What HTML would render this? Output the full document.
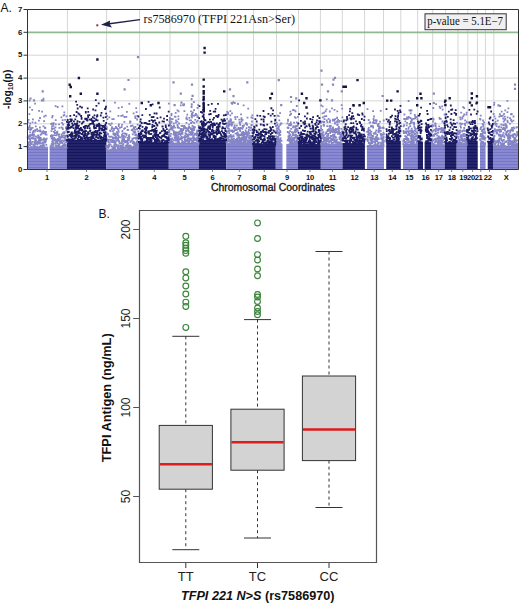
<!DOCTYPE html>
<html><head><meta charset="utf-8"><style>
html,body{margin:0;padding:0;background:#fff;width:520px;height:606px;overflow:hidden}
svg{display:block}
text{font-family:"Liberation Sans",sans-serif;fill:#111}
.yt{font-size:7.8px;font-weight:bold}
.xt{font-size:7.6px;font-weight:bold;letter-spacing:-0.3px}
.xl{font-size:10px;stroke:#111;stroke-width:0.3px}
.yl{font-size:10.2px;font-weight:bold}
.lab{font-size:12px}
.ann{font-family:"Liberation Serif",serif;font-size:12px}
.pv{font-family:"Liberation Serif",serif;font-size:11.8px}
.bt{font-size:12px;fill:#222}
.byl{font-size:12.6px;font-weight:bold}
.bx{font-size:13px;fill:#222}
.bxl{font-size:13px;font-weight:bold}
</style></head><body>
<svg width="520" height="606" viewBox="0 0 520 606" shape-rendering="auto">
<defs><pattern id="pd" patternUnits="userSpaceOnUse" x="0" y="0.5" width="4" height="3"><rect width="4" height="3" fill="#16165c"/><rect y="0" width="4" height="1" fill="#33337c"/></pattern><pattern id="pl" patternUnits="userSpaceOnUse" x="0" y="0.5" width="4" height="3"><rect width="4" height="3" fill="#7676c8"/><rect y="0" width="4" height="1" fill="#9c9cda"/></pattern></defs>
<line x1="27.5" y1="146.6" x2="518.5" y2="146.6" stroke="#d6d6d6" stroke-width="1"/>
<line x1="27.5" y1="123.8" x2="518.5" y2="123.8" stroke="#d6d6d6" stroke-width="1"/>
<line x1="27.5" y1="100.9" x2="518.5" y2="100.9" stroke="#d6d6d6" stroke-width="1"/>
<line x1="27.5" y1="78.1" x2="518.5" y2="78.1" stroke="#d6d6d6" stroke-width="1"/>
<line x1="27.5" y1="55.2" x2="518.5" y2="55.2" stroke="#d6d6d6" stroke-width="1"/>
<line x1="27.5" y1="9.5" x2="518.5" y2="9.5" stroke="#d6d6d6" stroke-width="1"/>
<line x1="67.4" y1="9.5" x2="67.4" y2="169.5" stroke="#d6d6d6" stroke-width="1"/>
<line x1="106.6" y1="9.5" x2="106.6" y2="169.5" stroke="#d6d6d6" stroke-width="1"/>
<line x1="139.6" y1="9.5" x2="139.6" y2="169.5" stroke="#d6d6d6" stroke-width="1"/>
<line x1="170.0" y1="9.5" x2="170.0" y2="169.5" stroke="#d6d6d6" stroke-width="1"/>
<line x1="198.8" y1="9.5" x2="198.8" y2="169.5" stroke="#d6d6d6" stroke-width="1"/>
<line x1="227.2" y1="9.5" x2="227.2" y2="169.5" stroke="#d6d6d6" stroke-width="1"/>
<line x1="253.5" y1="9.5" x2="253.5" y2="169.5" stroke="#d6d6d6" stroke-width="1"/>
<line x1="276.5" y1="9.5" x2="276.5" y2="169.5" stroke="#d6d6d6" stroke-width="1"/>
<line x1="298.5" y1="9.5" x2="298.5" y2="169.5" stroke="#d6d6d6" stroke-width="1"/>
<line x1="320.4" y1="9.5" x2="320.4" y2="169.5" stroke="#d6d6d6" stroke-width="1"/>
<line x1="342.3" y1="9.5" x2="342.3" y2="169.5" stroke="#d6d6d6" stroke-width="1"/>
<line x1="364.6" y1="9.5" x2="364.6" y2="169.5" stroke="#d6d6d6" stroke-width="1"/>
<line x1="383.5" y1="9.5" x2="383.5" y2="169.5" stroke="#d6d6d6" stroke-width="1"/>
<line x1="400.8" y1="9.5" x2="400.8" y2="169.5" stroke="#d6d6d6" stroke-width="1"/>
<line x1="417.7" y1="9.5" x2="417.7" y2="169.5" stroke="#d6d6d6" stroke-width="1"/>
<line x1="432.7" y1="9.5" x2="432.7" y2="169.5" stroke="#d6d6d6" stroke-width="1"/>
<line x1="445.4" y1="9.5" x2="445.4" y2="169.5" stroke="#d6d6d6" stroke-width="1"/>
<line x1="458.0" y1="9.5" x2="458.0" y2="169.5" stroke="#d6d6d6" stroke-width="1"/>
<line x1="467.8" y1="9.5" x2="467.8" y2="169.5" stroke="#d6d6d6" stroke-width="1"/>
<line x1="477.4" y1="9.5" x2="477.4" y2="169.5" stroke="#d6d6d6" stroke-width="1"/>
<line x1="485.4" y1="9.5" x2="485.4" y2="169.5" stroke="#d6d6d6" stroke-width="1"/>
<line x1="493.8" y1="9.5" x2="493.8" y2="169.5" stroke="#d6d6d6" stroke-width="1"/>
<line x1="27.5" y1="32.3" x2="518.5" y2="32.3" stroke="#8dbb8d" stroke-width="1.7"/>
<rect x="27.5" y="147.1" width="39.3" height="22.4" fill="url(#pl)"/>
<rect x="48.0" y="146.1" width="1.6" height="23.4" fill="#fff"/>
<rect x="66.8" y="139.8" width="39.5" height="29.7" fill="url(#pd)"/>
<rect x="106.3" y="149.4" width="32.0" height="20.1" fill="url(#pl)"/>
<rect x="138.3" y="142.1" width="30.5" height="27.4" fill="url(#pd)"/>
<rect x="168.8" y="142.8" width="30.0" height="26.7" fill="url(#pl)"/>
<rect x="198.8" y="139.8" width="27.5" height="29.7" fill="url(#pd)"/>
<rect x="226.3" y="143.4" width="26.2" height="26.1" fill="url(#pl)"/>
<rect x="252.5" y="143.9" width="23.3" height="25.6" fill="url(#pd)"/>
<rect x="275.8" y="143.9" width="22.2" height="25.6" fill="url(#pl)"/>
<rect x="282.5" y="142.9" width="3.8" height="26.6" fill="#fff"/>
<rect x="298.0" y="143.9" width="22.8" height="25.6" fill="url(#pd)"/>
<rect x="320.8" y="143.9" width="21.7" height="25.6" fill="url(#pl)"/>
<rect x="342.5" y="143.2" width="22.4" height="26.3" fill="url(#pd)"/>
<rect x="366.9" y="145.0" width="17.1" height="24.5" fill="url(#pl)"/>
<rect x="386.2" y="140.9" width="14.6" height="28.6" fill="url(#pd)"/>
<rect x="403.0" y="144.4" width="14.7" height="25.1" fill="url(#pl)"/>
<rect x="417.7" y="141.6" width="13.8" height="27.9" fill="url(#pd)"/>
<rect x="423.0" y="140.6" width="1.6" height="28.9" fill="#fff"/>
<rect x="431.5" y="144.4" width="13.2" height="25.1" fill="url(#pl)"/>
<rect x="444.7" y="142.1" width="12.0" height="27.4" fill="url(#pd)"/>
<rect x="456.7" y="144.4" width="10.2" height="25.1" fill="url(#pl)"/>
<rect x="466.9" y="140.9" width="10.8" height="28.6" fill="url(#pd)"/>
<rect x="480.0" y="144.4" width="5.4" height="25.1" fill="url(#pl)"/>
<rect x="487.7" y="140.9" width="5.3" height="28.6" fill="url(#pd)"/>
<rect x="493.0" y="145.7" width="25.0" height="23.8" fill="url(#pl)"/>
<path fill="#8585c6" d="M38.4 146.9h1.8v1.8h-1.8zM26.8 147.0h1.8v1.8h-1.8zM57.9 147.1h1.8v1.8h-1.8zM38.5 147.2h1.8v1.8h-1.8zM36.6 147.1h1.8v1.8h-1.8zM65.7 147.0h1.8v1.8h-1.8zM51.1 146.9h1.8v1.8h-1.8zM35.1 147.3h1.8v1.8h-1.8zM50.7 147.3h1.8v1.8h-1.8zM28.0 147.1h1.8v1.8h-1.8zM44.9 146.9h1.8v1.8h-1.8zM51.3 147.1h1.8v1.8h-1.8zM36.3 147.3h1.8v1.8h-1.8zM34.5 146.7h1.8v1.8h-1.8zM26.7 146.5h1.8v1.8h-1.8zM32.7 146.8h1.8v1.8h-1.8zM61.2 146.6h1.8v1.8h-1.8zM59.9 146.6h1.8v1.8h-1.8zM55.8 146.8h1.8v1.8h-1.8zM60.8 146.7h1.8v1.8h-1.8zM41.8 146.3h1.8v1.8h-1.8zM32.5 146.1h1.8v1.8h-1.8zM41.5 146.0h1.8v1.8h-1.8zM49.8 146.1h1.8v1.8h-1.8zM51.7 146.1h1.8v1.8h-1.8zM32.5 146.2h1.8v1.8h-1.8zM36.0 146.2h1.8v1.8h-1.8zM30.4 146.0h1.8v1.8h-1.8zM35.0 146.1h1.8v1.8h-1.8zM38.4 146.0h1.8v1.8h-1.8zM52.6 146.4h1.8v1.8h-1.8zM59.8 146.0h1.8v1.8h-1.8zM62.1 146.2h1.8v1.8h-1.8zM63.1 145.7h1.8v1.8h-1.8zM33.7 145.6h1.8v1.8h-1.8zM51.8 145.7h1.8v1.8h-1.8zM41.4 145.8h1.8v1.8h-1.8zM36.0 146.0h1.8v1.8h-1.8zM61.0 145.8h1.8v1.8h-1.8zM39.3 145.6h1.8v1.8h-1.8zM60.9 145.4h1.8v1.8h-1.8zM49.8 145.2h1.8v1.8h-1.8zM40.6 145.3h1.8v1.8h-1.8zM56.7 145.1h1.8v1.8h-1.8zM32.5 145.1h1.8v1.8h-1.8zM26.8 145.2h1.8v1.8h-1.8zM58.5 145.4h1.8v1.8h-1.8zM43.1 145.1h1.8v1.8h-1.8zM27.2 145.2h1.8v1.8h-1.8zM57.8 145.3h1.8v1.8h-1.8zM55.1 145.4h1.8v1.8h-1.8zM33.7 144.9h1.8v1.8h-1.8zM63.9 144.8h1.8v1.8h-1.8zM40.0 144.9h1.8v1.8h-1.8zM64.0 144.9h1.8v1.8h-1.8zM65.1 144.8h1.8v1.8h-1.8zM61.8 144.7h1.8v1.8h-1.8zM42.8 144.2h1.8v1.8h-1.8zM29.3 144.4h1.8v1.8h-1.8zM64.0 144.5h1.8v1.8h-1.8zM58.3 144.3h1.8v1.8h-1.8zM54.8 144.3h1.8v1.8h-1.8zM64.8 144.4h1.8v1.8h-1.8zM42.3 144.5h1.8v1.8h-1.8zM28.6 144.5h1.8v1.8h-1.8zM62.6 144.2h1.8v1.8h-1.8zM45.4 143.9h1.8v1.8h-1.8zM52.5 144.0h1.8v1.8h-1.8zM64.4 143.9h1.8v1.8h-1.8zM51.3 143.8h1.8v1.8h-1.8zM33.8 144.1h1.8v1.8h-1.8zM42.8 143.8h1.8v1.8h-1.8zM31.0 143.3h1.8v1.8h-1.8zM58.1 143.3h1.8v1.8h-1.8zM62.6 143.7h1.8v1.8h-1.8zM27.8 143.7h1.8v1.8h-1.8zM36.5 143.6h1.8v1.8h-1.8zM34.0 143.4h1.8v1.8h-1.8zM28.1 143.4h1.8v1.8h-1.8zM33.1 143.4h1.8v1.8h-1.8zM27.4 143.5h1.8v1.8h-1.8zM63.5 143.4h1.8v1.8h-1.8zM58.5 143.4h1.8v1.8h-1.8zM50.6 143.6h1.8v1.8h-1.8zM51.2 142.9h1.8v1.8h-1.8zM38.9 142.8h1.8v1.8h-1.8zM57.9 143.2h1.8v1.8h-1.8zM56.7 142.8h1.8v1.8h-1.8zM34.4 143.0h1.8v1.8h-1.8zM51.7 142.9h1.8v1.8h-1.8zM30.4 142.9h1.8v1.8h-1.8zM51.4 142.8h1.8v1.8h-1.8zM58.2 143.1h1.8v1.8h-1.8zM27.6 142.5h1.8v1.8h-1.8zM35.0 142.5h1.8v1.8h-1.8zM63.7 142.6h1.8v1.8h-1.8zM36.5 142.6h1.8v1.8h-1.8zM52.4 142.7h1.8v1.8h-1.8zM41.6 142.7h1.8v1.8h-1.8zM52.6 142.4h1.8v1.8h-1.8zM41.4 142.6h1.8v1.8h-1.8zM35.1 142.7h1.8v1.8h-1.8zM39.6 142.6h1.8v1.8h-1.8zM29.8 142.4h1.8v1.8h-1.8zM38.4 142.7h1.8v1.8h-1.8zM56.6 142.7h1.8v1.8h-1.8zM29.8 141.9h1.8v1.8h-1.8zM37.2 142.2h1.8v1.8h-1.8zM59.3 142.0h1.8v1.8h-1.8zM34.0 142.1h1.8v1.8h-1.8zM61.3 142.1h1.8v1.8h-1.8zM54.5 142.3h1.8v1.8h-1.8zM33.8 141.5h1.8v1.8h-1.8zM51.9 141.5h1.8v1.8h-1.8zM65.8 141.4h1.8v1.8h-1.8zM59.7 141.5h1.8v1.8h-1.8zM42.1 141.6h1.8v1.8h-1.8zM33.8 141.5h1.8v1.8h-1.8zM56.4 141.5h1.8v1.8h-1.8zM44.1 141.7h1.8v1.8h-1.8zM43.1 141.8h1.8v1.8h-1.8zM59.8 141.6h1.8v1.8h-1.8zM41.8 141.6h1.8v1.8h-1.8zM55.0 141.7h1.8v1.8h-1.8zM59.2 141.4h1.8v1.8h-1.8zM65.4 141.3h1.8v1.8h-1.8zM33.5 141.1h1.8v1.8h-1.8zM44.1 141.1h1.8v1.8h-1.8zM34.1 141.0h1.8v1.8h-1.8zM35.1 141.0h1.8v1.8h-1.8zM29.3 141.2h1.8v1.8h-1.8zM27.9 141.3h1.8v1.8h-1.8zM38.9 141.1h1.8v1.8h-1.8zM44.5 141.4h1.8v1.8h-1.8zM31.4 140.9h1.8v1.8h-1.8zM60.4 140.7h1.8v1.8h-1.8zM33.8 140.6h1.8v1.8h-1.8zM37.0 140.7h1.8v1.8h-1.8zM37.7 140.7h1.8v1.8h-1.8zM51.3 140.7h1.8v1.8h-1.8zM62.6 140.5h1.8v1.8h-1.8zM39.0 140.2h1.8v1.8h-1.8zM29.2 140.4h1.8v1.8h-1.8zM44.9 140.1h1.8v1.8h-1.8zM56.5 140.1h1.8v1.8h-1.8zM56.5 140.2h1.8v1.8h-1.8zM60.0 140.2h1.8v1.8h-1.8zM55.5 140.3h1.8v1.8h-1.8zM64.5 139.8h1.8v1.8h-1.8zM58.2 139.9h1.8v1.8h-1.8zM58.1 139.7h1.8v1.8h-1.8zM51.9 139.6h1.8v1.8h-1.8zM43.6 139.8h1.8v1.8h-1.8zM53.8 139.6h1.8v1.8h-1.8zM39.8 139.7h1.8v1.8h-1.8zM34.8 139.8h1.8v1.8h-1.8zM56.8 140.0h1.8v1.8h-1.8zM63.2 139.5h1.8v1.8h-1.8zM44.4 139.3h1.8v1.8h-1.8zM29.5 139.3h1.8v1.8h-1.8zM35.3 139.5h1.8v1.8h-1.8zM61.1 139.5h1.8v1.8h-1.8zM56.3 138.9h1.8v1.8h-1.8zM39.9 138.7h1.8v1.8h-1.8zM41.6 138.7h1.8v1.8h-1.8zM57.5 138.9h1.8v1.8h-1.8zM54.6 139.1h1.8v1.8h-1.8zM41.9 138.7h1.8v1.8h-1.8zM52.7 138.8h1.8v1.8h-1.8zM43.1 139.0h1.8v1.8h-1.8zM38.1 139.0h1.8v1.8h-1.8zM43.5 138.7h1.8v1.8h-1.8zM40.5 138.9h1.8v1.8h-1.8zM41.2 138.8h1.8v1.8h-1.8zM34.4 138.5h1.8v1.8h-1.8zM59.1 138.3h1.8v1.8h-1.8zM45.2 138.3h1.8v1.8h-1.8zM44.6 138.5h1.8v1.8h-1.8zM34.5 138.5h1.8v1.8h-1.8zM54.4 138.3h1.8v1.8h-1.8zM28.8 138.3h1.8v1.8h-1.8zM58.7 138.4h1.8v1.8h-1.8zM29.1 138.3h1.8v1.8h-1.8zM64.4 138.1h1.8v1.8h-1.8zM38.6 138.1h1.8v1.8h-1.8zM29.3 138.0h1.8v1.8h-1.8zM56.9 137.9h1.8v1.8h-1.8zM34.3 138.1h1.8v1.8h-1.8zM39.2 137.8h1.8v1.8h-1.8zM45.8 137.8h1.8v1.8h-1.8zM52.4 137.9h1.8v1.8h-1.8zM32.0 137.7h1.8v1.8h-1.8zM37.7 137.3h1.8v1.8h-1.8zM27.6 137.7h1.8v1.8h-1.8zM33.1 137.5h1.8v1.8h-1.8zM27.2 137.5h1.8v1.8h-1.8zM33.0 137.6h1.8v1.8h-1.8zM57.7 137.7h1.8v1.8h-1.8zM50.9 137.6h1.8v1.8h-1.8zM43.0 137.4h1.8v1.8h-1.8zM64.1 136.9h1.8v1.8h-1.8zM31.1 137.1h1.8v1.8h-1.8zM27.9 136.9h1.8v1.8h-1.8zM62.6 136.8h1.8v1.8h-1.8zM50.6 137.0h1.8v1.8h-1.8zM53.3 137.0h1.8v1.8h-1.8zM64.0 137.0h1.8v1.8h-1.8zM39.8 137.0h1.8v1.8h-1.8zM31.8 136.7h1.8v1.8h-1.8zM38.5 136.6h1.8v1.8h-1.8zM63.1 136.7h1.8v1.8h-1.8zM61.9 136.5h1.8v1.8h-1.8zM60.1 136.6h1.8v1.8h-1.8zM26.7 136.5h1.8v1.8h-1.8zM36.2 136.8h1.8v1.8h-1.8zM58.6 136.3h1.8v1.8h-1.8zM28.0 136.1h1.8v1.8h-1.8zM59.9 136.3h1.8v1.8h-1.8zM37.4 136.0h1.8v1.8h-1.8zM50.5 136.2h1.8v1.8h-1.8zM51.3 136.2h1.8v1.8h-1.8zM64.4 135.6h1.8v1.8h-1.8zM34.6 135.6h1.8v1.8h-1.8zM37.6 135.7h1.8v1.8h-1.8zM60.4 135.7h1.8v1.8h-1.8zM37.9 135.8h1.8v1.8h-1.8zM29.6 135.8h1.8v1.8h-1.8zM37.3 135.8h1.8v1.8h-1.8zM29.1 135.7h1.8v1.8h-1.8zM35.0 135.6h1.8v1.8h-1.8zM61.4 135.2h1.8v1.8h-1.8zM58.2 135.4h1.8v1.8h-1.8zM50.0 135.1h1.8v1.8h-1.8zM60.7 135.5h1.8v1.8h-1.8zM64.7 134.8h1.8v1.8h-1.8zM28.2 134.8h1.8v1.8h-1.8zM32.6 135.0h1.8v1.8h-1.8zM64.1 134.7h1.8v1.8h-1.8zM52.0 134.8h1.8v1.8h-1.8zM50.9 134.2h1.8v1.8h-1.8zM31.9 134.3h1.8v1.8h-1.8zM55.4 134.4h1.8v1.8h-1.8zM37.2 134.4h1.8v1.8h-1.8zM53.6 134.3h1.8v1.8h-1.8zM30.8 134.2h1.8v1.8h-1.8zM62.9 134.5h1.8v1.8h-1.8zM39.7 134.0h1.8v1.8h-1.8zM45.1 133.7h1.8v1.8h-1.8zM29.4 134.0h1.8v1.8h-1.8zM45.7 133.8h1.8v1.8h-1.8zM58.4 133.5h1.8v1.8h-1.8zM57.3 133.6h1.8v1.8h-1.8zM60.8 133.5h1.8v1.8h-1.8zM44.5 133.3h1.8v1.8h-1.8zM33.1 133.6h1.8v1.8h-1.8zM31.7 133.0h1.8v1.8h-1.8zM40.6 132.9h1.8v1.8h-1.8zM56.3 132.6h1.8v1.8h-1.8zM42.5 132.4h1.8v1.8h-1.8zM43.8 132.0h1.8v1.8h-1.8zM63.4 132.2h1.8v1.8h-1.8zM54.6 132.0h1.8v1.8h-1.8zM31.8 131.8h1.8v1.8h-1.8zM53.9 132.2h1.8v1.8h-1.8zM62.2 132.2h1.8v1.8h-1.8zM62.7 131.5h1.8v1.8h-1.8zM29.2 131.5h1.8v1.8h-1.8zM44.6 131.5h1.8v1.8h-1.8zM44.4 130.9h1.8v1.8h-1.8zM63.8 131.2h1.8v1.8h-1.8zM63.6 131.2h1.8v1.8h-1.8zM41.3 131.0h1.8v1.8h-1.8zM45.1 131.1h1.8v1.8h-1.8zM41.8 131.1h1.8v1.8h-1.8zM32.1 131.3h1.8v1.8h-1.8zM56.2 131.1h1.8v1.8h-1.8zM53.0 131.0h1.8v1.8h-1.8zM56.5 130.7h1.8v1.8h-1.8zM39.3 130.6h1.8v1.8h-1.8zM33.9 130.8h1.8v1.8h-1.8zM42.5 130.2h1.8v1.8h-1.8zM36.6 130.3h1.8v1.8h-1.8zM50.6 130.2h1.8v1.8h-1.8zM32.7 130.1h1.8v1.8h-1.8zM34.5 129.5h1.8v1.8h-1.8zM37.9 129.7h1.8v1.8h-1.8zM65.5 129.5h1.8v1.8h-1.8zM54.2 129.4h1.8v1.8h-1.8zM39.5 129.5h1.8v1.8h-1.8zM34.6 128.9h1.8v1.8h-1.8zM29.4 129.0h1.8v1.8h-1.8zM36.2 128.2h1.8v1.8h-1.8zM61.9 128.3h1.8v1.8h-1.8zM30.3 128.4h1.8v1.8h-1.8zM27.7 128.5h1.8v1.8h-1.8zM51.5 128.1h1.8v1.8h-1.8zM30.0 127.3h1.8v1.8h-1.8zM53.2 127.4h1.8v1.8h-1.8zM50.9 127.6h1.8v1.8h-1.8zM61.6 127.2h1.8v1.8h-1.8zM31.7 126.9h1.8v1.8h-1.8zM58.5 126.9h1.8v1.8h-1.8zM44.4 127.1h1.8v1.8h-1.8zM28.0 126.8h1.8v1.8h-1.8zM65.0 127.1h1.8v1.8h-1.8zM44.0 126.7h1.8v1.8h-1.8zM54.6 126.5h1.8v1.8h-1.8zM60.7 126.4h1.8v1.8h-1.8zM39.0 126.6h1.8v1.8h-1.8zM65.5 126.0h1.8v1.8h-1.8zM28.7 126.1h1.8v1.8h-1.8zM42.6 125.5h1.8v1.8h-1.8zM51.1 125.5h1.8v1.8h-1.8zM34.9 125.5h1.8v1.8h-1.8zM28.8 124.7h1.8v1.8h-1.8zM52.5 124.9h1.8v1.8h-1.8zM52.4 123.9h1.8v1.8h-1.8zM62.2 123.6h1.8v1.8h-1.8zM58.2 123.4h1.8v1.8h-1.8zM54.9 123.4h1.8v1.8h-1.8zM50.3 123.1h1.8v1.8h-1.8zM29.3 122.5h1.8v1.8h-1.8zM51.1 122.6h1.8v1.8h-1.8zM52.9 122.2h1.8v1.8h-1.8zM34.6 121.8h1.8v1.8h-1.8zM61.1 121.9h1.8v1.8h-1.8zM34.5 122.0h1.8v1.8h-1.8zM31.6 121.4h1.8v1.8h-1.8zM27.1 121.2h1.8v1.8h-1.8zM43.2 120.2h1.8v1.8h-1.8zM38.0 119.7h1.8v1.8h-1.8zM54.8 119.3h1.8v1.8h-1.8zM61.8 119.3h1.8v1.8h-1.8zM32.0 118.5h1.8v1.8h-1.8zM27.7 118.9h1.8v1.8h-1.8zM64.3 119.0h1.8v1.8h-1.8zM39.1 117.1h1.8v1.8h-1.8zM51.3 116.5h1.8v1.8h-1.8zM60.5 116.5h1.8v1.8h-1.8zM65.6 115.5h1.8v1.8h-1.8zM43.3 115.6h1.8v1.8h-1.8zM51.7 115.0h1.8v1.8h-1.8zM44.9 114.7h1.8v1.8h-1.8zM62.7 114.7h1.8v1.8h-1.8zM63.4 114.0h1.8v1.8h-1.8zM28.5 113.3h1.8v1.8h-1.8zM63.4 111.5h1.8v1.8h-1.8zM41.2 110.8h1.8v1.8h-1.8zM38.2 110.0h1.8v1.8h-1.8zM31.3 109.0h1.8v1.8h-1.8zM28.9 106.4h1.8v1.8h-1.8zM56.8 106.1h1.8v1.8h-1.8zM61.5 105.4h1.8v1.8h-1.8zM54.7 105.2h1.8v1.8h-1.8zM34.2 102.8h1.8v1.8h-1.8zM28.7 99.6h1.8v1.8h-1.8zM42.6 97.7h1.8v1.8h-1.8zM129.1 149.5h1.8v1.8h-1.8zM121.3 149.5h1.8v1.8h-1.8zM113.0 149.2h1.8v1.8h-1.8zM121.6 149.3h1.8v1.8h-1.8zM127.9 149.3h1.8v1.8h-1.8zM113.8 149.6h1.8v1.8h-1.8zM120.4 149.5h1.8v1.8h-1.8zM109.8 148.8h1.8v1.8h-1.8zM122.5 149.1h1.8v1.8h-1.8zM136.8 148.7h1.8v1.8h-1.8zM135.1 148.8h1.8v1.8h-1.8zM122.4 149.0h1.8v1.8h-1.8zM126.3 149.1h1.8v1.8h-1.8zM125.1 149.1h1.8v1.8h-1.8zM105.8 148.8h1.8v1.8h-1.8zM116.4 148.9h1.8v1.8h-1.8zM130.4 148.8h1.8v1.8h-1.8zM125.1 148.8h1.8v1.8h-1.8zM111.2 148.4h1.8v1.8h-1.8zM112.5 148.6h1.8v1.8h-1.8zM136.4 148.4h1.8v1.8h-1.8zM119.8 148.6h1.8v1.8h-1.8zM114.0 148.3h1.8v1.8h-1.8zM130.7 148.7h1.8v1.8h-1.8zM128.0 148.5h1.8v1.8h-1.8zM128.4 148.6h1.8v1.8h-1.8zM109.6 148.7h1.8v1.8h-1.8zM114.3 148.2h1.8v1.8h-1.8zM129.9 147.9h1.8v1.8h-1.8zM132.3 148.2h1.8v1.8h-1.8zM113.0 148.0h1.8v1.8h-1.8zM135.4 148.0h1.8v1.8h-1.8zM111.8 148.0h1.8v1.8h-1.8zM136.0 147.9h1.8v1.8h-1.8zM134.2 148.1h1.8v1.8h-1.8zM113.8 147.9h1.8v1.8h-1.8zM130.6 147.9h1.8v1.8h-1.8zM117.9 148.1h1.8v1.8h-1.8zM113.1 147.9h1.8v1.8h-1.8zM134.8 148.1h1.8v1.8h-1.8zM133.4 148.1h1.8v1.8h-1.8zM119.7 148.0h1.8v1.8h-1.8zM112.5 148.1h1.8v1.8h-1.8zM113.9 148.1h1.8v1.8h-1.8zM123.0 147.4h1.8v1.8h-1.8zM130.5 147.7h1.8v1.8h-1.8zM132.1 147.5h1.8v1.8h-1.8zM127.1 147.7h1.8v1.8h-1.8zM120.5 147.5h1.8v1.8h-1.8zM130.9 147.4h1.8v1.8h-1.8zM112.3 147.4h1.8v1.8h-1.8zM123.6 147.5h1.8v1.8h-1.8zM134.7 147.1h1.8v1.8h-1.8zM114.0 147.3h1.8v1.8h-1.8zM130.4 147.2h1.8v1.8h-1.8zM121.8 147.3h1.8v1.8h-1.8zM124.8 147.2h1.8v1.8h-1.8zM131.2 147.0h1.8v1.8h-1.8zM128.5 147.2h1.8v1.8h-1.8zM107.4 146.9h1.8v1.8h-1.8zM135.3 147.0h1.8v1.8h-1.8zM134.9 147.0h1.8v1.8h-1.8zM124.8 147.1h1.8v1.8h-1.8zM116.8 147.1h1.8v1.8h-1.8zM112.5 147.1h1.8v1.8h-1.8zM117.4 146.5h1.8v1.8h-1.8zM135.7 146.8h1.8v1.8h-1.8zM105.7 146.4h1.8v1.8h-1.8zM132.9 146.6h1.8v1.8h-1.8zM131.5 146.6h1.8v1.8h-1.8zM134.4 146.8h1.8v1.8h-1.8zM119.6 146.6h1.8v1.8h-1.8zM112.3 146.6h1.8v1.8h-1.8zM113.8 146.6h1.8v1.8h-1.8zM133.9 146.0h1.8v1.8h-1.8zM125.5 146.2h1.8v1.8h-1.8zM128.0 146.3h1.8v1.8h-1.8zM126.8 146.1h1.8v1.8h-1.8zM122.7 146.3h1.8v1.8h-1.8zM105.5 146.3h1.8v1.8h-1.8zM132.1 146.3h1.8v1.8h-1.8zM107.8 146.3h1.8v1.8h-1.8zM122.0 146.2h1.8v1.8h-1.8zM133.5 146.0h1.8v1.8h-1.8zM136.4 146.0h1.8v1.8h-1.8zM132.9 145.7h1.8v1.8h-1.8zM125.6 145.8h1.8v1.8h-1.8zM111.0 145.6h1.8v1.8h-1.8zM129.9 145.6h1.8v1.8h-1.8zM137.3 145.7h1.8v1.8h-1.8zM111.1 145.7h1.8v1.8h-1.8zM114.6 145.7h1.8v1.8h-1.8zM120.1 145.7h1.8v1.8h-1.8zM134.9 145.6h1.8v1.8h-1.8zM118.3 145.4h1.8v1.8h-1.8zM108.4 145.5h1.8v1.8h-1.8zM126.9 145.4h1.8v1.8h-1.8zM120.0 145.1h1.8v1.8h-1.8zM125.5 145.1h1.8v1.8h-1.8zM129.8 145.1h1.8v1.8h-1.8zM107.5 145.3h1.8v1.8h-1.8zM135.8 145.3h1.8v1.8h-1.8zM135.7 145.4h1.8v1.8h-1.8zM107.3 145.1h1.8v1.8h-1.8zM118.6 145.3h1.8v1.8h-1.8zM106.8 145.0h1.8v1.8h-1.8zM124.8 144.7h1.8v1.8h-1.8zM120.8 144.8h1.8v1.8h-1.8zM126.0 145.0h1.8v1.8h-1.8zM113.3 144.6h1.8v1.8h-1.8zM116.0 144.6h1.8v1.8h-1.8zM121.2 145.0h1.8v1.8h-1.8zM105.5 145.0h1.8v1.8h-1.8zM115.7 144.9h1.8v1.8h-1.8zM128.9 144.4h1.8v1.8h-1.8zM128.0 144.4h1.8v1.8h-1.8zM117.2 144.4h1.8v1.8h-1.8zM134.5 144.4h1.8v1.8h-1.8zM108.1 144.6h1.8v1.8h-1.8zM133.6 144.5h1.8v1.8h-1.8zM136.3 143.9h1.8v1.8h-1.8zM109.7 143.7h1.8v1.8h-1.8zM136.9 143.8h1.8v1.8h-1.8zM113.5 144.1h1.8v1.8h-1.8zM122.2 143.9h1.8v1.8h-1.8zM133.5 143.7h1.8v1.8h-1.8zM134.5 144.0h1.8v1.8h-1.8zM109.3 143.5h1.8v1.8h-1.8zM115.3 143.4h1.8v1.8h-1.8zM107.8 143.6h1.8v1.8h-1.8zM126.4 143.4h1.8v1.8h-1.8zM122.4 143.1h1.8v1.8h-1.8zM119.2 142.8h1.8v1.8h-1.8zM126.5 143.0h1.8v1.8h-1.8zM114.2 142.9h1.8v1.8h-1.8zM126.4 143.0h1.8v1.8h-1.8zM133.2 142.9h1.8v1.8h-1.8zM136.8 142.9h1.8v1.8h-1.8zM134.2 143.0h1.8v1.8h-1.8zM135.4 142.6h1.8v1.8h-1.8zM120.4 142.4h1.8v1.8h-1.8zM118.6 142.4h1.8v1.8h-1.8zM118.9 142.6h1.8v1.8h-1.8zM114.3 142.7h1.8v1.8h-1.8zM119.2 142.7h1.8v1.8h-1.8zM131.9 142.3h1.8v1.8h-1.8zM135.2 142.3h1.8v1.8h-1.8zM127.2 142.2h1.8v1.8h-1.8zM133.1 141.6h1.8v1.8h-1.8zM112.9 141.8h1.8v1.8h-1.8zM126.4 141.6h1.8v1.8h-1.8zM111.2 141.2h1.8v1.8h-1.8zM133.3 141.2h1.8v1.8h-1.8zM132.4 141.0h1.8v1.8h-1.8zM123.9 141.4h1.8v1.8h-1.8zM129.6 141.1h1.8v1.8h-1.8zM114.7 141.0h1.8v1.8h-1.8zM120.8 141.4h1.8v1.8h-1.8zM107.6 141.3h1.8v1.8h-1.8zM124.9 141.0h1.8v1.8h-1.8zM108.6 141.4h1.8v1.8h-1.8zM125.3 141.2h1.8v1.8h-1.8zM110.2 140.7h1.8v1.8h-1.8zM136.0 140.9h1.8v1.8h-1.8zM121.9 140.8h1.8v1.8h-1.8zM118.4 140.8h1.8v1.8h-1.8zM114.1 140.8h1.8v1.8h-1.8zM126.5 140.1h1.8v1.8h-1.8zM118.1 140.3h1.8v1.8h-1.8zM125.6 140.4h1.8v1.8h-1.8zM122.4 140.4h1.8v1.8h-1.8zM112.6 140.2h1.8v1.8h-1.8zM136.5 140.0h1.8v1.8h-1.8zM113.7 140.4h1.8v1.8h-1.8zM122.0 140.3h1.8v1.8h-1.8zM130.4 139.9h1.8v1.8h-1.8zM124.8 140.0h1.8v1.8h-1.8zM111.9 139.8h1.8v1.8h-1.8zM107.6 139.8h1.8v1.8h-1.8zM112.8 139.6h1.8v1.8h-1.8zM115.6 139.9h1.8v1.8h-1.8zM131.1 139.8h1.8v1.8h-1.8zM107.0 139.9h1.8v1.8h-1.8zM124.9 139.9h1.8v1.8h-1.8zM113.3 139.7h1.8v1.8h-1.8zM121.2 139.9h1.8v1.8h-1.8zM123.3 139.7h1.8v1.8h-1.8zM116.5 139.5h1.8v1.8h-1.8zM127.6 139.2h1.8v1.8h-1.8zM107.2 139.2h1.8v1.8h-1.8zM127.7 139.5h1.8v1.8h-1.8zM107.0 138.9h1.8v1.8h-1.8zM117.4 138.7h1.8v1.8h-1.8zM127.2 138.9h1.8v1.8h-1.8zM117.1 138.8h1.8v1.8h-1.8zM108.5 138.7h1.8v1.8h-1.8zM126.9 138.9h1.8v1.8h-1.8zM128.1 138.9h1.8v1.8h-1.8zM110.0 138.9h1.8v1.8h-1.8zM131.8 138.6h1.8v1.8h-1.8zM121.4 138.2h1.8v1.8h-1.8zM117.2 137.8h1.8v1.8h-1.8zM123.1 138.1h1.8v1.8h-1.8zM131.5 138.2h1.8v1.8h-1.8zM135.2 137.9h1.8v1.8h-1.8zM123.2 138.0h1.8v1.8h-1.8zM131.8 138.2h1.8v1.8h-1.8zM105.9 138.0h1.8v1.8h-1.8zM114.9 138.0h1.8v1.8h-1.8zM122.6 138.2h1.8v1.8h-1.8zM137.3 137.5h1.8v1.8h-1.8zM111.8 137.6h1.8v1.8h-1.8zM117.1 137.3h1.8v1.8h-1.8zM122.2 137.7h1.8v1.8h-1.8zM128.3 137.5h1.8v1.8h-1.8zM131.5 137.7h1.8v1.8h-1.8zM133.1 137.3h1.8v1.8h-1.8zM105.7 137.5h1.8v1.8h-1.8zM126.8 137.0h1.8v1.8h-1.8zM115.7 137.2h1.8v1.8h-1.8zM134.7 137.3h1.8v1.8h-1.8zM113.5 137.1h1.8v1.8h-1.8zM115.2 136.8h1.8v1.8h-1.8zM122.4 136.5h1.8v1.8h-1.8zM119.5 136.4h1.8v1.8h-1.8zM111.9 136.5h1.8v1.8h-1.8zM128.4 136.4h1.8v1.8h-1.8zM135.0 136.7h1.8v1.8h-1.8zM124.5 136.3h1.8v1.8h-1.8zM117.8 136.2h1.8v1.8h-1.8zM136.5 136.1h1.8v1.8h-1.8zM128.6 136.3h1.8v1.8h-1.8zM115.1 136.0h1.8v1.8h-1.8zM109.2 135.9h1.8v1.8h-1.8zM127.9 135.8h1.8v1.8h-1.8zM110.7 135.7h1.8v1.8h-1.8zM108.2 135.7h1.8v1.8h-1.8zM121.2 135.6h1.8v1.8h-1.8zM108.9 135.7h1.8v1.8h-1.8zM117.7 135.1h1.8v1.8h-1.8zM122.2 135.1h1.8v1.8h-1.8zM137.1 135.1h1.8v1.8h-1.8zM122.9 135.1h1.8v1.8h-1.8zM114.1 134.7h1.8v1.8h-1.8zM116.4 134.5h1.8v1.8h-1.8zM128.2 134.2h1.8v1.8h-1.8zM136.5 134.5h1.8v1.8h-1.8zM134.5 134.2h1.8v1.8h-1.8zM113.5 134.3h1.8v1.8h-1.8zM125.6 134.4h1.8v1.8h-1.8zM121.1 133.9h1.8v1.8h-1.8zM134.3 133.8h1.8v1.8h-1.8zM131.9 133.4h1.8v1.8h-1.8zM112.5 133.3h1.8v1.8h-1.8zM134.5 133.5h1.8v1.8h-1.8zM106.0 133.5h1.8v1.8h-1.8zM135.3 133.6h1.8v1.8h-1.8zM107.1 133.6h1.8v1.8h-1.8zM115.2 133.2h1.8v1.8h-1.8zM124.4 133.0h1.8v1.8h-1.8zM114.2 132.8h1.8v1.8h-1.8zM117.0 133.1h1.8v1.8h-1.8zM125.6 132.9h1.8v1.8h-1.8zM107.2 133.0h1.8v1.8h-1.8zM125.0 133.0h1.8v1.8h-1.8zM112.6 132.3h1.8v1.8h-1.8zM121.7 132.6h1.8v1.8h-1.8zM123.6 132.4h1.8v1.8h-1.8zM124.7 132.7h1.8v1.8h-1.8zM105.9 132.2h1.8v1.8h-1.8zM133.4 131.6h1.8v1.8h-1.8zM133.7 131.5h1.8v1.8h-1.8zM133.4 131.2h1.8v1.8h-1.8zM117.8 131.0h1.8v1.8h-1.8zM116.0 131.2h1.8v1.8h-1.8zM134.5 131.2h1.8v1.8h-1.8zM133.6 130.7h1.8v1.8h-1.8zM137.3 130.5h1.8v1.8h-1.8zM132.5 130.8h1.8v1.8h-1.8zM112.0 130.3h1.8v1.8h-1.8zM109.8 130.2h1.8v1.8h-1.8zM121.5 130.1h1.8v1.8h-1.8zM109.1 129.8h1.8v1.8h-1.8zM126.7 129.1h1.8v1.8h-1.8zM130.8 129.2h1.8v1.8h-1.8zM117.5 129.3h1.8v1.8h-1.8zM127.3 128.9h1.8v1.8h-1.8zM113.1 128.9h1.8v1.8h-1.8zM134.6 128.7h1.8v1.8h-1.8zM134.2 128.7h1.8v1.8h-1.8zM131.2 128.9h1.8v1.8h-1.8zM136.3 128.2h1.8v1.8h-1.8zM110.7 128.2h1.8v1.8h-1.8zM131.8 128.6h1.8v1.8h-1.8zM123.2 127.9h1.8v1.8h-1.8zM105.8 128.1h1.8v1.8h-1.8zM116.9 128.1h1.8v1.8h-1.8zM113.0 127.8h1.8v1.8h-1.8zM136.2 127.9h1.8v1.8h-1.8zM133.2 127.6h1.8v1.8h-1.8zM111.2 127.4h1.8v1.8h-1.8zM124.2 127.3h1.8v1.8h-1.8zM114.8 127.2h1.8v1.8h-1.8zM105.8 126.9h1.8v1.8h-1.8zM119.0 127.0h1.8v1.8h-1.8zM115.8 127.1h1.8v1.8h-1.8zM111.1 126.3h1.8v1.8h-1.8zM132.9 126.6h1.8v1.8h-1.8zM134.4 126.3h1.8v1.8h-1.8zM105.6 126.1h1.8v1.8h-1.8zM115.0 126.1h1.8v1.8h-1.8zM120.7 126.1h1.8v1.8h-1.8zM134.5 125.9h1.8v1.8h-1.8zM126.3 125.8h1.8v1.8h-1.8zM130.1 125.1h1.8v1.8h-1.8zM117.8 125.3h1.8v1.8h-1.8zM131.7 124.7h1.8v1.8h-1.8zM109.6 124.3h1.8v1.8h-1.8zM121.1 124.0h1.8v1.8h-1.8zM136.7 123.8h1.8v1.8h-1.8zM118.0 123.5h1.8v1.8h-1.8zM108.3 122.9h1.8v1.8h-1.8zM108.5 122.9h1.8v1.8h-1.8zM110.8 122.5h1.8v1.8h-1.8zM129.1 121.6h1.8v1.8h-1.8zM129.6 120.8h1.8v1.8h-1.8zM123.5 121.0h1.8v1.8h-1.8zM129.2 120.4h1.8v1.8h-1.8zM136.2 118.6h1.8v1.8h-1.8zM106.5 118.3h1.8v1.8h-1.8zM111.4 118.2h1.8v1.8h-1.8zM112.8 118.2h1.8v1.8h-1.8zM134.5 117.2h1.8v1.8h-1.8zM108.5 116.4h1.8v1.8h-1.8zM125.5 115.9h1.8v1.8h-1.8zM123.6 116.1h1.8v1.8h-1.8zM134.3 115.4h1.8v1.8h-1.8zM117.5 115.0h1.8v1.8h-1.8zM136.4 115.0h1.8v1.8h-1.8zM106.2 115.3h1.8v1.8h-1.8zM120.3 115.0h1.8v1.8h-1.8zM121.9 114.6h1.8v1.8h-1.8zM132.7 112.5h1.8v1.8h-1.8zM135.7 111.2h1.8v1.8h-1.8zM126.0 110.9h1.8v1.8h-1.8zM109.4 110.4h1.8v1.8h-1.8zM135.3 107.2h1.8v1.8h-1.8zM117.7 107.0h1.8v1.8h-1.8zM121.0 106.3h1.8v1.8h-1.8zM128.4 102.9h1.8v1.8h-1.8zM114.1 101.8h1.8v1.8h-1.8zM171.3 142.9h1.8v1.8h-1.8zM171.6 142.7h1.8v1.8h-1.8zM182.0 142.7h1.8v1.8h-1.8zM175.1 142.7h1.8v1.8h-1.8zM197.7 143.0h1.8v1.8h-1.8zM177.5 142.6h1.8v1.8h-1.8zM193.4 142.6h1.8v1.8h-1.8zM174.7 142.7h1.8v1.8h-1.8zM170.5 142.8h1.8v1.8h-1.8zM185.2 142.9h1.8v1.8h-1.8zM180.6 142.8h1.8v1.8h-1.8zM197.5 142.1h1.8v1.8h-1.8zM197.5 142.2h1.8v1.8h-1.8zM168.0 142.5h1.8v1.8h-1.8zM172.0 141.9h1.8v1.8h-1.8zM192.9 142.0h1.8v1.8h-1.8zM180.8 141.9h1.8v1.8h-1.8zM194.7 142.0h1.8v1.8h-1.8zM187.6 141.9h1.8v1.8h-1.8zM187.3 141.7h1.8v1.8h-1.8zM192.6 141.7h1.8v1.8h-1.8zM176.7 142.0h1.8v1.8h-1.8zM171.6 142.0h1.8v1.8h-1.8zM171.5 141.7h1.8v1.8h-1.8zM192.1 141.5h1.8v1.8h-1.8zM191.1 141.6h1.8v1.8h-1.8zM168.9 141.4h1.8v1.8h-1.8zM188.4 141.4h1.8v1.8h-1.8zM183.9 141.4h1.8v1.8h-1.8zM171.8 141.6h1.8v1.8h-1.8zM182.3 141.1h1.8v1.8h-1.8zM178.0 141.2h1.8v1.8h-1.8zM170.3 141.2h1.8v1.8h-1.8zM171.7 140.9h1.8v1.8h-1.8zM170.3 140.8h1.8v1.8h-1.8zM192.0 141.0h1.8v1.8h-1.8zM188.6 140.7h1.8v1.8h-1.8zM171.4 140.9h1.8v1.8h-1.8zM181.9 141.0h1.8v1.8h-1.8zM195.9 140.4h1.8v1.8h-1.8zM185.0 140.6h1.8v1.8h-1.8zM187.1 140.5h1.8v1.8h-1.8zM184.2 140.5h1.8v1.8h-1.8zM170.3 140.3h1.8v1.8h-1.8zM188.7 140.3h1.8v1.8h-1.8zM177.1 140.6h1.8v1.8h-1.8zM181.3 139.9h1.8v1.8h-1.8zM169.4 140.2h1.8v1.8h-1.8zM196.5 140.2h1.8v1.8h-1.8zM170.0 140.0h1.8v1.8h-1.8zM176.6 140.2h1.8v1.8h-1.8zM186.2 140.0h1.8v1.8h-1.8zM193.3 139.4h1.8v1.8h-1.8zM177.7 139.4h1.8v1.8h-1.8zM175.4 139.4h1.8v1.8h-1.8zM174.3 139.8h1.8v1.8h-1.8zM169.9 139.6h1.8v1.8h-1.8zM169.1 139.3h1.8v1.8h-1.8zM186.8 139.5h1.8v1.8h-1.8zM195.6 139.2h1.8v1.8h-1.8zM184.1 139.3h1.8v1.8h-1.8zM184.5 139.0h1.8v1.8h-1.8zM170.3 138.9h1.8v1.8h-1.8zM172.8 139.2h1.8v1.8h-1.8zM190.0 139.2h1.8v1.8h-1.8zM194.2 139.2h1.8v1.8h-1.8zM177.3 139.0h1.8v1.8h-1.8zM193.7 138.9h1.8v1.8h-1.8zM195.8 138.7h1.8v1.8h-1.8zM186.4 138.5h1.8v1.8h-1.8zM179.8 138.4h1.8v1.8h-1.8zM176.7 138.9h1.8v1.8h-1.8zM171.0 138.6h1.8v1.8h-1.8zM179.3 138.5h1.8v1.8h-1.8zM183.9 138.6h1.8v1.8h-1.8zM178.5 138.6h1.8v1.8h-1.8zM188.8 138.7h1.8v1.8h-1.8zM194.4 138.2h1.8v1.8h-1.8zM196.3 138.2h1.8v1.8h-1.8zM179.3 138.1h1.8v1.8h-1.8zM180.0 138.1h1.8v1.8h-1.8zM183.8 138.1h1.8v1.8h-1.8zM192.7 138.2h1.8v1.8h-1.8zM195.3 138.1h1.8v1.8h-1.8zM193.6 138.4h1.8v1.8h-1.8zM168.4 138.1h1.8v1.8h-1.8zM177.9 138.0h1.8v1.8h-1.8zM179.7 138.1h1.8v1.8h-1.8zM175.3 138.1h1.8v1.8h-1.8zM195.6 137.5h1.8v1.8h-1.8zM175.1 137.7h1.8v1.8h-1.8zM170.6 137.7h1.8v1.8h-1.8zM189.2 137.6h1.8v1.8h-1.8zM193.6 137.8h1.8v1.8h-1.8zM171.4 137.6h1.8v1.8h-1.8zM168.7 137.9h1.8v1.8h-1.8zM175.0 137.6h1.8v1.8h-1.8zM181.2 137.6h1.8v1.8h-1.8zM187.9 137.6h1.8v1.8h-1.8zM191.5 137.6h1.8v1.8h-1.8zM176.2 137.8h1.8v1.8h-1.8zM186.8 137.7h1.8v1.8h-1.8zM191.2 137.6h1.8v1.8h-1.8zM177.0 137.9h1.8v1.8h-1.8zM190.1 137.7h1.8v1.8h-1.8zM175.3 137.4h1.8v1.8h-1.8zM174.1 137.5h1.8v1.8h-1.8zM193.3 136.7h1.8v1.8h-1.8zM180.1 137.0h1.8v1.8h-1.8zM176.0 136.7h1.8v1.8h-1.8zM180.1 136.8h1.8v1.8h-1.8zM183.5 136.3h1.8v1.8h-1.8zM175.5 136.6h1.8v1.8h-1.8zM181.8 136.5h1.8v1.8h-1.8zM173.7 136.4h1.8v1.8h-1.8zM196.3 136.4h1.8v1.8h-1.8zM197.5 135.7h1.8v1.8h-1.8zM175.8 135.9h1.8v1.8h-1.8zM184.9 136.1h1.8v1.8h-1.8zM180.7 136.0h1.8v1.8h-1.8zM192.2 136.1h1.8v1.8h-1.8zM197.6 136.0h1.8v1.8h-1.8zM177.8 136.1h1.8v1.8h-1.8zM192.5 135.6h1.8v1.8h-1.8zM187.4 135.5h1.8v1.8h-1.8zM183.7 135.4h1.8v1.8h-1.8zM186.7 135.7h1.8v1.8h-1.8zM169.7 135.2h1.8v1.8h-1.8zM175.5 135.5h1.8v1.8h-1.8zM175.1 135.4h1.8v1.8h-1.8zM197.4 135.5h1.8v1.8h-1.8zM169.3 135.1h1.8v1.8h-1.8zM197.4 135.2h1.8v1.8h-1.8zM184.4 135.1h1.8v1.8h-1.8zM192.4 134.7h1.8v1.8h-1.8zM173.9 134.3h1.8v1.8h-1.8zM173.7 134.4h1.8v1.8h-1.8zM176.9 134.3h1.8v1.8h-1.8zM187.3 134.0h1.8v1.8h-1.8zM190.3 134.0h1.8v1.8h-1.8zM179.7 134.2h1.8v1.8h-1.8zM168.0 134.1h1.8v1.8h-1.8zM195.9 134.1h1.8v1.8h-1.8zM186.4 133.9h1.8v1.8h-1.8zM193.8 134.0h1.8v1.8h-1.8zM191.6 133.4h1.8v1.8h-1.8zM172.5 133.5h1.8v1.8h-1.8zM187.2 133.6h1.8v1.8h-1.8zM175.5 133.7h1.8v1.8h-1.8zM175.0 133.7h1.8v1.8h-1.8zM187.3 133.5h1.8v1.8h-1.8zM189.1 133.7h1.8v1.8h-1.8zM194.7 133.0h1.8v1.8h-1.8zM177.9 133.1h1.8v1.8h-1.8zM179.0 133.1h1.8v1.8h-1.8zM180.7 133.0h1.8v1.8h-1.8zM181.6 133.0h1.8v1.8h-1.8zM185.2 133.2h1.8v1.8h-1.8zM196.9 133.3h1.8v1.8h-1.8zM170.1 132.9h1.8v1.8h-1.8zM190.0 132.8h1.8v1.8h-1.8zM195.2 132.9h1.8v1.8h-1.8zM173.1 132.6h1.8v1.8h-1.8zM180.5 132.8h1.8v1.8h-1.8zM191.3 132.8h1.8v1.8h-1.8zM197.1 132.8h1.8v1.8h-1.8zM193.7 132.7h1.8v1.8h-1.8zM196.0 132.8h1.8v1.8h-1.8zM195.7 132.8h1.8v1.8h-1.8zM181.3 132.6h1.8v1.8h-1.8zM184.5 132.6h1.8v1.8h-1.8zM189.6 132.2h1.8v1.8h-1.8zM184.8 132.3h1.8v1.8h-1.8zM176.1 132.0h1.8v1.8h-1.8zM180.8 131.7h1.8v1.8h-1.8zM176.4 131.6h1.8v1.8h-1.8zM168.0 131.9h1.8v1.8h-1.8zM178.1 131.9h1.8v1.8h-1.8zM176.9 132.0h1.8v1.8h-1.8zM174.2 131.9h1.8v1.8h-1.8zM174.8 131.2h1.8v1.8h-1.8zM181.6 131.4h1.8v1.8h-1.8zM174.5 131.2h1.8v1.8h-1.8zM189.0 131.2h1.8v1.8h-1.8zM192.0 131.5h1.8v1.8h-1.8zM178.5 130.8h1.8v1.8h-1.8zM196.1 131.0h1.8v1.8h-1.8zM173.0 131.1h1.8v1.8h-1.8zM188.0 130.7h1.8v1.8h-1.8zM168.4 131.0h1.8v1.8h-1.8zM190.9 130.2h1.8v1.8h-1.8zM191.1 130.6h1.8v1.8h-1.8zM180.1 130.4h1.8v1.8h-1.8zM187.9 129.8h1.8v1.8h-1.8zM197.3 129.8h1.8v1.8h-1.8zM185.1 130.1h1.8v1.8h-1.8zM172.7 130.1h1.8v1.8h-1.8zM187.1 129.8h1.8v1.8h-1.8zM196.3 129.4h1.8v1.8h-1.8zM181.0 129.7h1.8v1.8h-1.8zM193.2 129.3h1.8v1.8h-1.8zM190.9 129.6h1.8v1.8h-1.8zM179.6 129.5h1.8v1.8h-1.8zM168.0 129.2h1.8v1.8h-1.8zM192.2 129.0h1.8v1.8h-1.8zM182.2 129.1h1.8v1.8h-1.8zM186.7 128.4h1.8v1.8h-1.8zM170.1 128.4h1.8v1.8h-1.8zM170.9 128.7h1.8v1.8h-1.8zM182.6 128.0h1.8v1.8h-1.8zM186.5 128.1h1.8v1.8h-1.8zM190.0 128.3h1.8v1.8h-1.8zM169.2 128.4h1.8v1.8h-1.8zM186.5 128.2h1.8v1.8h-1.8zM193.0 127.9h1.8v1.8h-1.8zM171.3 128.2h1.8v1.8h-1.8zM180.5 128.1h1.8v1.8h-1.8zM184.8 127.7h1.8v1.8h-1.8zM187.3 127.7h1.8v1.8h-1.8zM185.1 127.6h1.8v1.8h-1.8zM171.9 127.6h1.8v1.8h-1.8zM186.6 127.6h1.8v1.8h-1.8zM179.9 127.9h1.8v1.8h-1.8zM171.9 127.3h1.8v1.8h-1.8zM183.9 127.2h1.8v1.8h-1.8zM184.8 127.1h1.8v1.8h-1.8zM191.9 127.4h1.8v1.8h-1.8zM178.1 127.0h1.8v1.8h-1.8zM190.6 127.4h1.8v1.8h-1.8zM186.7 127.4h1.8v1.8h-1.8zM183.0 127.0h1.8v1.8h-1.8zM170.2 127.1h1.8v1.8h-1.8zM193.7 126.9h1.8v1.8h-1.8zM189.0 126.9h1.8v1.8h-1.8zM174.1 126.8h1.8v1.8h-1.8zM176.7 126.6h1.8v1.8h-1.8zM193.7 126.5h1.8v1.8h-1.8zM187.7 126.5h1.8v1.8h-1.8zM194.0 126.3h1.8v1.8h-1.8zM172.0 126.1h1.8v1.8h-1.8zM183.6 126.3h1.8v1.8h-1.8zM188.3 125.9h1.8v1.8h-1.8zM184.0 125.8h1.8v1.8h-1.8zM192.7 125.7h1.8v1.8h-1.8zM172.9 125.7h1.8v1.8h-1.8zM176.9 125.5h1.8v1.8h-1.8zM197.8 125.1h1.8v1.8h-1.8zM169.3 124.8h1.8v1.8h-1.8zM173.1 125.0h1.8v1.8h-1.8zM183.3 125.1h1.8v1.8h-1.8zM180.6 125.0h1.8v1.8h-1.8zM170.5 124.9h1.8v1.8h-1.8zM181.4 125.1h1.8v1.8h-1.8zM191.5 125.0h1.8v1.8h-1.8zM176.6 124.1h1.8v1.8h-1.8zM169.2 124.1h1.8v1.8h-1.8zM188.1 123.7h1.8v1.8h-1.8zM172.9 122.6h1.8v1.8h-1.8zM190.3 122.2h1.8v1.8h-1.8zM190.1 122.1h1.8v1.8h-1.8zM169.9 122.0h1.8v1.8h-1.8zM169.0 122.2h1.8v1.8h-1.8zM185.6 122.0h1.8v1.8h-1.8zM169.6 122.1h1.8v1.8h-1.8zM178.2 122.4h1.8v1.8h-1.8zM193.3 121.9h1.8v1.8h-1.8zM175.1 121.8h1.8v1.8h-1.8zM176.6 120.7h1.8v1.8h-1.8zM170.5 121.0h1.8v1.8h-1.8zM195.8 120.9h1.8v1.8h-1.8zM191.7 120.9h1.8v1.8h-1.8zM170.7 120.8h1.8v1.8h-1.8zM168.5 120.4h1.8v1.8h-1.8zM196.8 119.8h1.8v1.8h-1.8zM188.8 119.4h1.8v1.8h-1.8zM175.1 119.6h1.8v1.8h-1.8zM194.4 119.0h1.8v1.8h-1.8zM177.5 118.3h1.8v1.8h-1.8zM169.3 118.7h1.8v1.8h-1.8zM186.4 118.4h1.8v1.8h-1.8zM169.7 118.0h1.8v1.8h-1.8zM170.1 117.9h1.8v1.8h-1.8zM171.8 118.3h1.8v1.8h-1.8zM185.4 117.8h1.8v1.8h-1.8zM188.5 117.0h1.8v1.8h-1.8zM169.0 116.9h1.8v1.8h-1.8zM185.7 116.4h1.8v1.8h-1.8zM174.6 116.0h1.8v1.8h-1.8zM196.5 116.3h1.8v1.8h-1.8zM173.9 115.7h1.8v1.8h-1.8zM196.8 115.6h1.8v1.8h-1.8zM177.5 115.5h1.8v1.8h-1.8zM193.3 115.0h1.8v1.8h-1.8zM190.9 114.6h1.8v1.8h-1.8zM170.5 114.5h1.8v1.8h-1.8zM194.2 114.2h1.8v1.8h-1.8zM195.7 113.9h1.8v1.8h-1.8zM186.4 113.8h1.8v1.8h-1.8zM170.7 112.9h1.8v1.8h-1.8zM195.0 113.0h1.8v1.8h-1.8zM174.8 112.0h1.8v1.8h-1.8zM192.0 111.6h1.8v1.8h-1.8zM183.5 110.2h1.8v1.8h-1.8zM177.7 110.5h1.8v1.8h-1.8zM193.2 109.3h1.8v1.8h-1.8zM176.6 109.5h1.8v1.8h-1.8zM196.8 107.0h1.8v1.8h-1.8zM196.5 107.0h1.8v1.8h-1.8zM190.6 106.0h1.8v1.8h-1.8zM179.9 104.5h1.8v1.8h-1.8zM197.2 104.3h1.8v1.8h-1.8zM183.3 103.8h1.8v1.8h-1.8zM183.1 103.2h1.8v1.8h-1.8zM183.1 103.3h1.8v1.8h-1.8zM167.9 102.7h1.8v1.8h-1.8zM192.9 101.2h1.8v1.8h-1.8zM193.1 101.2h1.8v1.8h-1.8zM232.6 143.3h1.8v1.8h-1.8zM227.5 143.6h1.8v1.8h-1.8zM232.4 143.3h1.8v1.8h-1.8zM228.4 143.3h1.8v1.8h-1.8zM228.5 143.4h1.8v1.8h-1.8zM245.7 143.4h1.8v1.8h-1.8zM242.2 142.9h1.8v1.8h-1.8zM245.9 142.8h1.8v1.8h-1.8zM243.8 143.2h1.8v1.8h-1.8zM247.3 143.2h1.8v1.8h-1.8zM247.9 143.2h1.8v1.8h-1.8zM245.7 142.9h1.8v1.8h-1.8zM226.1 142.9h1.8v1.8h-1.8zM240.6 143.2h1.8v1.8h-1.8zM248.4 143.0h1.8v1.8h-1.8zM237.5 142.8h1.8v1.8h-1.8zM230.7 143.1h1.8v1.8h-1.8zM249.4 142.4h1.8v1.8h-1.8zM230.9 142.7h1.8v1.8h-1.8zM235.7 142.4h1.8v1.8h-1.8zM238.9 142.6h1.8v1.8h-1.8zM245.5 142.7h1.8v1.8h-1.8zM244.0 142.4h1.8v1.8h-1.8zM228.1 142.5h1.8v1.8h-1.8zM241.0 142.3h1.8v1.8h-1.8zM233.2 142.6h1.8v1.8h-1.8zM249.9 142.7h1.8v1.8h-1.8zM248.9 142.6h1.8v1.8h-1.8zM247.3 142.1h1.8v1.8h-1.8zM241.5 141.9h1.8v1.8h-1.8zM231.7 141.9h1.8v1.8h-1.8zM238.1 142.0h1.8v1.8h-1.8zM232.5 142.0h1.8v1.8h-1.8zM244.4 142.0h1.8v1.8h-1.8zM248.0 142.1h1.8v1.8h-1.8zM225.8 141.9h1.8v1.8h-1.8zM240.3 142.0h1.8v1.8h-1.8zM242.7 141.5h1.8v1.8h-1.8zM234.1 141.8h1.8v1.8h-1.8zM236.1 141.8h1.8v1.8h-1.8zM233.4 141.7h1.8v1.8h-1.8zM230.1 141.5h1.8v1.8h-1.8zM233.6 141.1h1.8v1.8h-1.8zM240.2 141.1h1.8v1.8h-1.8zM225.9 141.3h1.8v1.8h-1.8zM239.9 141.1h1.8v1.8h-1.8zM236.7 141.3h1.8v1.8h-1.8zM233.5 141.0h1.8v1.8h-1.8zM244.2 141.3h1.8v1.8h-1.8zM250.3 141.4h1.8v1.8h-1.8zM231.5 141.2h1.8v1.8h-1.8zM246.5 141.1h1.8v1.8h-1.8zM244.4 140.5h1.8v1.8h-1.8zM249.8 140.8h1.8v1.8h-1.8zM237.3 140.6h1.8v1.8h-1.8zM251.2 140.8h1.8v1.8h-1.8zM250.3 140.6h1.8v1.8h-1.8zM229.3 140.7h1.8v1.8h-1.8zM225.5 140.8h1.8v1.8h-1.8zM248.0 140.1h1.8v1.8h-1.8zM225.7 140.2h1.8v1.8h-1.8zM234.9 140.3h1.8v1.8h-1.8zM239.0 140.1h1.8v1.8h-1.8zM238.1 140.2h1.8v1.8h-1.8zM231.1 140.4h1.8v1.8h-1.8zM242.9 140.0h1.8v1.8h-1.8zM227.4 140.1h1.8v1.8h-1.8zM235.5 140.2h1.8v1.8h-1.8zM232.4 140.2h1.8v1.8h-1.8zM236.8 140.1h1.8v1.8h-1.8zM244.0 139.9h1.8v1.8h-1.8zM227.6 139.8h1.8v1.8h-1.8zM237.7 139.8h1.8v1.8h-1.8zM237.6 139.9h1.8v1.8h-1.8zM243.3 139.9h1.8v1.8h-1.8zM233.0 139.7h1.8v1.8h-1.8zM243.3 139.7h1.8v1.8h-1.8zM244.3 139.4h1.8v1.8h-1.8zM243.5 139.2h1.8v1.8h-1.8zM241.6 139.5h1.8v1.8h-1.8zM240.2 139.4h1.8v1.8h-1.8zM244.1 139.2h1.8v1.8h-1.8zM238.6 139.2h1.8v1.8h-1.8zM229.2 139.2h1.8v1.8h-1.8zM250.8 139.2h1.8v1.8h-1.8zM246.7 139.4h1.8v1.8h-1.8zM249.6 138.9h1.8v1.8h-1.8zM249.6 139.0h1.8v1.8h-1.8zM235.0 139.0h1.8v1.8h-1.8zM243.0 138.7h1.8v1.8h-1.8zM249.8 139.1h1.8v1.8h-1.8zM245.5 138.9h1.8v1.8h-1.8zM231.2 138.7h1.8v1.8h-1.8zM239.3 139.1h1.8v1.8h-1.8zM250.8 138.4h1.8v1.8h-1.8zM245.1 138.3h1.8v1.8h-1.8zM238.6 138.5h1.8v1.8h-1.8zM230.8 138.5h1.8v1.8h-1.8zM227.9 138.5h1.8v1.8h-1.8zM242.5 138.4h1.8v1.8h-1.8zM240.3 138.4h1.8v1.8h-1.8zM240.3 138.0h1.8v1.8h-1.8zM242.1 137.9h1.8v1.8h-1.8zM249.5 137.9h1.8v1.8h-1.8zM239.1 138.0h1.8v1.8h-1.8zM236.5 138.1h1.8v1.8h-1.8zM241.6 137.8h1.8v1.8h-1.8zM240.9 138.1h1.8v1.8h-1.8zM226.4 137.8h1.8v1.8h-1.8zM233.1 137.9h1.8v1.8h-1.8zM250.2 137.8h1.8v1.8h-1.8zM239.9 137.8h1.8v1.8h-1.8zM236.0 137.8h1.8v1.8h-1.8zM245.2 137.7h1.8v1.8h-1.8zM239.6 137.6h1.8v1.8h-1.8zM248.3 137.6h1.8v1.8h-1.8zM244.3 137.3h1.8v1.8h-1.8zM227.1 137.4h1.8v1.8h-1.8zM250.7 137.1h1.8v1.8h-1.8zM230.9 137.1h1.8v1.8h-1.8zM249.1 136.8h1.8v1.8h-1.8zM237.3 137.1h1.8v1.8h-1.8zM241.1 136.9h1.8v1.8h-1.8zM225.6 136.9h1.8v1.8h-1.8zM243.2 136.7h1.8v1.8h-1.8zM245.9 136.6h1.8v1.8h-1.8zM249.5 136.6h1.8v1.8h-1.8zM247.9 136.6h1.8v1.8h-1.8zM242.9 136.7h1.8v1.8h-1.8zM240.8 136.5h1.8v1.8h-1.8zM230.4 136.6h1.8v1.8h-1.8zM249.5 136.7h1.8v1.8h-1.8zM238.2 136.4h1.8v1.8h-1.8zM245.7 136.2h1.8v1.8h-1.8zM248.9 136.0h1.8v1.8h-1.8zM227.8 136.1h1.8v1.8h-1.8zM249.1 136.1h1.8v1.8h-1.8zM250.8 136.2h1.8v1.8h-1.8zM226.8 135.5h1.8v1.8h-1.8zM242.4 135.8h1.8v1.8h-1.8zM228.8 135.7h1.8v1.8h-1.8zM230.1 135.5h1.8v1.8h-1.8zM231.3 135.5h1.8v1.8h-1.8zM244.2 135.7h1.8v1.8h-1.8zM243.0 135.6h1.8v1.8h-1.8zM232.9 135.7h1.8v1.8h-1.8zM250.1 135.1h1.8v1.8h-1.8zM237.7 134.9h1.8v1.8h-1.8zM237.0 134.7h1.8v1.8h-1.8zM236.4 134.6h1.8v1.8h-1.8zM248.5 134.6h1.8v1.8h-1.8zM246.2 134.8h1.8v1.8h-1.8zM232.5 134.6h1.8v1.8h-1.8zM228.5 134.7h1.8v1.8h-1.8zM239.3 134.2h1.8v1.8h-1.8zM240.6 134.3h1.8v1.8h-1.8zM242.1 134.2h1.8v1.8h-1.8zM246.4 134.3h1.8v1.8h-1.8zM242.7 134.4h1.8v1.8h-1.8zM243.2 134.0h1.8v1.8h-1.8zM241.8 133.7h1.8v1.8h-1.8zM246.9 133.7h1.8v1.8h-1.8zM239.0 133.8h1.8v1.8h-1.8zM229.9 134.0h1.8v1.8h-1.8zM237.1 133.3h1.8v1.8h-1.8zM245.2 133.5h1.8v1.8h-1.8zM247.0 133.3h1.8v1.8h-1.8zM240.6 133.4h1.8v1.8h-1.8zM245.0 132.9h1.8v1.8h-1.8zM247.0 132.8h1.8v1.8h-1.8zM243.8 132.7h1.8v1.8h-1.8zM242.4 132.7h1.8v1.8h-1.8zM242.5 133.1h1.8v1.8h-1.8zM241.8 132.8h1.8v1.8h-1.8zM236.5 133.1h1.8v1.8h-1.8zM234.6 132.8h1.8v1.8h-1.8zM248.4 132.3h1.8v1.8h-1.8zM243.6 132.0h1.8v1.8h-1.8zM251.3 132.1h1.8v1.8h-1.8zM236.2 132.2h1.8v1.8h-1.8zM225.8 132.2h1.8v1.8h-1.8zM240.9 131.8h1.8v1.8h-1.8zM228.4 132.2h1.8v1.8h-1.8zM243.3 132.1h1.8v1.8h-1.8zM236.8 131.5h1.8v1.8h-1.8zM245.8 131.4h1.8v1.8h-1.8zM242.2 131.1h1.8v1.8h-1.8zM231.9 131.3h1.8v1.8h-1.8zM245.1 130.7h1.8v1.8h-1.8zM247.6 130.7h1.8v1.8h-1.8zM233.0 130.5h1.8v1.8h-1.8zM228.0 130.4h1.8v1.8h-1.8zM230.5 130.3h1.8v1.8h-1.8zM239.3 130.2h1.8v1.8h-1.8zM226.6 130.4h1.8v1.8h-1.8zM225.9 130.4h1.8v1.8h-1.8zM233.2 130.1h1.8v1.8h-1.8zM230.2 129.7h1.8v1.8h-1.8zM249.9 129.5h1.8v1.8h-1.8zM244.7 129.6h1.8v1.8h-1.8zM227.9 129.7h1.8v1.8h-1.8zM233.2 129.4h1.8v1.8h-1.8zM231.2 129.4h1.8v1.8h-1.8zM235.1 129.1h1.8v1.8h-1.8zM234.0 129.3h1.8v1.8h-1.8zM229.7 129.4h1.8v1.8h-1.8zM239.1 129.0h1.8v1.8h-1.8zM248.0 129.0h1.8v1.8h-1.8zM236.2 128.6h1.8v1.8h-1.8zM238.1 128.3h1.8v1.8h-1.8zM241.5 127.8h1.8v1.8h-1.8zM238.9 128.0h1.8v1.8h-1.8zM241.5 127.9h1.8v1.8h-1.8zM228.0 127.7h1.8v1.8h-1.8zM239.1 127.3h1.8v1.8h-1.8zM237.7 127.6h1.8v1.8h-1.8zM245.6 127.3h1.8v1.8h-1.8zM234.6 127.0h1.8v1.8h-1.8zM248.8 126.9h1.8v1.8h-1.8zM233.0 127.1h1.8v1.8h-1.8zM250.2 126.9h1.8v1.8h-1.8zM226.8 127.1h1.8v1.8h-1.8zM240.0 127.1h1.8v1.8h-1.8zM237.6 126.9h1.8v1.8h-1.8zM248.5 126.7h1.8v1.8h-1.8zM247.9 126.2h1.8v1.8h-1.8zM225.5 125.9h1.8v1.8h-1.8zM242.1 126.2h1.8v1.8h-1.8zM233.6 125.6h1.8v1.8h-1.8zM227.7 125.3h1.8v1.8h-1.8zM241.8 125.1h1.8v1.8h-1.8zM242.2 124.9h1.8v1.8h-1.8zM230.8 124.5h1.8v1.8h-1.8zM236.0 124.7h1.8v1.8h-1.8zM230.9 124.7h1.8v1.8h-1.8zM226.0 124.7h1.8v1.8h-1.8zM250.4 124.6h1.8v1.8h-1.8zM242.8 124.7h1.8v1.8h-1.8zM233.8 124.6h1.8v1.8h-1.8zM250.9 124.1h1.8v1.8h-1.8zM243.1 124.4h1.8v1.8h-1.8zM228.0 123.9h1.8v1.8h-1.8zM230.7 123.7h1.8v1.8h-1.8zM228.5 124.0h1.8v1.8h-1.8zM239.3 124.0h1.8v1.8h-1.8zM246.2 123.9h1.8v1.8h-1.8zM231.3 123.4h1.8v1.8h-1.8zM245.8 123.1h1.8v1.8h-1.8zM229.4 123.6h1.8v1.8h-1.8zM245.0 122.8h1.8v1.8h-1.8zM226.7 122.6h1.8v1.8h-1.8zM225.8 122.3h1.8v1.8h-1.8zM239.0 122.3h1.8v1.8h-1.8zM228.3 122.0h1.8v1.8h-1.8zM230.5 121.8h1.8v1.8h-1.8zM245.4 122.1h1.8v1.8h-1.8zM232.6 121.5h1.8v1.8h-1.8zM238.6 121.3h1.8v1.8h-1.8zM231.1 121.4h1.8v1.8h-1.8zM251.2 120.6h1.8v1.8h-1.8zM240.6 120.4h1.8v1.8h-1.8zM240.7 120.7h1.8v1.8h-1.8zM229.8 120.2h1.8v1.8h-1.8zM228.1 120.3h1.8v1.8h-1.8zM230.1 119.1h1.8v1.8h-1.8zM241.7 118.9h1.8v1.8h-1.8zM238.4 118.8h1.8v1.8h-1.8zM234.6 118.2h1.8v1.8h-1.8zM229.6 118.2h1.8v1.8h-1.8zM240.5 118.4h1.8v1.8h-1.8zM226.3 118.0h1.8v1.8h-1.8zM240.6 117.2h1.8v1.8h-1.8zM251.6 117.3h1.8v1.8h-1.8zM246.6 116.8h1.8v1.8h-1.8zM234.2 116.3h1.8v1.8h-1.8zM250.5 116.5h1.8v1.8h-1.8zM236.4 116.0h1.8v1.8h-1.8zM229.4 114.4h1.8v1.8h-1.8zM251.4 114.4h1.8v1.8h-1.8zM240.2 113.5h1.8v1.8h-1.8zM227.1 113.1h1.8v1.8h-1.8zM225.5 113.5h1.8v1.8h-1.8zM231.1 112.4h1.8v1.8h-1.8zM227.2 111.8h1.8v1.8h-1.8zM226.3 110.9h1.8v1.8h-1.8zM229.5 110.3h1.8v1.8h-1.8zM247.3 107.8h1.8v1.8h-1.8zM242.7 104.4h1.8v1.8h-1.8zM237.1 103.1h1.8v1.8h-1.8zM237.1 102.7h1.8v1.8h-1.8zM231.3 102.9h1.8v1.8h-1.8zM232.4 101.3h1.8v1.8h-1.8zM288.0 143.8h1.8v1.8h-1.8zM279.8 144.1h1.8v1.8h-1.8zM296.2 143.8h1.8v1.8h-1.8zM278.9 143.8h1.8v1.8h-1.8zM277.1 143.3h1.8v1.8h-1.8zM289.1 143.6h1.8v1.8h-1.8zM295.1 143.4h1.8v1.8h-1.8zM292.4 143.5h1.8v1.8h-1.8zM275.7 142.8h1.8v1.8h-1.8zM276.3 143.0h1.8v1.8h-1.8zM289.8 143.1h1.8v1.8h-1.8zM296.7 142.8h1.8v1.8h-1.8zM280.2 143.2h1.8v1.8h-1.8zM289.3 143.0h1.8v1.8h-1.8zM295.3 142.6h1.8v1.8h-1.8zM293.1 142.5h1.8v1.8h-1.8zM291.4 142.4h1.8v1.8h-1.8zM295.0 142.4h1.8v1.8h-1.8zM289.2 142.6h1.8v1.8h-1.8zM277.0 142.2h1.8v1.8h-1.8zM278.7 142.0h1.8v1.8h-1.8zM277.1 141.9h1.8v1.8h-1.8zM295.2 141.6h1.8v1.8h-1.8zM291.9 141.8h1.8v1.8h-1.8zM294.7 141.6h1.8v1.8h-1.8zM279.2 141.8h1.8v1.8h-1.8zM294.1 141.4h1.8v1.8h-1.8zM278.9 141.0h1.8v1.8h-1.8zM276.6 141.1h1.8v1.8h-1.8zM289.6 141.2h1.8v1.8h-1.8zM296.6 141.4h1.8v1.8h-1.8zM289.2 141.1h1.8v1.8h-1.8zM290.7 141.0h1.8v1.8h-1.8zM275.3 141.1h1.8v1.8h-1.8zM296.1 140.4h1.8v1.8h-1.8zM294.8 140.5h1.8v1.8h-1.8zM293.9 140.2h1.8v1.8h-1.8zM290.1 140.3h1.8v1.8h-1.8zM278.4 140.4h1.8v1.8h-1.8zM288.8 140.3h1.8v1.8h-1.8zM275.5 140.4h1.8v1.8h-1.8zM278.7 140.4h1.8v1.8h-1.8zM292.5 139.7h1.8v1.8h-1.8zM291.0 139.9h1.8v1.8h-1.8zM276.7 140.0h1.8v1.8h-1.8zM289.9 139.9h1.8v1.8h-1.8zM296.0 140.0h1.8v1.8h-1.8zM293.0 139.8h1.8v1.8h-1.8zM280.6 139.9h1.8v1.8h-1.8zM279.9 139.9h1.8v1.8h-1.8zM296.5 139.8h1.8v1.8h-1.8zM276.3 139.3h1.8v1.8h-1.8zM287.7 139.6h1.8v1.8h-1.8zM296.0 139.2h1.8v1.8h-1.8zM287.1 139.1h1.8v1.8h-1.8zM286.7 139.5h1.8v1.8h-1.8zM292.8 139.0h1.8v1.8h-1.8zM289.1 138.8h1.8v1.8h-1.8zM291.8 139.1h1.8v1.8h-1.8zM277.7 139.1h1.8v1.8h-1.8zM278.5 139.0h1.8v1.8h-1.8zM279.7 138.4h1.8v1.8h-1.8zM290.3 138.4h1.8v1.8h-1.8zM296.8 138.2h1.8v1.8h-1.8zM293.4 138.4h1.8v1.8h-1.8zM292.6 138.0h1.8v1.8h-1.8zM293.0 138.0h1.8v1.8h-1.8zM293.4 137.9h1.8v1.8h-1.8zM289.1 137.8h1.8v1.8h-1.8zM277.5 137.8h1.8v1.8h-1.8zM287.6 137.4h1.8v1.8h-1.8zM276.7 137.4h1.8v1.8h-1.8zM291.6 137.6h1.8v1.8h-1.8zM277.1 137.4h1.8v1.8h-1.8zM292.1 137.4h1.8v1.8h-1.8zM293.1 137.6h1.8v1.8h-1.8zM288.8 137.5h1.8v1.8h-1.8zM289.2 137.0h1.8v1.8h-1.8zM291.5 137.2h1.8v1.8h-1.8zM289.4 137.1h1.8v1.8h-1.8zM294.4 137.0h1.8v1.8h-1.8zM292.9 136.9h1.8v1.8h-1.8zM279.6 137.2h1.8v1.8h-1.8zM291.8 137.3h1.8v1.8h-1.8zM295.9 137.0h1.8v1.8h-1.8zM295.7 136.7h1.8v1.8h-1.8zM295.8 136.5h1.8v1.8h-1.8zM296.6 136.8h1.8v1.8h-1.8zM276.5 136.1h1.8v1.8h-1.8zM290.5 135.8h1.8v1.8h-1.8zM295.1 135.6h1.8v1.8h-1.8zM294.8 135.9h1.8v1.8h-1.8zM288.3 135.7h1.8v1.8h-1.8zM277.3 135.7h1.8v1.8h-1.8zM287.5 135.4h1.8v1.8h-1.8zM296.3 135.3h1.8v1.8h-1.8zM275.1 135.3h1.8v1.8h-1.8zM296.0 135.3h1.8v1.8h-1.8zM296.5 135.1h1.8v1.8h-1.8zM294.8 134.7h1.8v1.8h-1.8zM295.4 134.5h1.8v1.8h-1.8zM294.2 134.8h1.8v1.8h-1.8zM292.1 134.5h1.8v1.8h-1.8zM293.7 134.2h1.8v1.8h-1.8zM278.2 134.4h1.8v1.8h-1.8zM295.0 134.1h1.8v1.8h-1.8zM288.3 134.5h1.8v1.8h-1.8zM289.3 134.0h1.8v1.8h-1.8zM278.8 134.1h1.8v1.8h-1.8zM279.4 133.9h1.8v1.8h-1.8zM289.5 133.6h1.8v1.8h-1.8zM278.6 132.8h1.8v1.8h-1.8zM277.0 132.8h1.8v1.8h-1.8zM292.0 132.6h1.8v1.8h-1.8zM288.1 131.9h1.8v1.8h-1.8zM292.4 131.8h1.8v1.8h-1.8zM294.5 131.6h1.8v1.8h-1.8zM277.4 131.7h1.8v1.8h-1.8zM279.2 131.2h1.8v1.8h-1.8zM275.3 130.9h1.8v1.8h-1.8zM279.5 131.1h1.8v1.8h-1.8zM286.9 131.1h1.8v1.8h-1.8zM290.9 131.2h1.8v1.8h-1.8zM293.7 130.5h1.8v1.8h-1.8zM276.7 130.8h1.8v1.8h-1.8zM294.1 130.8h1.8v1.8h-1.8zM295.1 130.6h1.8v1.8h-1.8zM276.5 130.0h1.8v1.8h-1.8zM294.9 130.0h1.8v1.8h-1.8zM289.2 130.2h1.8v1.8h-1.8zM279.2 130.0h1.8v1.8h-1.8zM296.9 130.0h1.8v1.8h-1.8zM275.8 129.8h1.8v1.8h-1.8zM294.2 129.7h1.8v1.8h-1.8zM295.1 128.4h1.8v1.8h-1.8zM278.1 128.4h1.8v1.8h-1.8zM294.2 128.4h1.8v1.8h-1.8zM277.4 127.9h1.8v1.8h-1.8zM290.3 128.0h1.8v1.8h-1.8zM296.1 128.1h1.8v1.8h-1.8zM295.3 127.5h1.8v1.8h-1.8zM275.8 127.6h1.8v1.8h-1.8zM287.4 127.2h1.8v1.8h-1.8zM277.2 126.9h1.8v1.8h-1.8zM286.6 126.8h1.8v1.8h-1.8zM292.1 126.5h1.8v1.8h-1.8zM287.6 126.6h1.8v1.8h-1.8zM294.1 126.2h1.8v1.8h-1.8zM278.1 125.7h1.8v1.8h-1.8zM294.8 125.3h1.8v1.8h-1.8zM292.5 125.3h1.8v1.8h-1.8zM296.3 125.0h1.8v1.8h-1.8zM274.9 125.1h1.8v1.8h-1.8zM295.4 125.1h1.8v1.8h-1.8zM290.0 124.5h1.8v1.8h-1.8zM276.7 124.8h1.8v1.8h-1.8zM275.0 124.9h1.8v1.8h-1.8zM288.2 124.3h1.8v1.8h-1.8zM296.8 124.4h1.8v1.8h-1.8zM276.5 123.8h1.8v1.8h-1.8zM279.4 124.0h1.8v1.8h-1.8zM288.6 123.3h1.8v1.8h-1.8zM290.2 123.4h1.8v1.8h-1.8zM279.8 122.6h1.8v1.8h-1.8zM280.6 122.5h1.8v1.8h-1.8zM286.5 122.5h1.8v1.8h-1.8zM289.9 121.4h1.8v1.8h-1.8zM275.8 121.7h1.8v1.8h-1.8zM295.9 121.4h1.8v1.8h-1.8zM293.2 121.7h1.8v1.8h-1.8zM287.1 120.0h1.8v1.8h-1.8zM278.4 119.4h1.8v1.8h-1.8zM287.1 118.7h1.8v1.8h-1.8zM294.8 117.0h1.8v1.8h-1.8zM293.9 116.3h1.8v1.8h-1.8zM297.0 115.9h1.8v1.8h-1.8zM277.8 115.3h1.8v1.8h-1.8zM276.8 114.7h1.8v1.8h-1.8zM289.1 114.3h1.8v1.8h-1.8zM290.2 113.0h1.8v1.8h-1.8zM279.2 112.3h1.8v1.8h-1.8zM289.5 110.8h1.8v1.8h-1.8zM294.7 110.5h1.8v1.8h-1.8zM293.6 109.5h1.8v1.8h-1.8zM292.2 109.1h1.8v1.8h-1.8zM295.9 105.1h1.8v1.8h-1.8zM290.2 101.0h1.8v1.8h-1.8zM327.6 144.1h1.8v1.8h-1.8zM329.2 144.1h1.8v1.8h-1.8zM339.9 143.9h1.8v1.8h-1.8zM324.7 144.0h1.8v1.8h-1.8zM323.8 144.1h1.8v1.8h-1.8zM321.1 143.8h1.8v1.8h-1.8zM322.2 143.8h1.8v1.8h-1.8zM340.9 143.7h1.8v1.8h-1.8zM323.7 143.8h1.8v1.8h-1.8zM336.4 143.5h1.8v1.8h-1.8zM336.5 143.6h1.8v1.8h-1.8zM328.1 143.5h1.8v1.8h-1.8zM335.0 143.4h1.8v1.8h-1.8zM337.6 143.7h1.8v1.8h-1.8zM326.1 143.3h1.8v1.8h-1.8zM325.1 143.3h1.8v1.8h-1.8zM326.6 143.4h1.8v1.8h-1.8zM321.1 143.3h1.8v1.8h-1.8zM322.3 143.5h1.8v1.8h-1.8zM320.2 143.2h1.8v1.8h-1.8zM336.9 143.2h1.8v1.8h-1.8zM325.7 143.1h1.8v1.8h-1.8zM323.3 143.1h1.8v1.8h-1.8zM325.4 143.0h1.8v1.8h-1.8zM323.8 143.2h1.8v1.8h-1.8zM339.6 142.9h1.8v1.8h-1.8zM336.6 143.1h1.8v1.8h-1.8zM340.3 142.8h1.8v1.8h-1.8zM338.7 142.4h1.8v1.8h-1.8zM340.0 142.6h1.8v1.8h-1.8zM320.2 142.6h1.8v1.8h-1.8zM325.8 142.5h1.8v1.8h-1.8zM330.8 142.1h1.8v1.8h-1.8zM337.6 142.2h1.8v1.8h-1.8zM330.9 142.1h1.8v1.8h-1.8zM322.1 142.2h1.8v1.8h-1.8zM325.1 142.1h1.8v1.8h-1.8zM332.0 142.0h1.8v1.8h-1.8zM339.6 142.3h1.8v1.8h-1.8zM338.8 141.8h1.8v1.8h-1.8zM330.6 141.8h1.8v1.8h-1.8zM332.7 141.8h1.8v1.8h-1.8zM333.1 141.5h1.8v1.8h-1.8zM332.8 141.5h1.8v1.8h-1.8zM328.2 141.5h1.8v1.8h-1.8zM338.5 141.4h1.8v1.8h-1.8zM335.0 141.4h1.8v1.8h-1.8zM336.8 141.3h1.8v1.8h-1.8zM321.4 141.0h1.8v1.8h-1.8zM323.8 140.5h1.8v1.8h-1.8zM320.5 140.6h1.8v1.8h-1.8zM333.5 140.8h1.8v1.8h-1.8zM328.2 140.8h1.8v1.8h-1.8zM330.2 140.7h1.8v1.8h-1.8zM323.5 140.9h1.8v1.8h-1.8zM323.0 140.1h1.8v1.8h-1.8zM326.2 140.2h1.8v1.8h-1.8zM320.1 140.2h1.8v1.8h-1.8zM330.1 140.0h1.8v1.8h-1.8zM334.7 139.9h1.8v1.8h-1.8zM325.5 139.9h1.8v1.8h-1.8zM335.5 139.8h1.8v1.8h-1.8zM341.5 139.7h1.8v1.8h-1.8zM339.9 139.7h1.8v1.8h-1.8zM324.9 139.9h1.8v1.8h-1.8zM327.8 139.9h1.8v1.8h-1.8zM330.0 139.7h1.8v1.8h-1.8zM331.6 139.2h1.8v1.8h-1.8zM333.0 139.2h1.8v1.8h-1.8zM320.2 139.3h1.8v1.8h-1.8zM333.0 139.2h1.8v1.8h-1.8zM324.6 139.3h1.8v1.8h-1.8zM325.7 139.2h1.8v1.8h-1.8zM326.7 138.9h1.8v1.8h-1.8zM325.0 139.0h1.8v1.8h-1.8zM340.9 139.0h1.8v1.8h-1.8zM336.1 138.8h1.8v1.8h-1.8zM330.9 138.6h1.8v1.8h-1.8zM327.4 138.3h1.8v1.8h-1.8zM325.2 138.4h1.8v1.8h-1.8zM333.9 138.6h1.8v1.8h-1.8zM323.0 138.2h1.8v1.8h-1.8zM338.7 138.2h1.8v1.8h-1.8zM331.5 138.0h1.8v1.8h-1.8zM323.6 138.2h1.8v1.8h-1.8zM332.4 138.1h1.8v1.8h-1.8zM320.2 138.1h1.8v1.8h-1.8zM327.0 137.5h1.8v1.8h-1.8zM321.9 137.5h1.8v1.8h-1.8zM329.5 137.7h1.8v1.8h-1.8zM323.1 137.5h1.8v1.8h-1.8zM339.4 137.7h1.8v1.8h-1.8zM341.2 136.9h1.8v1.8h-1.8zM329.1 137.0h1.8v1.8h-1.8zM329.8 137.2h1.8v1.8h-1.8zM340.9 137.2h1.8v1.8h-1.8zM324.7 137.2h1.8v1.8h-1.8zM340.3 136.9h1.8v1.8h-1.8zM334.7 136.7h1.8v1.8h-1.8zM325.6 136.7h1.8v1.8h-1.8zM338.5 136.6h1.8v1.8h-1.8zM319.9 136.6h1.8v1.8h-1.8zM338.6 136.4h1.8v1.8h-1.8zM340.3 136.4h1.8v1.8h-1.8zM323.7 136.6h1.8v1.8h-1.8zM335.3 136.5h1.8v1.8h-1.8zM327.7 136.8h1.8v1.8h-1.8zM339.3 136.5h1.8v1.8h-1.8zM338.7 136.6h1.8v1.8h-1.8zM322.2 136.0h1.8v1.8h-1.8zM339.1 136.2h1.8v1.8h-1.8zM338.8 136.3h1.8v1.8h-1.8zM332.5 136.2h1.8v1.8h-1.8zM333.0 135.8h1.8v1.8h-1.8zM341.1 135.8h1.8v1.8h-1.8zM322.3 135.8h1.8v1.8h-1.8zM332.2 135.7h1.8v1.8h-1.8zM334.2 135.9h1.8v1.8h-1.8zM333.6 135.2h1.8v1.8h-1.8zM330.2 135.1h1.8v1.8h-1.8zM330.0 135.1h1.8v1.8h-1.8zM326.2 135.3h1.8v1.8h-1.8zM339.7 135.2h1.8v1.8h-1.8zM340.6 135.4h1.8v1.8h-1.8zM326.5 134.8h1.8v1.8h-1.8zM332.0 134.8h1.8v1.8h-1.8zM320.5 134.5h1.8v1.8h-1.8zM327.5 134.7h1.8v1.8h-1.8zM323.0 134.3h1.8v1.8h-1.8zM339.5 134.3h1.8v1.8h-1.8zM340.6 134.2h1.8v1.8h-1.8zM320.3 134.1h1.8v1.8h-1.8zM322.3 134.4h1.8v1.8h-1.8zM332.1 134.1h1.8v1.8h-1.8zM321.8 133.9h1.8v1.8h-1.8zM332.4 133.8h1.8v1.8h-1.8zM340.2 133.5h1.8v1.8h-1.8zM333.6 133.4h1.8v1.8h-1.8zM340.0 133.0h1.8v1.8h-1.8zM340.4 133.1h1.8v1.8h-1.8zM336.9 133.0h1.8v1.8h-1.8zM324.8 132.9h1.8v1.8h-1.8zM321.2 133.1h1.8v1.8h-1.8zM338.3 132.9h1.8v1.8h-1.8zM327.2 133.1h1.8v1.8h-1.8zM320.3 132.6h1.8v1.8h-1.8zM329.2 132.3h1.8v1.8h-1.8zM338.3 131.9h1.8v1.8h-1.8zM325.2 132.1h1.8v1.8h-1.8zM340.0 131.9h1.8v1.8h-1.8zM322.4 131.8h1.8v1.8h-1.8zM325.4 131.7h1.8v1.8h-1.8zM325.5 131.5h1.8v1.8h-1.8zM334.5 131.8h1.8v1.8h-1.8zM338.2 130.9h1.8v1.8h-1.8zM333.9 131.2h1.8v1.8h-1.8zM331.6 131.3h1.8v1.8h-1.8zM336.1 131.1h1.8v1.8h-1.8zM332.4 131.0h1.8v1.8h-1.8zM322.1 131.3h1.8v1.8h-1.8zM322.5 131.3h1.8v1.8h-1.8zM337.3 131.3h1.8v1.8h-1.8zM332.6 130.5h1.8v1.8h-1.8zM341.2 130.6h1.8v1.8h-1.8zM329.7 130.9h1.8v1.8h-1.8zM333.8 130.6h1.8v1.8h-1.8zM334.9 130.7h1.8v1.8h-1.8zM335.3 130.3h1.8v1.8h-1.8zM338.4 130.3h1.8v1.8h-1.8zM326.5 130.1h1.8v1.8h-1.8zM328.1 130.0h1.8v1.8h-1.8zM320.2 129.6h1.8v1.8h-1.8zM330.2 129.6h1.8v1.8h-1.8zM331.3 129.5h1.8v1.8h-1.8zM328.4 129.3h1.8v1.8h-1.8zM335.4 129.1h1.8v1.8h-1.8zM337.9 129.4h1.8v1.8h-1.8zM321.4 128.9h1.8v1.8h-1.8zM326.9 129.0h1.8v1.8h-1.8zM334.6 128.8h1.8v1.8h-1.8zM333.4 128.7h1.8v1.8h-1.8zM332.4 128.6h1.8v1.8h-1.8zM335.8 128.3h1.8v1.8h-1.8zM327.9 128.3h1.8v1.8h-1.8zM331.5 128.5h1.8v1.8h-1.8zM336.1 128.4h1.8v1.8h-1.8zM335.0 128.0h1.8v1.8h-1.8zM337.8 127.8h1.8v1.8h-1.8zM340.5 128.0h1.8v1.8h-1.8zM337.4 127.6h1.8v1.8h-1.8zM331.9 127.3h1.8v1.8h-1.8zM338.3 127.4h1.8v1.8h-1.8zM320.2 127.2h1.8v1.8h-1.8zM329.7 127.5h1.8v1.8h-1.8zM332.1 126.6h1.8v1.8h-1.8zM329.1 125.9h1.8v1.8h-1.8zM337.9 126.0h1.8v1.8h-1.8zM328.5 125.5h1.8v1.8h-1.8zM323.1 124.9h1.8v1.8h-1.8zM326.3 125.2h1.8v1.8h-1.8zM329.1 125.0h1.8v1.8h-1.8zM320.2 125.2h1.8v1.8h-1.8zM329.9 125.3h1.8v1.8h-1.8zM329.6 125.0h1.8v1.8h-1.8zM336.4 124.3h1.8v1.8h-1.8zM322.6 124.3h1.8v1.8h-1.8zM336.9 123.8h1.8v1.8h-1.8zM322.9 123.8h1.8v1.8h-1.8zM336.4 123.4h1.8v1.8h-1.8zM334.1 122.7h1.8v1.8h-1.8zM320.2 121.8h1.8v1.8h-1.8zM334.1 121.5h1.8v1.8h-1.8zM336.1 121.1h1.8v1.8h-1.8zM329.0 121.2h1.8v1.8h-1.8zM322.9 121.1h1.8v1.8h-1.8zM338.1 120.9h1.8v1.8h-1.8zM323.3 121.0h1.8v1.8h-1.8zM326.6 121.2h1.8v1.8h-1.8zM322.0 120.7h1.8v1.8h-1.8zM336.1 120.6h1.8v1.8h-1.8zM340.4 120.2h1.8v1.8h-1.8zM338.3 120.0h1.8v1.8h-1.8zM329.2 119.6h1.8v1.8h-1.8zM325.8 119.6h1.8v1.8h-1.8zM331.9 119.6h1.8v1.8h-1.8zM333.5 119.4h1.8v1.8h-1.8zM332.1 118.8h1.8v1.8h-1.8zM337.2 118.9h1.8v1.8h-1.8zM332.5 118.9h1.8v1.8h-1.8zM323.6 118.3h1.8v1.8h-1.8zM334.2 118.3h1.8v1.8h-1.8zM327.7 118.0h1.8v1.8h-1.8zM336.1 117.3h1.8v1.8h-1.8zM321.9 116.5h1.8v1.8h-1.8zM336.2 116.7h1.8v1.8h-1.8zM341.5 116.4h1.8v1.8h-1.8zM323.7 115.5h1.8v1.8h-1.8zM325.4 115.3h1.8v1.8h-1.8zM321.6 112.5h1.8v1.8h-1.8zM323.2 111.7h1.8v1.8h-1.8zM324.7 110.5h1.8v1.8h-1.8zM328.9 110.6h1.8v1.8h-1.8zM336.4 110.5h1.8v1.8h-1.8zM333.6 109.0h1.8v1.8h-1.8zM325.6 108.5h1.8v1.8h-1.8zM341.3 107.8h1.8v1.8h-1.8zM331.1 107.4h1.8v1.8h-1.8zM321.7 105.5h1.8v1.8h-1.8zM320.3 104.5h1.8v1.8h-1.8zM340.8 104.3h1.8v1.8h-1.8zM325.9 98.4h1.8v1.8h-1.8zM374.5 144.9h1.8v1.8h-1.8zM373.1 145.1h1.8v1.8h-1.8zM382.5 145.0h1.8v1.8h-1.8zM379.4 145.0h1.8v1.8h-1.8zM375.4 145.1h1.8v1.8h-1.8zM379.9 144.7h1.8v1.8h-1.8zM373.7 144.6h1.8v1.8h-1.8zM382.4 144.8h1.8v1.8h-1.8zM369.2 144.4h1.8v1.8h-1.8zM381.5 144.0h1.8v1.8h-1.8zM375.2 144.2h1.8v1.8h-1.8zM379.3 144.3h1.8v1.8h-1.8zM373.3 144.3h1.8v1.8h-1.8zM373.9 143.7h1.8v1.8h-1.8zM382.6 143.4h1.8v1.8h-1.8zM377.0 143.1h1.8v1.8h-1.8zM382.1 143.1h1.8v1.8h-1.8zM369.1 143.0h1.8v1.8h-1.8zM374.8 143.2h1.8v1.8h-1.8zM369.3 142.6h1.8v1.8h-1.8zM370.1 142.8h1.8v1.8h-1.8zM380.3 142.6h1.8v1.8h-1.8zM370.5 142.8h1.8v1.8h-1.8zM369.2 142.2h1.8v1.8h-1.8zM371.2 142.4h1.8v1.8h-1.8zM370.9 142.4h1.8v1.8h-1.8zM368.3 142.4h1.8v1.8h-1.8zM369.2 142.2h1.8v1.8h-1.8zM367.8 142.4h1.8v1.8h-1.8zM382.3 141.6h1.8v1.8h-1.8zM377.8 142.0h1.8v1.8h-1.8zM379.0 141.7h1.8v1.8h-1.8zM377.2 141.7h1.8v1.8h-1.8zM370.3 141.7h1.8v1.8h-1.8zM381.1 141.6h1.8v1.8h-1.8zM374.4 141.4h1.8v1.8h-1.8zM367.9 141.6h1.8v1.8h-1.8zM373.5 141.5h1.8v1.8h-1.8zM382.7 141.0h1.8v1.8h-1.8zM372.8 140.8h1.8v1.8h-1.8zM371.3 141.1h1.8v1.8h-1.8zM371.6 140.3h1.8v1.8h-1.8zM366.9 140.3h1.8v1.8h-1.8zM375.8 140.0h1.8v1.8h-1.8zM374.9 140.1h1.8v1.8h-1.8zM382.8 140.0h1.8v1.8h-1.8zM376.4 140.2h1.8v1.8h-1.8zM370.7 140.1h1.8v1.8h-1.8zM383.0 140.2h1.8v1.8h-1.8zM369.9 139.5h1.8v1.8h-1.8zM374.9 139.6h1.8v1.8h-1.8zM381.7 139.6h1.8v1.8h-1.8zM369.6 139.5h1.8v1.8h-1.8zM376.0 139.4h1.8v1.8h-1.8zM374.3 139.3h1.8v1.8h-1.8zM380.7 138.5h1.8v1.8h-1.8zM367.0 138.8h1.8v1.8h-1.8zM376.1 138.8h1.8v1.8h-1.8zM366.3 138.8h1.8v1.8h-1.8zM375.3 138.6h1.8v1.8h-1.8zM366.7 138.2h1.8v1.8h-1.8zM373.6 138.0h1.8v1.8h-1.8zM371.3 138.1h1.8v1.8h-1.8zM377.9 138.3h1.8v1.8h-1.8zM366.1 138.2h1.8v1.8h-1.8zM369.5 138.3h1.8v1.8h-1.8zM373.9 138.3h1.8v1.8h-1.8zM375.6 138.1h1.8v1.8h-1.8zM371.5 137.6h1.8v1.8h-1.8zM376.1 137.8h1.8v1.8h-1.8zM380.2 137.6h1.8v1.8h-1.8zM375.6 137.9h1.8v1.8h-1.8zM382.5 137.7h1.8v1.8h-1.8zM371.9 137.9h1.8v1.8h-1.8zM381.8 137.5h1.8v1.8h-1.8zM377.6 137.3h1.8v1.8h-1.8zM374.6 137.2h1.8v1.8h-1.8zM371.7 136.7h1.8v1.8h-1.8zM375.7 137.0h1.8v1.8h-1.8zM380.8 136.9h1.8v1.8h-1.8zM370.2 137.0h1.8v1.8h-1.8zM381.8 136.7h1.8v1.8h-1.8zM371.3 137.0h1.8v1.8h-1.8zM374.9 136.2h1.8v1.8h-1.8zM370.6 136.6h1.8v1.8h-1.8zM367.0 136.2h1.8v1.8h-1.8zM382.0 136.4h1.8v1.8h-1.8zM371.2 136.4h1.8v1.8h-1.8zM369.0 136.4h1.8v1.8h-1.8zM382.7 135.9h1.8v1.8h-1.8zM375.8 135.8h1.8v1.8h-1.8zM372.3 135.4h1.8v1.8h-1.8zM372.0 135.0h1.8v1.8h-1.8zM380.2 134.9h1.8v1.8h-1.8zM367.9 134.3h1.8v1.8h-1.8zM380.4 134.5h1.8v1.8h-1.8zM370.2 134.5h1.8v1.8h-1.8zM376.3 134.1h1.8v1.8h-1.8zM381.8 134.0h1.8v1.8h-1.8zM382.9 133.4h1.8v1.8h-1.8zM370.2 133.6h1.8v1.8h-1.8zM367.2 133.6h1.8v1.8h-1.8zM383.0 133.2h1.8v1.8h-1.8zM380.1 133.1h1.8v1.8h-1.8zM379.7 133.0h1.8v1.8h-1.8zM373.8 132.9h1.8v1.8h-1.8zM368.0 132.6h1.8v1.8h-1.8zM372.8 132.6h1.8v1.8h-1.8zM374.9 132.8h1.8v1.8h-1.8zM369.5 132.6h1.8v1.8h-1.8zM382.5 132.4h1.8v1.8h-1.8zM374.6 132.1h1.8v1.8h-1.8zM382.5 132.0h1.8v1.8h-1.8zM369.3 131.8h1.8v1.8h-1.8zM374.4 131.5h1.8v1.8h-1.8zM377.5 131.4h1.8v1.8h-1.8zM366.2 131.0h1.8v1.8h-1.8zM370.5 130.7h1.8v1.8h-1.8zM367.2 130.6h1.8v1.8h-1.8zM378.7 130.6h1.8v1.8h-1.8zM378.9 129.8h1.8v1.8h-1.8zM367.9 129.8h1.8v1.8h-1.8zM379.8 129.9h1.8v1.8h-1.8zM377.9 130.2h1.8v1.8h-1.8zM375.4 129.6h1.8v1.8h-1.8zM369.2 129.4h1.8v1.8h-1.8zM377.6 129.7h1.8v1.8h-1.8zM367.6 129.1h1.8v1.8h-1.8zM377.9 128.3h1.8v1.8h-1.8zM367.5 128.1h1.8v1.8h-1.8zM379.7 127.2h1.8v1.8h-1.8zM382.7 127.1h1.8v1.8h-1.8zM379.8 126.7h1.8v1.8h-1.8zM372.2 126.8h1.8v1.8h-1.8zM367.9 126.9h1.8v1.8h-1.8zM378.2 126.7h1.8v1.8h-1.8zM381.9 126.9h1.8v1.8h-1.8zM382.4 126.4h1.8v1.8h-1.8zM370.0 125.7h1.8v1.8h-1.8zM377.1 125.2h1.8v1.8h-1.8zM372.0 125.3h1.8v1.8h-1.8zM378.7 125.6h1.8v1.8h-1.8zM370.4 125.1h1.8v1.8h-1.8zM376.9 124.1h1.8v1.8h-1.8zM377.2 124.0h1.8v1.8h-1.8zM377.8 122.9h1.8v1.8h-1.8zM373.4 122.1h1.8v1.8h-1.8zM375.3 122.2h1.8v1.8h-1.8zM372.1 121.6h1.8v1.8h-1.8zM368.7 121.7h1.8v1.8h-1.8zM369.4 121.4h1.8v1.8h-1.8zM379.1 120.7h1.8v1.8h-1.8zM375.3 120.2h1.8v1.8h-1.8zM373.0 119.8h1.8v1.8h-1.8zM375.8 119.6h1.8v1.8h-1.8zM374.8 119.2h1.8v1.8h-1.8zM382.8 119.6h1.8v1.8h-1.8zM367.8 119.1h1.8v1.8h-1.8zM372.6 117.9h1.8v1.8h-1.8zM373.1 115.6h1.8v1.8h-1.8zM372.2 110.3h1.8v1.8h-1.8zM379.8 109.9h1.8v1.8h-1.8zM366.6 108.2h1.8v1.8h-1.8zM411.0 144.4h1.8v1.8h-1.8zM404.1 144.3h1.8v1.8h-1.8zM412.8 144.5h1.8v1.8h-1.8zM403.6 144.4h1.8v1.8h-1.8zM403.5 143.7h1.8v1.8h-1.8zM409.5 143.8h1.8v1.8h-1.8zM414.6 143.8h1.8v1.8h-1.8zM413.7 143.8h1.8v1.8h-1.8zM407.8 144.1h1.8v1.8h-1.8zM405.8 143.8h1.8v1.8h-1.8zM406.8 143.7h1.8v1.8h-1.8zM415.5 143.6h1.8v1.8h-1.8zM413.9 143.2h1.8v1.8h-1.8zM402.4 143.3h1.8v1.8h-1.8zM402.7 143.4h1.8v1.8h-1.8zM410.7 143.1h1.8v1.8h-1.8zM410.3 142.9h1.8v1.8h-1.8zM404.9 143.1h1.8v1.8h-1.8zM402.5 142.4h1.8v1.8h-1.8zM412.5 142.8h1.8v1.8h-1.8zM411.0 142.3h1.8v1.8h-1.8zM410.2 142.1h1.8v1.8h-1.8zM409.6 142.0h1.8v1.8h-1.8zM405.4 142.2h1.8v1.8h-1.8zM416.0 141.8h1.8v1.8h-1.8zM409.3 141.7h1.8v1.8h-1.8zM407.2 141.8h1.8v1.8h-1.8zM410.0 141.5h1.8v1.8h-1.8zM411.0 141.1h1.8v1.8h-1.8zM412.7 141.2h1.8v1.8h-1.8zM413.1 141.2h1.8v1.8h-1.8zM404.0 141.0h1.8v1.8h-1.8zM415.6 141.2h1.8v1.8h-1.8zM410.2 141.4h1.8v1.8h-1.8zM416.1 141.2h1.8v1.8h-1.8zM411.1 141.3h1.8v1.8h-1.8zM404.1 141.1h1.8v1.8h-1.8zM412.0 140.9h1.8v1.8h-1.8zM404.1 140.8h1.8v1.8h-1.8zM404.6 140.9h1.8v1.8h-1.8zM408.7 140.8h1.8v1.8h-1.8zM410.3 140.8h1.8v1.8h-1.8zM403.2 140.5h1.8v1.8h-1.8zM402.4 140.1h1.8v1.8h-1.8zM412.1 140.0h1.8v1.8h-1.8zM410.5 139.7h1.8v1.8h-1.8zM406.2 139.7h1.8v1.8h-1.8zM406.6 139.7h1.8v1.8h-1.8zM403.2 139.8h1.8v1.8h-1.8zM416.1 139.7h1.8v1.8h-1.8zM415.9 139.6h1.8v1.8h-1.8zM402.6 139.4h1.8v1.8h-1.8zM412.6 139.4h1.8v1.8h-1.8zM407.7 139.6h1.8v1.8h-1.8zM411.0 139.1h1.8v1.8h-1.8zM411.2 139.5h1.8v1.8h-1.8zM411.4 139.4h1.8v1.8h-1.8zM407.5 139.5h1.8v1.8h-1.8zM414.5 139.1h1.8v1.8h-1.8zM405.1 138.3h1.8v1.8h-1.8zM415.5 138.6h1.8v1.8h-1.8zM406.1 138.2h1.8v1.8h-1.8zM412.2 138.2h1.8v1.8h-1.8zM407.5 138.1h1.8v1.8h-1.8zM403.3 138.0h1.8v1.8h-1.8zM414.7 138.0h1.8v1.8h-1.8zM410.3 137.8h1.8v1.8h-1.8zM403.6 138.0h1.8v1.8h-1.8zM410.1 137.7h1.8v1.8h-1.8zM406.5 137.6h1.8v1.8h-1.8zM406.2 137.6h1.8v1.8h-1.8zM405.3 137.1h1.8v1.8h-1.8zM412.5 137.3h1.8v1.8h-1.8zM416.8 137.2h1.8v1.8h-1.8zM413.7 136.6h1.8v1.8h-1.8zM406.0 136.7h1.8v1.8h-1.8zM410.4 136.3h1.8v1.8h-1.8zM405.5 136.0h1.8v1.8h-1.8zM412.8 136.4h1.8v1.8h-1.8zM414.5 135.8h1.8v1.8h-1.8zM411.6 135.8h1.8v1.8h-1.8zM411.2 135.8h1.8v1.8h-1.8zM415.0 135.7h1.8v1.8h-1.8zM410.1 135.2h1.8v1.8h-1.8zM415.3 135.3h1.8v1.8h-1.8zM404.3 135.3h1.8v1.8h-1.8zM413.6 135.4h1.8v1.8h-1.8zM411.9 134.4h1.8v1.8h-1.8zM408.7 134.4h1.8v1.8h-1.8zM415.4 134.4h1.8v1.8h-1.8zM412.3 134.5h1.8v1.8h-1.8zM406.7 134.1h1.8v1.8h-1.8zM411.0 133.8h1.8v1.8h-1.8zM408.1 133.2h1.8v1.8h-1.8zM413.9 133.1h1.8v1.8h-1.8zM416.6 132.6h1.8v1.8h-1.8zM414.4 132.4h1.8v1.8h-1.8zM409.2 132.5h1.8v1.8h-1.8zM403.4 132.3h1.8v1.8h-1.8zM405.4 132.3h1.8v1.8h-1.8zM412.6 131.9h1.8v1.8h-1.8zM402.8 131.9h1.8v1.8h-1.8zM416.0 131.4h1.8v1.8h-1.8zM410.7 131.7h1.8v1.8h-1.8zM416.2 131.5h1.8v1.8h-1.8zM407.5 131.6h1.8v1.8h-1.8zM412.3 131.0h1.8v1.8h-1.8zM403.6 131.2h1.8v1.8h-1.8zM403.8 131.2h1.8v1.8h-1.8zM410.6 130.8h1.8v1.8h-1.8zM405.2 130.6h1.8v1.8h-1.8zM410.3 130.1h1.8v1.8h-1.8zM406.4 130.3h1.8v1.8h-1.8zM408.2 130.3h1.8v1.8h-1.8zM414.7 130.3h1.8v1.8h-1.8zM402.7 130.1h1.8v1.8h-1.8zM411.2 129.8h1.8v1.8h-1.8zM413.4 129.7h1.8v1.8h-1.8zM410.1 129.8h1.8v1.8h-1.8zM413.6 129.6h1.8v1.8h-1.8zM407.5 127.9h1.8v1.8h-1.8zM410.8 127.8h1.8v1.8h-1.8zM415.0 128.0h1.8v1.8h-1.8zM414.7 128.1h1.8v1.8h-1.8zM405.2 127.9h1.8v1.8h-1.8zM413.9 126.9h1.8v1.8h-1.8zM407.8 126.4h1.8v1.8h-1.8zM413.5 126.0h1.8v1.8h-1.8zM402.7 125.4h1.8v1.8h-1.8zM409.3 125.2h1.8v1.8h-1.8zM405.8 124.5h1.8v1.8h-1.8zM403.2 124.2h1.8v1.8h-1.8zM413.2 124.0h1.8v1.8h-1.8zM408.9 122.9h1.8v1.8h-1.8zM406.2 121.9h1.8v1.8h-1.8zM410.5 121.9h1.8v1.8h-1.8zM413.2 122.1h1.8v1.8h-1.8zM409.9 121.3h1.8v1.8h-1.8zM412.5 121.7h1.8v1.8h-1.8zM410.0 120.8h1.8v1.8h-1.8zM404.4 120.5h1.8v1.8h-1.8zM410.9 119.6h1.8v1.8h-1.8zM410.7 119.1h1.8v1.8h-1.8zM403.3 118.1h1.8v1.8h-1.8zM405.7 118.1h1.8v1.8h-1.8zM416.5 118.2h1.8v1.8h-1.8zM411.3 118.3h1.8v1.8h-1.8zM412.8 117.9h1.8v1.8h-1.8zM404.1 117.9h1.8v1.8h-1.8zM414.2 117.4h1.8v1.8h-1.8zM407.1 117.6h1.8v1.8h-1.8zM409.5 117.1h1.8v1.8h-1.8zM406.2 116.4h1.8v1.8h-1.8zM407.9 116.0h1.8v1.8h-1.8zM416.0 116.2h1.8v1.8h-1.8zM414.4 115.7h1.8v1.8h-1.8zM413.9 114.0h1.8v1.8h-1.8zM403.5 113.6h1.8v1.8h-1.8zM409.8 112.5h1.8v1.8h-1.8zM409.7 110.0h1.8v1.8h-1.8zM410.6 109.5h1.8v1.8h-1.8zM408.5 109.5h1.8v1.8h-1.8zM409.9 109.2h1.8v1.8h-1.8zM407.7 100.1h1.8v1.8h-1.8zM433.0 144.3h1.8v1.8h-1.8zM433.9 144.3h1.8v1.8h-1.8zM436.3 144.4h1.8v1.8h-1.8zM442.0 144.4h1.8v1.8h-1.8zM439.4 143.8h1.8v1.8h-1.8zM438.5 143.8h1.8v1.8h-1.8zM440.5 143.9h1.8v1.8h-1.8zM436.9 143.6h1.8v1.8h-1.8zM439.8 143.4h1.8v1.8h-1.8zM432.1 142.8h1.8v1.8h-1.8zM431.8 143.1h1.8v1.8h-1.8zM440.9 143.2h1.8v1.8h-1.8zM432.5 143.1h1.8v1.8h-1.8zM440.8 142.7h1.8v1.8h-1.8zM438.1 142.3h1.8v1.8h-1.8zM436.9 142.1h1.8v1.8h-1.8zM440.8 141.6h1.8v1.8h-1.8zM441.9 141.8h1.8v1.8h-1.8zM434.1 141.6h1.8v1.8h-1.8zM439.0 141.7h1.8v1.8h-1.8zM441.2 141.7h1.8v1.8h-1.8zM442.9 141.4h1.8v1.8h-1.8zM431.3 141.1h1.8v1.8h-1.8zM438.3 141.2h1.8v1.8h-1.8zM435.2 140.5h1.8v1.8h-1.8zM436.0 140.9h1.8v1.8h-1.8zM435.9 140.6h1.8v1.8h-1.8zM437.4 140.1h1.8v1.8h-1.8zM438.9 140.1h1.8v1.8h-1.8zM430.8 140.2h1.8v1.8h-1.8zM437.3 140.3h1.8v1.8h-1.8zM434.5 140.3h1.8v1.8h-1.8zM441.4 140.3h1.8v1.8h-1.8zM440.4 139.7h1.8v1.8h-1.8zM439.8 140.0h1.8v1.8h-1.8zM432.2 139.6h1.8v1.8h-1.8zM437.9 139.9h1.8v1.8h-1.8zM434.9 139.5h1.8v1.8h-1.8zM442.3 138.9h1.8v1.8h-1.8zM434.5 138.8h1.8v1.8h-1.8zM437.3 139.0h1.8v1.8h-1.8zM442.3 138.4h1.8v1.8h-1.8zM434.2 138.6h1.8v1.8h-1.8zM431.2 138.6h1.8v1.8h-1.8zM434.0 138.4h1.8v1.8h-1.8zM433.6 138.3h1.8v1.8h-1.8zM437.6 138.5h1.8v1.8h-1.8zM434.9 138.0h1.8v1.8h-1.8zM439.0 138.0h1.8v1.8h-1.8zM440.1 138.0h1.8v1.8h-1.8zM436.6 137.7h1.8v1.8h-1.8zM435.1 137.7h1.8v1.8h-1.8zM439.5 137.4h1.8v1.8h-1.8zM439.3 137.3h1.8v1.8h-1.8zM441.8 137.1h1.8v1.8h-1.8zM440.6 137.2h1.8v1.8h-1.8zM437.1 137.0h1.8v1.8h-1.8zM440.8 137.0h1.8v1.8h-1.8zM438.8 136.9h1.8v1.8h-1.8zM438.4 136.6h1.8v1.8h-1.8zM443.5 136.5h1.8v1.8h-1.8zM440.8 136.8h1.8v1.8h-1.8zM440.9 135.9h1.8v1.8h-1.8zM440.6 136.0h1.8v1.8h-1.8zM443.0 135.7h1.8v1.8h-1.8zM441.2 135.1h1.8v1.8h-1.8zM438.0 135.4h1.8v1.8h-1.8zM433.3 135.0h1.8v1.8h-1.8zM431.5 135.0h1.8v1.8h-1.8zM436.3 134.6h1.8v1.8h-1.8zM441.2 134.7h1.8v1.8h-1.8zM432.7 134.0h1.8v1.8h-1.8zM434.2 132.8h1.8v1.8h-1.8zM434.4 133.1h1.8v1.8h-1.8zM435.2 132.5h1.8v1.8h-1.8zM442.6 131.8h1.8v1.8h-1.8zM437.1 131.9h1.8v1.8h-1.8zM442.6 131.6h1.8v1.8h-1.8zM431.4 130.9h1.8v1.8h-1.8zM439.7 131.3h1.8v1.8h-1.8zM441.6 131.2h1.8v1.8h-1.8zM441.8 131.3h1.8v1.8h-1.8zM432.6 130.0h1.8v1.8h-1.8zM443.0 130.1h1.8v1.8h-1.8zM435.0 130.1h1.8v1.8h-1.8zM430.6 130.3h1.8v1.8h-1.8zM437.1 129.7h1.8v1.8h-1.8zM434.7 129.6h1.8v1.8h-1.8zM441.6 129.3h1.8v1.8h-1.8zM440.5 129.4h1.8v1.8h-1.8zM441.3 128.7h1.8v1.8h-1.8zM437.7 129.0h1.8v1.8h-1.8zM433.5 128.8h1.8v1.8h-1.8zM440.5 128.6h1.8v1.8h-1.8zM443.6 128.9h1.8v1.8h-1.8zM442.9 128.5h1.8v1.8h-1.8zM436.9 128.2h1.8v1.8h-1.8zM435.1 127.9h1.8v1.8h-1.8zM438.1 127.9h1.8v1.8h-1.8zM439.6 127.9h1.8v1.8h-1.8zM435.4 127.5h1.8v1.8h-1.8zM442.2 127.4h1.8v1.8h-1.8zM443.0 127.4h1.8v1.8h-1.8zM443.7 127.1h1.8v1.8h-1.8zM440.5 126.9h1.8v1.8h-1.8zM435.3 127.2h1.8v1.8h-1.8zM431.1 125.8h1.8v1.8h-1.8zM438.3 125.5h1.8v1.8h-1.8zM431.2 125.1h1.8v1.8h-1.8zM434.9 125.2h1.8v1.8h-1.8zM432.1 125.1h1.8v1.8h-1.8zM434.2 124.8h1.8v1.8h-1.8zM443.7 124.8h1.8v1.8h-1.8zM431.6 123.9h1.8v1.8h-1.8zM434.7 122.9h1.8v1.8h-1.8zM434.2 122.4h1.8v1.8h-1.8zM443.1 122.1h1.8v1.8h-1.8zM441.5 120.5h1.8v1.8h-1.8zM432.1 120.7h1.8v1.8h-1.8zM441.7 120.6h1.8v1.8h-1.8zM432.7 118.6h1.8v1.8h-1.8zM438.9 117.9h1.8v1.8h-1.8zM439.9 117.9h1.8v1.8h-1.8zM432.1 117.6h1.8v1.8h-1.8zM438.6 116.9h1.8v1.8h-1.8zM443.7 113.6h1.8v1.8h-1.8zM441.7 108.7h1.8v1.8h-1.8zM439.4 107.2h1.8v1.8h-1.8zM432.4 107.1h1.8v1.8h-1.8zM438.7 105.7h1.8v1.8h-1.8zM441.3 105.5h1.8v1.8h-1.8zM435.2 103.3h1.8v1.8h-1.8zM457.9 144.4h1.8v1.8h-1.8zM463.4 144.2h1.8v1.8h-1.8zM465.7 144.2h1.8v1.8h-1.8zM465.1 143.9h1.8v1.8h-1.8zM458.4 144.1h1.8v1.8h-1.8zM458.2 143.8h1.8v1.8h-1.8zM459.6 144.0h1.8v1.8h-1.8zM457.2 144.1h1.8v1.8h-1.8zM461.6 143.8h1.8v1.8h-1.8zM465.7 143.5h1.8v1.8h-1.8zM461.3 143.3h1.8v1.8h-1.8zM462.3 143.7h1.8v1.8h-1.8zM465.6 143.0h1.8v1.8h-1.8zM462.7 142.9h1.8v1.8h-1.8zM458.4 143.2h1.8v1.8h-1.8zM458.7 142.4h1.8v1.8h-1.8zM456.8 142.4h1.8v1.8h-1.8zM463.9 142.4h1.8v1.8h-1.8zM464.5 142.4h1.8v1.8h-1.8zM457.5 142.7h1.8v1.8h-1.8zM456.6 142.6h1.8v1.8h-1.8zM460.6 141.9h1.8v1.8h-1.8zM459.8 142.1h1.8v1.8h-1.8zM464.7 141.9h1.8v1.8h-1.8zM458.9 141.4h1.8v1.8h-1.8zM457.7 141.8h1.8v1.8h-1.8zM465.6 141.7h1.8v1.8h-1.8zM465.1 141.3h1.8v1.8h-1.8zM465.4 141.1h1.8v1.8h-1.8zM465.4 140.6h1.8v1.8h-1.8zM465.1 140.9h1.8v1.8h-1.8zM458.8 140.9h1.8v1.8h-1.8zM456.0 140.6h1.8v1.8h-1.8zM465.7 140.7h1.8v1.8h-1.8zM465.7 140.6h1.8v1.8h-1.8zM462.1 140.8h1.8v1.8h-1.8zM463.4 140.2h1.8v1.8h-1.8zM464.2 140.2h1.8v1.8h-1.8zM455.9 140.4h1.8v1.8h-1.8zM458.6 140.3h1.8v1.8h-1.8zM461.0 139.6h1.8v1.8h-1.8zM463.0 139.4h1.8v1.8h-1.8zM463.9 139.4h1.8v1.8h-1.8zM458.3 139.1h1.8v1.8h-1.8zM464.5 139.3h1.8v1.8h-1.8zM460.7 139.3h1.8v1.8h-1.8zM462.2 139.0h1.8v1.8h-1.8zM460.1 139.0h1.8v1.8h-1.8zM465.1 138.9h1.8v1.8h-1.8zM463.7 138.2h1.8v1.8h-1.8zM460.3 137.9h1.8v1.8h-1.8zM464.0 137.8h1.8v1.8h-1.8zM457.7 137.6h1.8v1.8h-1.8zM461.6 137.5h1.8v1.8h-1.8zM457.6 136.4h1.8v1.8h-1.8zM457.3 136.1h1.8v1.8h-1.8zM460.0 136.2h1.8v1.8h-1.8zM457.7 136.3h1.8v1.8h-1.8zM465.7 136.2h1.8v1.8h-1.8zM460.5 135.8h1.8v1.8h-1.8zM459.8 135.2h1.8v1.8h-1.8zM460.6 135.4h1.8v1.8h-1.8zM459.8 135.1h1.8v1.8h-1.8zM461.0 135.1h1.8v1.8h-1.8zM462.9 135.2h1.8v1.8h-1.8zM455.9 135.3h1.8v1.8h-1.8zM463.4 135.3h1.8v1.8h-1.8zM465.7 135.0h1.8v1.8h-1.8zM461.0 135.0h1.8v1.8h-1.8zM465.2 135.0h1.8v1.8h-1.8zM460.2 134.3h1.8v1.8h-1.8zM465.2 134.5h1.8v1.8h-1.8zM458.0 133.3h1.8v1.8h-1.8zM456.4 133.4h1.8v1.8h-1.8zM462.1 133.4h1.8v1.8h-1.8zM464.5 133.6h1.8v1.8h-1.8zM456.0 133.2h1.8v1.8h-1.8zM463.1 132.9h1.8v1.8h-1.8zM457.9 132.2h1.8v1.8h-1.8zM456.4 132.1h1.8v1.8h-1.8zM459.3 131.7h1.8v1.8h-1.8zM458.9 131.2h1.8v1.8h-1.8zM456.8 130.6h1.8v1.8h-1.8zM456.7 130.5h1.8v1.8h-1.8zM461.3 130.4h1.8v1.8h-1.8zM457.6 130.3h1.8v1.8h-1.8zM465.3 129.9h1.8v1.8h-1.8zM465.1 130.0h1.8v1.8h-1.8zM461.8 129.7h1.8v1.8h-1.8zM463.5 129.9h1.8v1.8h-1.8zM459.3 129.5h1.8v1.8h-1.8zM465.9 128.9h1.8v1.8h-1.8zM463.4 127.6h1.8v1.8h-1.8zM463.3 126.9h1.8v1.8h-1.8zM460.0 126.6h1.8v1.8h-1.8zM459.7 125.2h1.8v1.8h-1.8zM464.3 124.5h1.8v1.8h-1.8zM460.5 123.1h1.8v1.8h-1.8zM464.0 122.7h1.8v1.8h-1.8zM463.5 123.0h1.8v1.8h-1.8zM461.0 122.8h1.8v1.8h-1.8zM459.1 122.6h1.8v1.8h-1.8zM456.1 122.0h1.8v1.8h-1.8zM465.9 121.7h1.8v1.8h-1.8zM465.7 120.7h1.8v1.8h-1.8zM464.2 119.5h1.8v1.8h-1.8zM459.6 118.4h1.8v1.8h-1.8zM461.4 117.8h1.8v1.8h-1.8zM459.3 116.5h1.8v1.8h-1.8zM461.5 116.6h1.8v1.8h-1.8zM462.5 115.3h1.8v1.8h-1.8zM465.5 113.7h1.8v1.8h-1.8zM463.3 113.6h1.8v1.8h-1.8zM465.8 111.7h1.8v1.8h-1.8zM460.3 111.7h1.8v1.8h-1.8zM463.3 107.3h1.8v1.8h-1.8zM462.3 106.2h1.8v1.8h-1.8zM484.0 143.8h1.8v1.8h-1.8zM482.9 143.4h1.8v1.8h-1.8zM482.7 143.6h1.8v1.8h-1.8zM482.3 143.7h1.8v1.8h-1.8zM480.0 143.0h1.8v1.8h-1.8zM479.9 143.1h1.8v1.8h-1.8zM484.2 142.4h1.8v1.8h-1.8zM481.4 142.1h1.8v1.8h-1.8zM480.2 141.9h1.8v1.8h-1.8zM482.7 141.9h1.8v1.8h-1.8zM480.2 141.8h1.8v1.8h-1.8zM482.1 141.1h1.8v1.8h-1.8zM480.4 140.8h1.8v1.8h-1.8zM481.2 140.9h1.8v1.8h-1.8zM480.7 140.4h1.8v1.8h-1.8zM480.9 140.4h1.8v1.8h-1.8zM479.5 139.2h1.8v1.8h-1.8zM483.6 138.6h1.8v1.8h-1.8zM479.2 138.5h1.8v1.8h-1.8zM482.4 138.2h1.8v1.8h-1.8zM482.3 137.9h1.8v1.8h-1.8zM481.5 137.6h1.8v1.8h-1.8zM480.7 137.7h1.8v1.8h-1.8zM481.2 137.7h1.8v1.8h-1.8zM484.4 137.1h1.8v1.8h-1.8zM483.2 136.5h1.8v1.8h-1.8zM481.4 136.0h1.8v1.8h-1.8zM480.3 135.5h1.8v1.8h-1.8zM479.5 135.5h1.8v1.8h-1.8zM479.7 135.2h1.8v1.8h-1.8zM483.0 135.4h1.8v1.8h-1.8zM482.0 134.6h1.8v1.8h-1.8zM481.0 134.3h1.8v1.8h-1.8zM479.7 134.1h1.8v1.8h-1.8zM479.9 133.8h1.8v1.8h-1.8zM480.1 133.7h1.8v1.8h-1.8zM480.0 132.9h1.8v1.8h-1.8zM481.3 132.7h1.8v1.8h-1.8zM482.3 131.9h1.8v1.8h-1.8zM484.2 132.1h1.8v1.8h-1.8zM483.1 131.5h1.8v1.8h-1.8zM482.2 131.2h1.8v1.8h-1.8zM484.1 131.3h1.8v1.8h-1.8zM480.9 130.2h1.8v1.8h-1.8zM481.6 129.1h1.8v1.8h-1.8zM483.2 128.9h1.8v1.8h-1.8zM479.6 128.2h1.8v1.8h-1.8zM482.8 128.2h1.8v1.8h-1.8zM483.3 127.6h1.8v1.8h-1.8zM479.9 127.0h1.8v1.8h-1.8zM480.4 126.3h1.8v1.8h-1.8zM482.4 125.4h1.8v1.8h-1.8zM482.3 123.7h1.8v1.8h-1.8zM482.6 123.7h1.8v1.8h-1.8zM481.7 122.9h1.8v1.8h-1.8zM483.2 121.4h1.8v1.8h-1.8zM482.1 119.6h1.8v1.8h-1.8zM479.5 118.6h1.8v1.8h-1.8zM479.1 118.0h1.8v1.8h-1.8zM479.8 114.7h1.8v1.8h-1.8zM493.9 145.6h1.8v1.8h-1.8zM512.3 145.7h1.8v1.8h-1.8zM508.3 145.7h1.8v1.8h-1.8zM499.3 145.9h1.8v1.8h-1.8zM508.3 145.8h1.8v1.8h-1.8zM510.7 145.8h1.8v1.8h-1.8zM501.8 145.6h1.8v1.8h-1.8zM512.1 145.4h1.8v1.8h-1.8zM499.2 145.4h1.8v1.8h-1.8zM503.0 145.1h1.8v1.8h-1.8zM504.2 145.2h1.8v1.8h-1.8zM496.0 145.3h1.8v1.8h-1.8zM497.6 145.4h1.8v1.8h-1.8zM513.8 145.1h1.8v1.8h-1.8zM501.6 144.7h1.8v1.8h-1.8zM515.6 144.6h1.8v1.8h-1.8zM515.5 144.8h1.8v1.8h-1.8zM516.3 144.9h1.8v1.8h-1.8zM500.1 144.8h1.8v1.8h-1.8zM507.8 144.7h1.8v1.8h-1.8zM513.0 144.3h1.8v1.8h-1.8zM502.8 144.5h1.8v1.8h-1.8zM511.7 144.4h1.8v1.8h-1.8zM507.8 144.5h1.8v1.8h-1.8zM511.1 144.2h1.8v1.8h-1.8zM515.1 144.1h1.8v1.8h-1.8zM497.3 143.9h1.8v1.8h-1.8zM513.8 143.9h1.8v1.8h-1.8zM493.3 143.8h1.8v1.8h-1.8zM515.9 144.1h1.8v1.8h-1.8zM512.7 143.7h1.8v1.8h-1.8zM502.5 143.8h1.8v1.8h-1.8zM494.1 143.6h1.8v1.8h-1.8zM508.8 143.4h1.8v1.8h-1.8zM502.0 143.4h1.8v1.8h-1.8zM500.1 143.5h1.8v1.8h-1.8zM507.3 143.3h1.8v1.8h-1.8zM510.6 143.4h1.8v1.8h-1.8zM516.6 143.2h1.8v1.8h-1.8zM508.3 142.9h1.8v1.8h-1.8zM501.4 143.0h1.8v1.8h-1.8zM512.4 142.9h1.8v1.8h-1.8zM511.0 143.1h1.8v1.8h-1.8zM500.8 142.9h1.8v1.8h-1.8zM494.5 142.9h1.8v1.8h-1.8zM509.3 142.9h1.8v1.8h-1.8zM497.5 142.6h1.8v1.8h-1.8zM493.3 142.6h1.8v1.8h-1.8zM503.2 142.6h1.8v1.8h-1.8zM501.5 142.7h1.8v1.8h-1.8zM512.6 142.6h1.8v1.8h-1.8zM492.6 142.6h1.8v1.8h-1.8zM501.3 142.7h1.8v1.8h-1.8zM509.6 142.6h1.8v1.8h-1.8zM511.6 142.5h1.8v1.8h-1.8zM516.0 142.6h1.8v1.8h-1.8zM494.9 141.9h1.8v1.8h-1.8zM501.7 142.2h1.8v1.8h-1.8zM514.3 142.0h1.8v1.8h-1.8zM507.2 141.9h1.8v1.8h-1.8zM510.3 141.7h1.8v1.8h-1.8zM499.5 141.7h1.8v1.8h-1.8zM492.3 141.5h1.8v1.8h-1.8zM504.3 141.2h1.8v1.8h-1.8zM510.1 141.2h1.8v1.8h-1.8zM504.8 141.1h1.8v1.8h-1.8zM495.7 141.2h1.8v1.8h-1.8zM508.1 140.9h1.8v1.8h-1.8zM505.3 140.5h1.8v1.8h-1.8zM505.1 140.7h1.8v1.8h-1.8zM512.1 140.7h1.8v1.8h-1.8zM513.0 140.9h1.8v1.8h-1.8zM513.2 140.9h1.8v1.8h-1.8zM497.6 140.7h1.8v1.8h-1.8zM511.3 140.3h1.8v1.8h-1.8zM507.6 140.4h1.8v1.8h-1.8zM509.7 140.3h1.8v1.8h-1.8zM515.3 140.1h1.8v1.8h-1.8zM494.0 140.2h1.8v1.8h-1.8zM501.6 140.3h1.8v1.8h-1.8zM497.3 140.2h1.8v1.8h-1.8zM513.4 140.3h1.8v1.8h-1.8zM501.9 139.8h1.8v1.8h-1.8zM496.3 139.9h1.8v1.8h-1.8zM493.6 139.9h1.8v1.8h-1.8zM508.5 139.6h1.8v1.8h-1.8zM497.5 139.7h1.8v1.8h-1.8zM497.9 139.6h1.8v1.8h-1.8zM498.3 140.0h1.8v1.8h-1.8zM514.8 139.2h1.8v1.8h-1.8zM506.9 139.4h1.8v1.8h-1.8zM516.4 139.5h1.8v1.8h-1.8zM492.2 139.3h1.8v1.8h-1.8zM509.0 139.5h1.8v1.8h-1.8zM513.2 139.4h1.8v1.8h-1.8zM500.5 139.2h1.8v1.8h-1.8zM502.3 139.5h1.8v1.8h-1.8zM503.0 138.9h1.8v1.8h-1.8zM493.0 139.0h1.8v1.8h-1.8zM493.3 138.9h1.8v1.8h-1.8zM508.1 139.1h1.8v1.8h-1.8zM513.8 138.5h1.8v1.8h-1.8zM513.3 138.2h1.8v1.8h-1.8zM498.4 138.3h1.8v1.8h-1.8zM514.8 138.7h1.8v1.8h-1.8zM514.2 138.4h1.8v1.8h-1.8zM513.5 137.8h1.8v1.8h-1.8zM498.8 137.5h1.8v1.8h-1.8zM499.8 137.5h1.8v1.8h-1.8zM508.1 137.4h1.8v1.8h-1.8zM493.1 137.5h1.8v1.8h-1.8zM500.2 137.5h1.8v1.8h-1.8zM509.5 137.3h1.8v1.8h-1.8zM507.0 137.2h1.8v1.8h-1.8zM508.8 137.2h1.8v1.8h-1.8zM514.2 137.0h1.8v1.8h-1.8zM507.7 137.1h1.8v1.8h-1.8zM503.6 136.5h1.8v1.8h-1.8zM508.1 136.8h1.8v1.8h-1.8zM492.9 136.7h1.8v1.8h-1.8zM507.8 136.7h1.8v1.8h-1.8zM512.6 136.2h1.8v1.8h-1.8zM512.3 136.2h1.8v1.8h-1.8zM508.1 135.5h1.8v1.8h-1.8zM507.2 135.8h1.8v1.8h-1.8zM509.1 135.6h1.8v1.8h-1.8zM508.6 135.5h1.8v1.8h-1.8zM515.5 135.8h1.8v1.8h-1.8zM499.7 135.4h1.8v1.8h-1.8zM501.1 135.4h1.8v1.8h-1.8zM492.6 135.4h1.8v1.8h-1.8zM503.2 135.4h1.8v1.8h-1.8zM493.6 135.1h1.8v1.8h-1.8zM511.2 135.0h1.8v1.8h-1.8zM509.9 134.8h1.8v1.8h-1.8zM510.4 134.6h1.8v1.8h-1.8zM511.9 134.8h1.8v1.8h-1.8zM506.0 134.6h1.8v1.8h-1.8zM498.1 134.7h1.8v1.8h-1.8zM507.0 134.7h1.8v1.8h-1.8zM512.0 134.3h1.8v1.8h-1.8zM508.2 134.3h1.8v1.8h-1.8zM512.2 134.4h1.8v1.8h-1.8zM502.0 134.3h1.8v1.8h-1.8zM516.3 134.3h1.8v1.8h-1.8zM514.3 133.9h1.8v1.8h-1.8zM507.5 134.0h1.8v1.8h-1.8zM501.8 134.0h1.8v1.8h-1.8zM499.1 133.9h1.8v1.8h-1.8zM499.6 133.9h1.8v1.8h-1.8zM516.6 133.6h1.8v1.8h-1.8zM512.3 133.6h1.8v1.8h-1.8zM497.8 133.6h1.8v1.8h-1.8zM504.6 133.6h1.8v1.8h-1.8zM507.6 133.0h1.8v1.8h-1.8zM513.8 132.9h1.8v1.8h-1.8zM505.2 132.7h1.8v1.8h-1.8zM492.4 132.6h1.8v1.8h-1.8zM516.4 132.7h1.8v1.8h-1.8zM492.6 132.3h1.8v1.8h-1.8zM495.6 132.6h1.8v1.8h-1.8zM502.5 131.9h1.8v1.8h-1.8zM496.1 132.1h1.8v1.8h-1.8zM509.3 131.8h1.8v1.8h-1.8zM516.3 131.1h1.8v1.8h-1.8zM496.3 131.3h1.8v1.8h-1.8zM505.5 131.3h1.8v1.8h-1.8zM499.0 130.9h1.8v1.8h-1.8zM506.6 130.9h1.8v1.8h-1.8zM494.7 130.4h1.8v1.8h-1.8zM494.3 130.4h1.8v1.8h-1.8zM505.6 130.7h1.8v1.8h-1.8zM509.5 130.0h1.8v1.8h-1.8zM500.2 130.4h1.8v1.8h-1.8zM512.1 129.9h1.8v1.8h-1.8zM507.3 129.9h1.8v1.8h-1.8zM497.9 129.7h1.8v1.8h-1.8zM510.7 129.5h1.8v1.8h-1.8zM509.2 129.7h1.8v1.8h-1.8zM507.1 129.8h1.8v1.8h-1.8zM504.0 129.4h1.8v1.8h-1.8zM496.0 129.2h1.8v1.8h-1.8zM510.3 128.7h1.8v1.8h-1.8zM494.0 128.9h1.8v1.8h-1.8zM497.6 129.0h1.8v1.8h-1.8zM498.9 128.8h1.8v1.8h-1.8zM499.9 129.0h1.8v1.8h-1.8zM512.1 129.0h1.8v1.8h-1.8zM494.1 128.2h1.8v1.8h-1.8zM501.9 128.2h1.8v1.8h-1.8zM502.5 128.2h1.8v1.8h-1.8zM513.4 127.5h1.8v1.8h-1.8zM504.2 127.6h1.8v1.8h-1.8zM511.1 127.1h1.8v1.8h-1.8zM505.5 126.9h1.8v1.8h-1.8zM503.5 127.2h1.8v1.8h-1.8zM500.4 126.4h1.8v1.8h-1.8zM515.5 126.6h1.8v1.8h-1.8zM512.7 126.4h1.8v1.8h-1.8zM497.7 126.4h1.8v1.8h-1.8zM502.6 126.7h1.8v1.8h-1.8zM516.0 126.2h1.8v1.8h-1.8zM505.9 126.1h1.8v1.8h-1.8zM498.3 125.4h1.8v1.8h-1.8zM495.7 125.3h1.8v1.8h-1.8zM505.3 125.1h1.8v1.8h-1.8zM504.3 124.5h1.8v1.8h-1.8zM502.4 124.1h1.8v1.8h-1.8zM505.6 124.4h1.8v1.8h-1.8zM500.4 123.8h1.8v1.8h-1.8zM494.7 123.8h1.8v1.8h-1.8zM509.1 122.7h1.8v1.8h-1.8zM495.3 122.9h1.8v1.8h-1.8zM495.7 123.0h1.8v1.8h-1.8zM504.5 123.1h1.8v1.8h-1.8zM493.7 122.4h1.8v1.8h-1.8zM494.7 120.8h1.8v1.8h-1.8zM506.8 121.1h1.8v1.8h-1.8zM502.8 120.8h1.8v1.8h-1.8zM511.1 120.8h1.8v1.8h-1.8zM512.5 119.8h1.8v1.8h-1.8zM496.9 119.7h1.8v1.8h-1.8zM506.5 119.7h1.8v1.8h-1.8zM503.7 119.4h1.8v1.8h-1.8zM510.1 119.4h1.8v1.8h-1.8zM510.1 118.8h1.8v1.8h-1.8zM504.3 118.1h1.8v1.8h-1.8zM494.5 117.8h1.8v1.8h-1.8zM509.1 117.2h1.8v1.8h-1.8zM502.3 117.6h1.8v1.8h-1.8zM506.7 116.4h1.8v1.8h-1.8zM498.4 115.8h1.8v1.8h-1.8zM503.9 115.8h1.8v1.8h-1.8zM512.6 115.6h1.8v1.8h-1.8zM493.5 115.5h1.8v1.8h-1.8zM500.7 115.2h1.8v1.8h-1.8zM499.7 115.0h1.8v1.8h-1.8zM501.9 114.7h1.8v1.8h-1.8zM510.0 113.5h1.8v1.8h-1.8zM510.8 113.1h1.8v1.8h-1.8zM499.0 113.3h1.8v1.8h-1.8zM492.7 113.1h1.8v1.8h-1.8zM503.2 112.9h1.8v1.8h-1.8zM506.5 111.3h1.8v1.8h-1.8zM500.8 110.8h1.8v1.8h-1.8zM504.3 109.4h1.8v1.8h-1.8zM507.5 107.4h1.8v1.8h-1.8zM499.3 105.1h1.8v1.8h-1.8zM493.2 104.0h1.8v1.8h-1.8zM493.4 102.0h1.8v1.8h-1.8zM506.5 99.9h1.8v1.8h-1.8zM190.6 132.1h1.8v1.8h-1.8zM191.2 112.7h1.8v1.8h-1.8zM190.5 127.7h1.8v1.8h-1.8zM190.8 103.8h1.8v1.8h-1.8zM190.8 133.4h1.8v1.8h-1.8zM191.3 140.0h1.8v1.8h-1.8zM190.6 114.7h1.8v1.8h-1.8zM191.2 132.1h1.8v1.8h-1.8zM190.9 133.2h1.8v1.8h-1.8zM190.7 98.2h1.8v1.8h-1.8zM190.9 127.6h1.8v1.8h-1.8zM190.1 110.4h1.8v1.8h-1.8zM191.0 113.3h1.8v1.8h-1.8zM191.7 140.0h1.8v1.8h-1.8zM190.8 103.3h1.8v1.8h-1.8zM191.5 114.3h1.8v1.8h-1.8zM190.9 103.9h1.8v1.8h-1.8zM190.7 106.3h1.8v1.8h-1.8zM191.1 116.4h1.8v1.8h-1.8zM190.7 97.9h1.8v1.8h-1.8zM192.1 140.4h1.8v1.8h-1.8zM190.2 119.5h1.8v1.8h-1.8zM190.9 115.0h1.8v1.8h-1.8zM191.3 130.4h1.8v1.8h-1.8zM190.7 98.5h1.8v1.8h-1.8z"/>
<path fill="#1c1c64" d="M84.5 139.7h1.8v1.8h-1.8zM85.1 139.6h1.8v1.8h-1.8zM77.1 140.0h1.8v1.8h-1.8zM98.7 139.9h1.8v1.8h-1.8zM99.4 139.7h1.8v1.8h-1.8zM86.0 140.0h1.8v1.8h-1.8zM97.0 140.0h1.8v1.8h-1.8zM104.0 139.6h1.8v1.8h-1.8zM77.9 140.0h1.8v1.8h-1.8zM100.9 139.8h1.8v1.8h-1.8zM70.8 139.8h1.8v1.8h-1.8zM75.6 139.8h1.8v1.8h-1.8zM91.2 139.6h1.8v1.8h-1.8zM97.5 140.0h1.8v1.8h-1.8zM84.8 139.8h1.8v1.8h-1.8zM105.0 140.0h1.8v1.8h-1.8zM81.7 139.4h1.8v1.8h-1.8zM87.9 139.4h1.8v1.8h-1.8zM102.5 139.5h1.8v1.8h-1.8zM74.1 139.5h1.8v1.8h-1.8zM94.0 139.4h1.8v1.8h-1.8zM101.5 139.2h1.8v1.8h-1.8zM102.9 139.5h1.8v1.8h-1.8zM65.9 139.4h1.8v1.8h-1.8zM103.9 139.2h1.8v1.8h-1.8zM68.3 139.2h1.8v1.8h-1.8zM102.1 139.1h1.8v1.8h-1.8zM69.8 138.8h1.8v1.8h-1.8zM71.3 138.9h1.8v1.8h-1.8zM105.2 138.9h1.8v1.8h-1.8zM86.5 138.7h1.8v1.8h-1.8zM77.1 138.7h1.8v1.8h-1.8zM101.9 138.9h1.8v1.8h-1.8zM78.8 139.1h1.8v1.8h-1.8zM102.1 139.0h1.8v1.8h-1.8zM66.3 138.7h1.8v1.8h-1.8zM89.5 138.8h1.8v1.8h-1.8zM94.9 139.1h1.8v1.8h-1.8zM69.5 138.9h1.8v1.8h-1.8zM67.9 138.9h1.8v1.8h-1.8zM95.0 138.8h1.8v1.8h-1.8zM90.3 139.1h1.8v1.8h-1.8zM67.9 138.2h1.8v1.8h-1.8zM72.7 138.5h1.8v1.8h-1.8zM87.5 138.3h1.8v1.8h-1.8zM102.9 138.3h1.8v1.8h-1.8zM79.6 138.6h1.8v1.8h-1.8zM93.8 138.2h1.8v1.8h-1.8zM86.5 137.9h1.8v1.8h-1.8zM105.0 137.9h1.8v1.8h-1.8zM81.4 137.9h1.8v1.8h-1.8zM84.3 138.0h1.8v1.8h-1.8zM80.3 138.0h1.8v1.8h-1.8zM77.0 138.1h1.8v1.8h-1.8zM71.8 138.0h1.8v1.8h-1.8zM99.4 137.6h1.8v1.8h-1.8zM90.4 137.3h1.8v1.8h-1.8zM80.1 137.5h1.8v1.8h-1.8zM83.4 137.4h1.8v1.8h-1.8zM103.8 137.7h1.8v1.8h-1.8zM104.0 137.4h1.8v1.8h-1.8zM97.3 137.4h1.8v1.8h-1.8zM100.3 137.6h1.8v1.8h-1.8zM86.0 137.0h1.8v1.8h-1.8zM73.8 137.3h1.8v1.8h-1.8zM97.1 136.9h1.8v1.8h-1.8zM92.2 137.1h1.8v1.8h-1.8zM91.9 137.2h1.8v1.8h-1.8zM92.1 137.0h1.8v1.8h-1.8zM90.3 137.1h1.8v1.8h-1.8zM74.8 136.9h1.8v1.8h-1.8zM84.2 136.9h1.8v1.8h-1.8zM80.3 137.2h1.8v1.8h-1.8zM87.3 137.0h1.8v1.8h-1.8zM102.3 136.9h1.8v1.8h-1.8zM92.7 136.7h1.8v1.8h-1.8zM89.9 136.6h1.8v1.8h-1.8zM88.1 136.8h1.8v1.8h-1.8zM85.6 136.7h1.8v1.8h-1.8zM81.1 136.8h1.8v1.8h-1.8zM91.8 136.4h1.8v1.8h-1.8zM79.9 136.8h1.8v1.8h-1.8zM90.4 136.8h1.8v1.8h-1.8zM101.1 136.8h1.8v1.8h-1.8zM80.2 136.6h1.8v1.8h-1.8zM70.6 136.7h1.8v1.8h-1.8zM77.5 136.0h1.8v1.8h-1.8zM105.1 136.1h1.8v1.8h-1.8zM100.3 135.9h1.8v1.8h-1.8zM95.2 136.1h1.8v1.8h-1.8zM74.6 136.2h1.8v1.8h-1.8zM90.5 135.9h1.8v1.8h-1.8zM77.8 136.2h1.8v1.8h-1.8zM66.8 136.0h1.8v1.8h-1.8zM83.4 136.0h1.8v1.8h-1.8zM75.1 136.1h1.8v1.8h-1.8zM92.5 136.2h1.8v1.8h-1.8zM103.2 135.5h1.8v1.8h-1.8zM91.5 135.8h1.8v1.8h-1.8zM98.4 135.6h1.8v1.8h-1.8zM95.4 135.6h1.8v1.8h-1.8zM98.7 135.8h1.8v1.8h-1.8zM92.5 135.7h1.8v1.8h-1.8zM79.2 135.8h1.8v1.8h-1.8zM72.0 135.7h1.8v1.8h-1.8zM95.8 135.1h1.8v1.8h-1.8zM86.0 135.1h1.8v1.8h-1.8zM83.3 135.3h1.8v1.8h-1.8zM85.9 135.4h1.8v1.8h-1.8zM78.0 135.3h1.8v1.8h-1.8zM104.9 135.3h1.8v1.8h-1.8zM74.9 135.0h1.8v1.8h-1.8zM71.4 135.0h1.8v1.8h-1.8zM99.6 135.2h1.8v1.8h-1.8zM82.8 135.4h1.8v1.8h-1.8zM70.1 135.4h1.8v1.8h-1.8zM103.2 134.8h1.8v1.8h-1.8zM73.4 134.9h1.8v1.8h-1.8zM91.7 134.8h1.8v1.8h-1.8zM66.4 134.7h1.8v1.8h-1.8zM76.0 134.6h1.8v1.8h-1.8zM85.2 134.8h1.8v1.8h-1.8zM84.0 134.7h1.8v1.8h-1.8zM105.0 134.6h1.8v1.8h-1.8zM68.6 134.8h1.8v1.8h-1.8zM83.3 134.4h1.8v1.8h-1.8zM82.5 134.2h1.8v1.8h-1.8zM68.9 134.4h1.8v1.8h-1.8zM84.8 134.2h1.8v1.8h-1.8zM91.4 134.2h1.8v1.8h-1.8zM70.1 134.5h1.8v1.8h-1.8zM78.1 134.4h1.8v1.8h-1.8zM95.7 134.1h1.8v1.8h-1.8zM92.9 134.5h1.8v1.8h-1.8zM71.3 133.7h1.8v1.8h-1.8zM90.6 133.6h1.8v1.8h-1.8zM68.6 133.9h1.8v1.8h-1.8zM97.3 133.8h1.8v1.8h-1.8zM68.5 133.9h1.8v1.8h-1.8zM91.1 133.8h1.8v1.8h-1.8zM83.7 134.0h1.8v1.8h-1.8zM104.1 133.9h1.8v1.8h-1.8zM94.2 133.8h1.8v1.8h-1.8zM69.1 134.0h1.8v1.8h-1.8zM98.2 133.6h1.8v1.8h-1.8zM70.0 133.3h1.8v1.8h-1.8zM87.0 133.4h1.8v1.8h-1.8zM76.5 133.4h1.8v1.8h-1.8zM74.7 133.2h1.8v1.8h-1.8zM84.1 133.0h1.8v1.8h-1.8zM84.9 133.0h1.8v1.8h-1.8zM96.2 132.8h1.8v1.8h-1.8zM71.5 133.1h1.8v1.8h-1.8zM81.1 133.0h1.8v1.8h-1.8zM103.7 132.7h1.8v1.8h-1.8zM104.1 132.8h1.8v1.8h-1.8zM92.7 133.0h1.8v1.8h-1.8zM80.6 133.2h1.8v1.8h-1.8zM98.8 133.0h1.8v1.8h-1.8zM75.0 132.3h1.8v1.8h-1.8zM99.7 132.4h1.8v1.8h-1.8zM88.0 132.6h1.8v1.8h-1.8zM100.5 132.4h1.8v1.8h-1.8zM82.0 132.0h1.8v1.8h-1.8zM77.2 132.1h1.8v1.8h-1.8zM79.0 132.1h1.8v1.8h-1.8zM90.4 132.0h1.8v1.8h-1.8zM73.7 131.9h1.8v1.8h-1.8zM70.6 131.6h1.8v1.8h-1.8zM66.7 131.5h1.8v1.8h-1.8zM95.5 131.4h1.8v1.8h-1.8zM71.0 131.5h1.8v1.8h-1.8zM99.0 131.8h1.8v1.8h-1.8zM73.5 131.7h1.8v1.8h-1.8zM84.1 131.7h1.8v1.8h-1.8zM87.2 131.6h1.8v1.8h-1.8zM91.8 131.6h1.8v1.8h-1.8zM93.0 131.7h1.8v1.8h-1.8zM93.8 131.5h1.8v1.8h-1.8zM76.4 131.2h1.8v1.8h-1.8zM96.7 131.1h1.8v1.8h-1.8zM67.4 131.1h1.8v1.8h-1.8zM73.9 131.3h1.8v1.8h-1.8zM104.5 131.2h1.8v1.8h-1.8zM87.1 131.2h1.8v1.8h-1.8zM68.0 130.9h1.8v1.8h-1.8zM102.9 131.3h1.8v1.8h-1.8zM75.0 130.6h1.8v1.8h-1.8zM93.7 130.7h1.8v1.8h-1.8zM83.6 130.5h1.8v1.8h-1.8zM66.8 130.8h1.8v1.8h-1.8zM77.4 130.4h1.8v1.8h-1.8zM74.9 130.9h1.8v1.8h-1.8zM82.4 130.6h1.8v1.8h-1.8zM94.8 130.0h1.8v1.8h-1.8zM76.0 130.4h1.8v1.8h-1.8zM89.1 130.2h1.8v1.8h-1.8zM84.8 130.1h1.8v1.8h-1.8zM84.2 130.2h1.8v1.8h-1.8zM85.1 130.2h1.8v1.8h-1.8zM96.8 129.9h1.8v1.8h-1.8zM74.0 129.7h1.8v1.8h-1.8zM78.2 129.9h1.8v1.8h-1.8zM80.6 129.7h1.8v1.8h-1.8zM74.0 129.2h1.8v1.8h-1.8zM89.2 129.4h1.8v1.8h-1.8zM102.9 129.3h1.8v1.8h-1.8zM89.5 129.5h1.8v1.8h-1.8zM101.1 129.5h1.8v1.8h-1.8zM81.5 129.1h1.8v1.8h-1.8zM103.2 129.1h1.8v1.8h-1.8zM98.6 129.4h1.8v1.8h-1.8zM103.8 129.0h1.8v1.8h-1.8zM78.8 129.0h1.8v1.8h-1.8zM101.4 128.3h1.8v1.8h-1.8zM80.5 128.2h1.8v1.8h-1.8zM100.2 127.8h1.8v1.8h-1.8zM75.1 127.9h1.8v1.8h-1.8zM78.1 127.7h1.8v1.8h-1.8zM79.4 128.0h1.8v1.8h-1.8zM67.6 128.0h1.8v1.8h-1.8zM105.0 128.0h1.8v1.8h-1.8zM84.0 127.7h1.8v1.8h-1.8zM66.2 128.0h1.8v1.8h-1.8zM98.3 128.1h1.8v1.8h-1.8zM75.4 127.5h1.8v1.8h-1.8zM72.8 127.3h1.8v1.8h-1.8zM101.0 127.5h1.8v1.8h-1.8zM93.3 127.5h1.8v1.8h-1.8zM77.0 127.5h1.8v1.8h-1.8zM104.0 127.5h1.8v1.8h-1.8zM88.8 127.2h1.8v1.8h-1.8zM86.5 127.1h1.8v1.8h-1.8zM69.2 127.0h1.8v1.8h-1.8zM94.3 126.9h1.8v1.8h-1.8zM66.6 126.8h1.8v1.8h-1.8zM75.7 127.1h1.8v1.8h-1.8zM98.8 126.8h1.8v1.8h-1.8zM95.0 127.1h1.8v1.8h-1.8zM84.2 126.8h1.8v1.8h-1.8zM80.0 126.9h1.8v1.8h-1.8zM70.3 126.3h1.8v1.8h-1.8zM104.1 126.7h1.8v1.8h-1.8zM103.2 126.5h1.8v1.8h-1.8zM70.9 126.4h1.8v1.8h-1.8zM83.0 126.4h1.8v1.8h-1.8zM98.6 126.5h1.8v1.8h-1.8zM67.9 126.4h1.8v1.8h-1.8zM93.3 126.4h1.8v1.8h-1.8zM76.6 126.4h1.8v1.8h-1.8zM75.0 126.2h1.8v1.8h-1.8zM70.2 126.0h1.8v1.8h-1.8zM82.8 126.0h1.8v1.8h-1.8zM77.1 126.1h1.8v1.8h-1.8zM93.0 125.8h1.8v1.8h-1.8zM103.9 125.6h1.8v1.8h-1.8zM75.6 125.5h1.8v1.8h-1.8zM98.1 125.6h1.8v1.8h-1.8zM102.1 125.8h1.8v1.8h-1.8zM86.7 125.5h1.8v1.8h-1.8zM102.1 125.6h1.8v1.8h-1.8zM96.3 125.2h1.8v1.8h-1.8zM95.6 125.3h1.8v1.8h-1.8zM84.4 125.0h1.8v1.8h-1.8zM67.3 125.3h1.8v1.8h-1.8zM85.2 125.0h1.8v1.8h-1.8zM76.6 125.0h1.8v1.8h-1.8zM75.6 125.3h1.8v1.8h-1.8zM87.8 125.1h1.8v1.8h-1.8zM102.1 124.9h1.8v1.8h-1.8zM72.5 124.6h1.8v1.8h-1.8zM78.0 124.7h1.8v1.8h-1.8zM85.5 124.9h1.8v1.8h-1.8zM95.7 124.6h1.8v1.8h-1.8zM71.6 124.8h1.8v1.8h-1.8zM97.5 124.5h1.8v1.8h-1.8zM100.3 124.7h1.8v1.8h-1.8zM72.3 124.3h1.8v1.8h-1.8zM68.4 124.3h1.8v1.8h-1.8zM93.4 124.2h1.8v1.8h-1.8zM104.4 124.1h1.8v1.8h-1.8zM97.0 123.9h1.8v1.8h-1.8zM98.7 124.0h1.8v1.8h-1.8zM75.3 123.9h1.8v1.8h-1.8zM76.1 123.6h1.8v1.8h-1.8zM66.8 123.9h1.8v1.8h-1.8zM88.6 123.7h1.8v1.8h-1.8zM96.5 123.8h1.8v1.8h-1.8zM74.6 123.6h1.8v1.8h-1.8zM75.0 123.3h1.8v1.8h-1.8zM73.8 122.8h1.8v1.8h-1.8zM91.0 122.7h1.8v1.8h-1.8zM67.7 122.7h1.8v1.8h-1.8zM81.0 122.7h1.8v1.8h-1.8zM89.4 122.9h1.8v1.8h-1.8zM98.2 122.8h1.8v1.8h-1.8zM92.5 123.0h1.8v1.8h-1.8zM71.2 122.4h1.8v1.8h-1.8zM76.3 122.3h1.8v1.8h-1.8zM105.3 122.1h1.8v1.8h-1.8zM81.8 121.4h1.8v1.8h-1.8zM67.4 121.4h1.8v1.8h-1.8zM78.7 120.9h1.8v1.8h-1.8zM66.0 120.9h1.8v1.8h-1.8zM92.3 121.3h1.8v1.8h-1.8zM68.6 120.9h1.8v1.8h-1.8zM82.8 120.8h1.8v1.8h-1.8zM91.4 120.8h1.8v1.8h-1.8zM73.0 120.5h1.8v1.8h-1.8zM93.5 120.3h1.8v1.8h-1.8zM76.6 120.2h1.8v1.8h-1.8zM70.4 120.3h1.8v1.8h-1.8zM91.7 120.0h1.8v1.8h-1.8zM86.5 119.6h1.8v1.8h-1.8zM102.8 119.9h1.8v1.8h-1.8zM90.5 119.1h1.8v1.8h-1.8zM70.1 119.2h1.8v1.8h-1.8zM66.8 119.1h1.8v1.8h-1.8zM96.7 119.4h1.8v1.8h-1.8zM95.4 119.1h1.8v1.8h-1.8zM70.9 119.2h1.8v1.8h-1.8zM85.7 119.0h1.8v1.8h-1.8zM70.7 118.6h1.8v1.8h-1.8zM95.2 118.6h1.8v1.8h-1.8zM88.7 118.7h1.8v1.8h-1.8zM84.5 118.2h1.8v1.8h-1.8zM74.4 118.5h1.8v1.8h-1.8zM69.4 118.5h1.8v1.8h-1.8zM84.3 117.7h1.8v1.8h-1.8zM86.0 117.8h1.8v1.8h-1.8zM80.7 118.0h1.8v1.8h-1.8zM90.7 117.9h1.8v1.8h-1.8zM93.4 117.5h1.8v1.8h-1.8zM80.7 116.9h1.8v1.8h-1.8zM102.5 116.8h1.8v1.8h-1.8zM104.9 116.3h1.8v1.8h-1.8zM91.9 116.3h1.8v1.8h-1.8zM87.4 116.4h1.8v1.8h-1.8zM75.5 115.5h1.8v1.8h-1.8zM96.0 115.7h1.8v1.8h-1.8zM80.2 115.3h1.8v1.8h-1.8zM69.4 115.0h1.8v1.8h-1.8zM96.5 114.9h1.8v1.8h-1.8zM80.3 114.9h1.8v1.8h-1.8zM99.9 114.6h1.8v1.8h-1.8zM93.6 114.5h1.8v1.8h-1.8zM87.1 114.6h1.8v1.8h-1.8zM96.4 114.3h1.8v1.8h-1.8zM73.2 114.3h1.8v1.8h-1.8zM88.5 114.3h1.8v1.8h-1.8zM78.7 113.6h1.8v1.8h-1.8zM77.5 112.6h1.8v1.8h-1.8zM105.2 112.7h1.8v1.8h-1.8zM84.9 111.7h1.8v1.8h-1.8zM100.6 112.0h1.8v1.8h-1.8zM87.4 110.9h1.8v1.8h-1.8zM84.9 111.1h1.8v1.8h-1.8zM75.7 111.1h1.8v1.8h-1.8zM94.6 109.5h1.8v1.8h-1.8zM92.3 108.6h1.8v1.8h-1.8zM104.2 108.1h1.8v1.8h-1.8zM76.8 107.6h1.8v1.8h-1.8zM104.7 107.5h1.8v1.8h-1.8zM86.8 107.5h1.8v1.8h-1.8zM81.0 106.6h1.8v1.8h-1.8zM79.2 105.8h1.8v1.8h-1.8zM105.1 105.7h1.8v1.8h-1.8zM95.5 105.0h1.8v1.8h-1.8zM76.3 103.9h1.8v1.8h-1.8zM97.8 102.5h1.8v1.8h-1.8zM75.2 100.7h1.8v1.8h-1.8zM103.1 99.7h1.8v1.8h-1.8zM94.9 99.2h1.8v1.8h-1.8zM139.1 141.9h1.8v1.8h-1.8zM154.4 142.0h1.8v1.8h-1.8zM148.2 141.9h1.8v1.8h-1.8zM154.4 142.0h1.8v1.8h-1.8zM145.0 142.0h1.8v1.8h-1.8zM160.9 141.8h1.8v1.8h-1.8zM153.7 141.6h1.8v1.8h-1.8zM140.7 141.6h1.8v1.8h-1.8zM145.7 141.8h1.8v1.8h-1.8zM167.5 141.8h1.8v1.8h-1.8zM147.9 141.6h1.8v1.8h-1.8zM149.7 141.8h1.8v1.8h-1.8zM144.0 141.3h1.8v1.8h-1.8zM166.1 141.3h1.8v1.8h-1.8zM165.2 141.3h1.8v1.8h-1.8zM147.4 141.3h1.8v1.8h-1.8zM167.5 141.4h1.8v1.8h-1.8zM163.7 141.3h1.8v1.8h-1.8zM166.4 141.1h1.8v1.8h-1.8zM145.4 141.2h1.8v1.8h-1.8zM142.3 141.2h1.8v1.8h-1.8zM138.2 141.1h1.8v1.8h-1.8zM155.5 141.3h1.8v1.8h-1.8zM137.8 141.0h1.8v1.8h-1.8zM141.2 141.2h1.8v1.8h-1.8zM161.4 140.8h1.8v1.8h-1.8zM147.5 140.7h1.8v1.8h-1.8zM145.8 140.6h1.8v1.8h-1.8zM140.0 140.8h1.8v1.8h-1.8zM150.2 140.8h1.8v1.8h-1.8zM144.3 140.4h1.8v1.8h-1.8zM156.1 140.1h1.8v1.8h-1.8zM164.3 140.2h1.8v1.8h-1.8zM150.8 140.0h1.8v1.8h-1.8zM157.5 140.0h1.8v1.8h-1.8zM158.4 140.2h1.8v1.8h-1.8zM158.8 140.4h1.8v1.8h-1.8zM145.1 140.5h1.8v1.8h-1.8zM165.8 140.0h1.8v1.8h-1.8zM155.9 140.4h1.8v1.8h-1.8zM141.2 140.3h1.8v1.8h-1.8zM146.8 139.9h1.8v1.8h-1.8zM153.9 139.7h1.8v1.8h-1.8zM149.9 139.6h1.8v1.8h-1.8zM149.3 139.9h1.8v1.8h-1.8zM160.8 139.6h1.8v1.8h-1.8zM154.5 139.3h1.8v1.8h-1.8zM162.1 139.2h1.8v1.8h-1.8zM149.2 139.4h1.8v1.8h-1.8zM167.3 139.3h1.8v1.8h-1.8zM146.0 139.5h1.8v1.8h-1.8zM161.9 139.2h1.8v1.8h-1.8zM154.8 139.4h1.8v1.8h-1.8zM157.5 139.1h1.8v1.8h-1.8zM155.0 139.2h1.8v1.8h-1.8zM162.6 139.1h1.8v1.8h-1.8zM156.1 139.0h1.8v1.8h-1.8zM167.9 138.9h1.8v1.8h-1.8zM139.9 138.8h1.8v1.8h-1.8zM146.6 138.9h1.8v1.8h-1.8zM141.4 139.0h1.8v1.8h-1.8zM141.5 139.0h1.8v1.8h-1.8zM155.1 139.0h1.8v1.8h-1.8zM157.8 138.7h1.8v1.8h-1.8zM147.8 138.5h1.8v1.8h-1.8zM156.5 138.4h1.8v1.8h-1.8zM146.0 138.5h1.8v1.8h-1.8zM149.1 138.5h1.8v1.8h-1.8zM155.7 138.4h1.8v1.8h-1.8zM150.0 138.3h1.8v1.8h-1.8zM152.7 137.8h1.8v1.8h-1.8zM139.9 137.9h1.8v1.8h-1.8zM167.7 138.1h1.8v1.8h-1.8zM141.0 138.1h1.8v1.8h-1.8zM147.9 138.1h1.8v1.8h-1.8zM150.6 137.8h1.8v1.8h-1.8zM153.2 137.9h1.8v1.8h-1.8zM140.7 138.2h1.8v1.8h-1.8zM166.4 138.0h1.8v1.8h-1.8zM166.3 138.0h1.8v1.8h-1.8zM156.9 137.9h1.8v1.8h-1.8zM140.1 138.2h1.8v1.8h-1.8zM146.9 137.6h1.8v1.8h-1.8zM152.2 137.4h1.8v1.8h-1.8zM138.7 137.3h1.8v1.8h-1.8zM150.5 137.3h1.8v1.8h-1.8zM137.6 137.7h1.8v1.8h-1.8zM147.5 137.1h1.8v1.8h-1.8zM160.4 137.2h1.8v1.8h-1.8zM165.7 137.1h1.8v1.8h-1.8zM148.6 137.0h1.8v1.8h-1.8zM145.8 137.0h1.8v1.8h-1.8zM150.1 137.1h1.8v1.8h-1.8zM167.8 136.8h1.8v1.8h-1.8zM156.1 136.7h1.8v1.8h-1.8zM145.1 136.6h1.8v1.8h-1.8zM155.8 136.6h1.8v1.8h-1.8zM159.2 136.4h1.8v1.8h-1.8zM142.6 136.7h1.8v1.8h-1.8zM156.0 136.6h1.8v1.8h-1.8zM158.2 136.0h1.8v1.8h-1.8zM165.1 136.1h1.8v1.8h-1.8zM167.4 136.3h1.8v1.8h-1.8zM138.5 136.3h1.8v1.8h-1.8zM154.9 136.2h1.8v1.8h-1.8zM139.9 136.3h1.8v1.8h-1.8zM155.1 136.2h1.8v1.8h-1.8zM160.7 136.2h1.8v1.8h-1.8zM164.2 136.0h1.8v1.8h-1.8zM152.5 136.2h1.8v1.8h-1.8zM143.9 136.2h1.8v1.8h-1.8zM163.9 135.7h1.8v1.8h-1.8zM140.3 135.8h1.8v1.8h-1.8zM145.2 135.8h1.8v1.8h-1.8zM152.1 135.8h1.8v1.8h-1.8zM152.1 135.3h1.8v1.8h-1.8zM162.6 135.3h1.8v1.8h-1.8zM144.1 135.3h1.8v1.8h-1.8zM161.3 135.1h1.8v1.8h-1.8zM154.6 135.3h1.8v1.8h-1.8zM157.2 135.1h1.8v1.8h-1.8zM144.8 135.1h1.8v1.8h-1.8zM154.0 134.6h1.8v1.8h-1.8zM141.9 135.0h1.8v1.8h-1.8zM153.8 134.6h1.8v1.8h-1.8zM138.8 134.7h1.8v1.8h-1.8zM138.2 134.7h1.8v1.8h-1.8zM142.9 134.4h1.8v1.8h-1.8zM142.4 134.4h1.8v1.8h-1.8zM154.0 134.3h1.8v1.8h-1.8zM162.6 134.3h1.8v1.8h-1.8zM153.9 134.2h1.8v1.8h-1.8zM155.8 134.1h1.8v1.8h-1.8zM153.9 134.0h1.8v1.8h-1.8zM163.5 134.0h1.8v1.8h-1.8zM157.5 133.8h1.8v1.8h-1.8zM137.9 133.3h1.8v1.8h-1.8zM139.6 133.5h1.8v1.8h-1.8zM140.1 133.3h1.8v1.8h-1.8zM153.5 133.4h1.8v1.8h-1.8zM139.3 132.8h1.8v1.8h-1.8zM166.1 133.1h1.8v1.8h-1.8zM138.1 133.2h1.8v1.8h-1.8zM155.0 133.1h1.8v1.8h-1.8zM154.5 132.9h1.8v1.8h-1.8zM137.9 132.8h1.8v1.8h-1.8zM145.1 132.9h1.8v1.8h-1.8zM148.2 133.0h1.8v1.8h-1.8zM149.7 133.2h1.8v1.8h-1.8zM150.5 133.0h1.8v1.8h-1.8zM163.8 132.4h1.8v1.8h-1.8zM140.5 132.7h1.8v1.8h-1.8zM164.4 132.6h1.8v1.8h-1.8zM140.6 132.4h1.8v1.8h-1.8zM159.0 132.3h1.8v1.8h-1.8zM140.0 132.1h1.8v1.8h-1.8zM148.1 132.2h1.8v1.8h-1.8zM155.5 131.8h1.8v1.8h-1.8zM145.8 131.9h1.8v1.8h-1.8zM164.9 132.1h1.8v1.8h-1.8zM164.7 131.4h1.8v1.8h-1.8zM140.0 131.6h1.8v1.8h-1.8zM143.9 131.4h1.8v1.8h-1.8zM154.9 131.4h1.8v1.8h-1.8zM159.6 131.7h1.8v1.8h-1.8zM145.0 131.3h1.8v1.8h-1.8zM147.9 131.2h1.8v1.8h-1.8zM153.0 130.9h1.8v1.8h-1.8zM166.5 131.3h1.8v1.8h-1.8zM154.8 131.0h1.8v1.8h-1.8zM147.3 130.5h1.8v1.8h-1.8zM144.5 130.6h1.8v1.8h-1.8zM155.3 130.7h1.8v1.8h-1.8zM141.9 130.1h1.8v1.8h-1.8zM149.3 130.0h1.8v1.8h-1.8zM144.5 130.3h1.8v1.8h-1.8zM163.7 130.3h1.8v1.8h-1.8zM140.7 130.3h1.8v1.8h-1.8zM160.9 130.3h1.8v1.8h-1.8zM141.4 129.8h1.8v1.8h-1.8zM141.6 129.6h1.8v1.8h-1.8zM154.4 129.9h1.8v1.8h-1.8zM164.2 129.7h1.8v1.8h-1.8zM150.9 129.9h1.8v1.8h-1.8zM151.7 129.5h1.8v1.8h-1.8zM155.2 129.8h1.8v1.8h-1.8zM155.9 129.7h1.8v1.8h-1.8zM162.8 129.5h1.8v1.8h-1.8zM145.2 129.2h1.8v1.8h-1.8zM152.6 129.1h1.8v1.8h-1.8zM152.6 128.9h1.8v1.8h-1.8zM151.3 128.7h1.8v1.8h-1.8zM154.1 128.2h1.8v1.8h-1.8zM165.9 128.3h1.8v1.8h-1.8zM162.4 127.9h1.8v1.8h-1.8zM138.9 127.8h1.8v1.8h-1.8zM144.2 127.7h1.8v1.8h-1.8zM143.9 128.0h1.8v1.8h-1.8zM145.6 127.7h1.8v1.8h-1.8zM155.3 127.3h1.8v1.8h-1.8zM137.9 127.1h1.8v1.8h-1.8zM146.1 126.8h1.8v1.8h-1.8zM145.1 126.3h1.8v1.8h-1.8zM165.0 126.3h1.8v1.8h-1.8zM141.6 126.0h1.8v1.8h-1.8zM151.4 126.1h1.8v1.8h-1.8zM161.8 125.8h1.8v1.8h-1.8zM153.5 125.1h1.8v1.8h-1.8zM152.7 125.0h1.8v1.8h-1.8zM138.8 125.1h1.8v1.8h-1.8zM161.5 125.4h1.8v1.8h-1.8zM156.5 124.6h1.8v1.8h-1.8zM164.8 124.6h1.8v1.8h-1.8zM167.9 124.6h1.8v1.8h-1.8zM139.6 124.4h1.8v1.8h-1.8zM156.1 123.8h1.8v1.8h-1.8zM151.5 123.9h1.8v1.8h-1.8zM147.2 123.3h1.8v1.8h-1.8zM148.7 123.1h1.8v1.8h-1.8zM146.0 122.8h1.8v1.8h-1.8zM155.1 122.5h1.8v1.8h-1.8zM154.8 122.1h1.8v1.8h-1.8zM143.5 122.1h1.8v1.8h-1.8zM140.8 122.1h1.8v1.8h-1.8zM144.3 121.9h1.8v1.8h-1.8zM145.1 122.2h1.8v1.8h-1.8zM158.4 121.6h1.8v1.8h-1.8zM152.1 120.9h1.8v1.8h-1.8zM139.5 120.8h1.8v1.8h-1.8zM163.1 120.7h1.8v1.8h-1.8zM152.2 120.1h1.8v1.8h-1.8zM161.6 120.4h1.8v1.8h-1.8zM148.5 120.1h1.8v1.8h-1.8zM154.0 119.6h1.8v1.8h-1.8zM150.8 119.3h1.8v1.8h-1.8zM166.2 119.0h1.8v1.8h-1.8zM139.8 118.4h1.8v1.8h-1.8zM163.1 117.7h1.8v1.8h-1.8zM156.5 117.2h1.8v1.8h-1.8zM159.7 116.5h1.8v1.8h-1.8zM152.6 116.1h1.8v1.8h-1.8zM150.8 116.2h1.8v1.8h-1.8zM137.5 115.6h1.8v1.8h-1.8zM166.2 115.1h1.8v1.8h-1.8zM148.9 114.0h1.8v1.8h-1.8zM141.4 114.3h1.8v1.8h-1.8zM155.7 112.6h1.8v1.8h-1.8zM153.6 112.4h1.8v1.8h-1.8zM167.8 110.7h1.8v1.8h-1.8zM145.0 108.1h1.8v1.8h-1.8zM158.8 106.6h1.8v1.8h-1.8zM151.7 103.4h1.8v1.8h-1.8zM147.7 100.9h1.8v1.8h-1.8zM212.7 140.0h1.8v1.8h-1.8zM212.8 139.8h1.8v1.8h-1.8zM198.1 139.9h1.8v1.8h-1.8zM224.6 139.8h1.8v1.8h-1.8zM199.7 139.8h1.8v1.8h-1.8zM217.3 140.0h1.8v1.8h-1.8zM209.0 139.9h1.8v1.8h-1.8zM212.8 139.6h1.8v1.8h-1.8zM204.5 140.0h1.8v1.8h-1.8zM201.7 139.7h1.8v1.8h-1.8zM199.8 139.8h1.8v1.8h-1.8zM202.1 139.5h1.8v1.8h-1.8zM224.1 139.2h1.8v1.8h-1.8zM200.6 139.2h1.8v1.8h-1.8zM199.7 139.4h1.8v1.8h-1.8zM225.2 139.1h1.8v1.8h-1.8zM210.8 139.2h1.8v1.8h-1.8zM220.0 138.7h1.8v1.8h-1.8zM218.4 139.1h1.8v1.8h-1.8zM202.1 139.1h1.8v1.8h-1.8zM207.1 138.8h1.8v1.8h-1.8zM201.9 138.9h1.8v1.8h-1.8zM199.1 138.8h1.8v1.8h-1.8zM200.6 138.7h1.8v1.8h-1.8zM214.7 139.0h1.8v1.8h-1.8zM225.0 138.6h1.8v1.8h-1.8zM222.6 138.3h1.8v1.8h-1.8zM208.6 138.3h1.8v1.8h-1.8zM224.2 138.6h1.8v1.8h-1.8zM215.8 138.7h1.8v1.8h-1.8zM216.2 138.6h1.8v1.8h-1.8zM216.3 138.6h1.8v1.8h-1.8zM209.0 138.3h1.8v1.8h-1.8zM206.3 138.2h1.8v1.8h-1.8zM210.9 138.6h1.8v1.8h-1.8zM223.6 138.6h1.8v1.8h-1.8zM199.0 137.9h1.8v1.8h-1.8zM198.3 137.9h1.8v1.8h-1.8zM208.0 137.9h1.8v1.8h-1.8zM213.9 138.0h1.8v1.8h-1.8zM219.3 137.9h1.8v1.8h-1.8zM222.6 137.9h1.8v1.8h-1.8zM222.0 137.8h1.8v1.8h-1.8zM217.3 138.0h1.8v1.8h-1.8zM211.3 138.2h1.8v1.8h-1.8zM198.7 137.6h1.8v1.8h-1.8zM207.2 137.7h1.8v1.8h-1.8zM200.6 137.6h1.8v1.8h-1.8zM198.3 137.7h1.8v1.8h-1.8zM198.6 137.6h1.8v1.8h-1.8zM218.5 137.4h1.8v1.8h-1.8zM214.5 137.5h1.8v1.8h-1.8zM214.8 136.9h1.8v1.8h-1.8zM220.5 137.2h1.8v1.8h-1.8zM220.0 137.0h1.8v1.8h-1.8zM205.5 137.2h1.8v1.8h-1.8zM202.6 137.0h1.8v1.8h-1.8zM201.8 136.5h1.8v1.8h-1.8zM206.6 136.6h1.8v1.8h-1.8zM206.6 136.4h1.8v1.8h-1.8zM214.2 136.8h1.8v1.8h-1.8zM219.3 136.7h1.8v1.8h-1.8zM224.3 136.3h1.8v1.8h-1.8zM205.7 136.2h1.8v1.8h-1.8zM201.1 136.3h1.8v1.8h-1.8zM209.1 136.1h1.8v1.8h-1.8zM212.6 136.2h1.8v1.8h-1.8zM212.8 135.8h1.8v1.8h-1.8zM203.7 135.5h1.8v1.8h-1.8zM203.9 135.5h1.8v1.8h-1.8zM221.4 135.5h1.8v1.8h-1.8zM201.1 135.8h1.8v1.8h-1.8zM200.2 135.8h1.8v1.8h-1.8zM222.8 135.6h1.8v1.8h-1.8zM214.1 135.4h1.8v1.8h-1.8zM206.0 135.4h1.8v1.8h-1.8zM225.2 135.2h1.8v1.8h-1.8zM214.9 135.4h1.8v1.8h-1.8zM220.4 134.8h1.8v1.8h-1.8zM208.2 134.8h1.8v1.8h-1.8zM213.4 134.8h1.8v1.8h-1.8zM198.1 134.7h1.8v1.8h-1.8zM201.1 134.6h1.8v1.8h-1.8zM204.7 134.9h1.8v1.8h-1.8zM212.6 134.6h1.8v1.8h-1.8zM204.9 134.1h1.8v1.8h-1.8zM198.3 134.2h1.8v1.8h-1.8zM198.6 134.3h1.8v1.8h-1.8zM209.3 134.3h1.8v1.8h-1.8zM223.8 134.4h1.8v1.8h-1.8zM198.4 134.5h1.8v1.8h-1.8zM224.8 133.9h1.8v1.8h-1.8zM202.0 133.8h1.8v1.8h-1.8zM208.3 133.8h1.8v1.8h-1.8zM204.5 133.3h1.8v1.8h-1.8zM211.3 133.2h1.8v1.8h-1.8zM216.3 133.4h1.8v1.8h-1.8zM220.1 133.4h1.8v1.8h-1.8zM216.2 133.4h1.8v1.8h-1.8zM207.6 133.3h1.8v1.8h-1.8zM199.9 133.2h1.8v1.8h-1.8zM224.3 133.2h1.8v1.8h-1.8zM210.8 133.4h1.8v1.8h-1.8zM209.0 133.4h1.8v1.8h-1.8zM204.0 133.3h1.8v1.8h-1.8zM201.3 132.8h1.8v1.8h-1.8zM202.9 132.9h1.8v1.8h-1.8zM202.3 132.8h1.8v1.8h-1.8zM224.2 132.9h1.8v1.8h-1.8zM199.0 132.8h1.8v1.8h-1.8zM211.0 132.8h1.8v1.8h-1.8zM202.0 133.0h1.8v1.8h-1.8zM223.2 132.8h1.8v1.8h-1.8zM222.9 132.9h1.8v1.8h-1.8zM216.4 132.7h1.8v1.8h-1.8zM216.0 133.1h1.8v1.8h-1.8zM201.0 132.7h1.8v1.8h-1.8zM214.1 132.0h1.8v1.8h-1.8zM212.6 132.2h1.8v1.8h-1.8zM223.2 132.0h1.8v1.8h-1.8zM198.9 132.1h1.8v1.8h-1.8zM217.9 132.2h1.8v1.8h-1.8zM219.3 132.2h1.8v1.8h-1.8zM209.8 132.1h1.8v1.8h-1.8zM201.4 131.8h1.8v1.8h-1.8zM212.3 131.7h1.8v1.8h-1.8zM221.9 131.7h1.8v1.8h-1.8zM217.7 131.8h1.8v1.8h-1.8zM205.4 131.7h1.8v1.8h-1.8zM218.7 131.1h1.8v1.8h-1.8zM203.5 130.9h1.8v1.8h-1.8zM205.2 131.3h1.8v1.8h-1.8zM215.7 131.3h1.8v1.8h-1.8zM218.9 131.0h1.8v1.8h-1.8zM208.4 131.1h1.8v1.8h-1.8zM207.6 130.9h1.8v1.8h-1.8zM203.0 130.7h1.8v1.8h-1.8zM221.0 130.2h1.8v1.8h-1.8zM202.8 130.1h1.8v1.8h-1.8zM215.2 130.2h1.8v1.8h-1.8zM210.9 130.1h1.8v1.8h-1.8zM218.0 130.2h1.8v1.8h-1.8zM199.7 130.3h1.8v1.8h-1.8zM224.8 130.2h1.8v1.8h-1.8zM206.5 129.9h1.8v1.8h-1.8zM207.1 129.8h1.8v1.8h-1.8zM224.4 129.7h1.8v1.8h-1.8zM216.5 129.6h1.8v1.8h-1.8zM198.3 129.9h1.8v1.8h-1.8zM212.8 129.9h1.8v1.8h-1.8zM201.1 129.1h1.8v1.8h-1.8zM210.9 129.4h1.8v1.8h-1.8zM217.7 129.2h1.8v1.8h-1.8zM211.6 129.0h1.8v1.8h-1.8zM201.3 129.0h1.8v1.8h-1.8zM216.9 128.7h1.8v1.8h-1.8zM204.6 128.9h1.8v1.8h-1.8zM208.9 128.2h1.8v1.8h-1.8zM215.8 128.2h1.8v1.8h-1.8zM206.4 128.4h1.8v1.8h-1.8zM204.4 128.5h1.8v1.8h-1.8zM200.4 128.5h1.8v1.8h-1.8zM202.4 128.4h1.8v1.8h-1.8zM209.2 128.2h1.8v1.8h-1.8zM224.2 127.8h1.8v1.8h-1.8zM199.7 127.8h1.8v1.8h-1.8zM200.4 127.9h1.8v1.8h-1.8zM221.3 127.8h1.8v1.8h-1.8zM201.2 127.9h1.8v1.8h-1.8zM203.3 127.8h1.8v1.8h-1.8zM198.7 127.4h1.8v1.8h-1.8zM217.6 127.6h1.8v1.8h-1.8zM198.8 127.7h1.8v1.8h-1.8zM217.3 127.7h1.8v1.8h-1.8zM208.5 127.3h1.8v1.8h-1.8zM199.3 127.4h1.8v1.8h-1.8zM208.6 127.2h1.8v1.8h-1.8zM211.8 126.8h1.8v1.8h-1.8zM222.4 127.2h1.8v1.8h-1.8zM207.7 127.0h1.8v1.8h-1.8zM209.1 127.2h1.8v1.8h-1.8zM198.1 126.7h1.8v1.8h-1.8zM207.2 126.6h1.8v1.8h-1.8zM208.6 126.6h1.8v1.8h-1.8zM207.2 126.8h1.8v1.8h-1.8zM221.7 126.3h1.8v1.8h-1.8zM217.2 125.9h1.8v1.8h-1.8zM215.9 126.3h1.8v1.8h-1.8zM211.8 125.9h1.8v1.8h-1.8zM201.5 126.3h1.8v1.8h-1.8zM199.3 126.3h1.8v1.8h-1.8zM207.6 125.5h1.8v1.8h-1.8zM202.6 125.7h1.8v1.8h-1.8zM209.3 125.5h1.8v1.8h-1.8zM218.8 125.6h1.8v1.8h-1.8zM218.6 125.2h1.8v1.8h-1.8zM212.0 125.1h1.8v1.8h-1.8zM201.7 125.3h1.8v1.8h-1.8zM202.7 125.1h1.8v1.8h-1.8zM201.9 124.6h1.8v1.8h-1.8zM209.5 124.8h1.8v1.8h-1.8zM204.1 124.5h1.8v1.8h-1.8zM217.6 124.1h1.8v1.8h-1.8zM202.4 124.1h1.8v1.8h-1.8zM214.1 124.1h1.8v1.8h-1.8zM210.1 123.9h1.8v1.8h-1.8zM211.2 123.7h1.8v1.8h-1.8zM200.9 123.8h1.8v1.8h-1.8zM212.4 123.9h1.8v1.8h-1.8zM218.5 123.1h1.8v1.8h-1.8zM223.4 123.3h1.8v1.8h-1.8zM205.1 123.5h1.8v1.8h-1.8zM215.8 122.8h1.8v1.8h-1.8zM223.5 122.9h1.8v1.8h-1.8zM218.6 123.0h1.8v1.8h-1.8zM211.3 122.7h1.8v1.8h-1.8zM224.7 122.7h1.8v1.8h-1.8zM218.7 122.7h1.8v1.8h-1.8zM222.2 122.8h1.8v1.8h-1.8zM204.6 123.1h1.8v1.8h-1.8zM216.0 122.5h1.8v1.8h-1.8zM212.6 122.4h1.8v1.8h-1.8zM213.5 122.5h1.8v1.8h-1.8zM201.4 122.4h1.8v1.8h-1.8zM201.0 122.3h1.8v1.8h-1.8zM202.9 122.3h1.8v1.8h-1.8zM202.2 121.9h1.8v1.8h-1.8zM219.2 122.0h1.8v1.8h-1.8zM208.6 121.5h1.8v1.8h-1.8zM206.2 121.7h1.8v1.8h-1.8zM210.2 120.9h1.8v1.8h-1.8zM199.7 121.0h1.8v1.8h-1.8zM207.6 121.1h1.8v1.8h-1.8zM221.6 120.8h1.8v1.8h-1.8zM223.3 120.0h1.8v1.8h-1.8zM200.6 120.2h1.8v1.8h-1.8zM221.7 119.5h1.8v1.8h-1.8zM224.2 119.8h1.8v1.8h-1.8zM204.6 119.4h1.8v1.8h-1.8zM203.9 119.1h1.8v1.8h-1.8zM212.1 118.8h1.8v1.8h-1.8zM209.0 118.8h1.8v1.8h-1.8zM220.6 118.8h1.8v1.8h-1.8zM223.4 118.2h1.8v1.8h-1.8zM198.3 117.2h1.8v1.8h-1.8zM213.1 117.0h1.8v1.8h-1.8zM216.8 116.1h1.8v1.8h-1.8zM201.8 115.5h1.8v1.8h-1.8zM216.5 115.4h1.8v1.8h-1.8zM201.7 115.8h1.8v1.8h-1.8zM217.4 115.3h1.8v1.8h-1.8zM215.3 115.1h1.8v1.8h-1.8zM222.9 114.4h1.8v1.8h-1.8zM224.8 114.1h1.8v1.8h-1.8zM217.7 114.1h1.8v1.8h-1.8zM208.3 113.4h1.8v1.8h-1.8zM209.8 113.1h1.8v1.8h-1.8zM201.2 111.8h1.8v1.8h-1.8zM200.1 111.1h1.8v1.8h-1.8zM212.8 110.8h1.8v1.8h-1.8zM214.3 110.6h1.8v1.8h-1.8zM209.3 109.9h1.8v1.8h-1.8zM202.2 109.0h1.8v1.8h-1.8zM214.7 108.0h1.8v1.8h-1.8zM203.2 107.7h1.8v1.8h-1.8zM202.9 105.9h1.8v1.8h-1.8zM198.6 105.2h1.8v1.8h-1.8zM207.5 103.9h1.8v1.8h-1.8zM210.9 102.9h1.8v1.8h-1.8zM217.1 102.9h1.8v1.8h-1.8zM252.8 143.8h1.8v1.8h-1.8zM255.4 143.8h1.8v1.8h-1.8zM267.2 143.9h1.8v1.8h-1.8zM273.4 144.1h1.8v1.8h-1.8zM258.8 143.9h1.8v1.8h-1.8zM274.1 144.1h1.8v1.8h-1.8zM265.6 143.7h1.8v1.8h-1.8zM255.0 143.8h1.8v1.8h-1.8zM270.5 143.7h1.8v1.8h-1.8zM274.4 143.2h1.8v1.8h-1.8zM270.7 143.3h1.8v1.8h-1.8zM265.9 143.5h1.8v1.8h-1.8zM265.7 143.4h1.8v1.8h-1.8zM254.9 143.3h1.8v1.8h-1.8zM258.7 143.4h1.8v1.8h-1.8zM257.8 142.9h1.8v1.8h-1.8zM260.4 142.8h1.8v1.8h-1.8zM268.0 143.1h1.8v1.8h-1.8zM272.2 142.9h1.8v1.8h-1.8zM256.3 143.1h1.8v1.8h-1.8zM251.9 142.9h1.8v1.8h-1.8zM253.6 143.1h1.8v1.8h-1.8zM268.8 143.1h1.8v1.8h-1.8zM264.9 142.7h1.8v1.8h-1.8zM274.1 142.8h1.8v1.8h-1.8zM253.5 142.0h1.8v1.8h-1.8zM269.0 142.0h1.8v1.8h-1.8zM263.0 142.1h1.8v1.8h-1.8zM265.5 142.3h1.8v1.8h-1.8zM270.1 142.0h1.8v1.8h-1.8zM253.5 141.7h1.8v1.8h-1.8zM271.3 141.6h1.8v1.8h-1.8zM264.6 141.6h1.8v1.8h-1.8zM273.6 141.8h1.8v1.8h-1.8zM267.5 141.6h1.8v1.8h-1.8zM257.1 141.8h1.8v1.8h-1.8zM265.8 141.8h1.8v1.8h-1.8zM265.2 141.7h1.8v1.8h-1.8zM261.0 141.4h1.8v1.8h-1.8zM253.7 141.6h1.8v1.8h-1.8zM261.3 141.8h1.8v1.8h-1.8zM270.4 141.2h1.8v1.8h-1.8zM256.5 141.3h1.8v1.8h-1.8zM274.6 141.0h1.8v1.8h-1.8zM262.5 141.3h1.8v1.8h-1.8zM268.1 141.4h1.8v1.8h-1.8zM271.6 141.4h1.8v1.8h-1.8zM252.8 141.2h1.8v1.8h-1.8zM258.3 140.5h1.8v1.8h-1.8zM267.4 140.3h1.8v1.8h-1.8zM258.0 140.2h1.8v1.8h-1.8zM266.4 140.3h1.8v1.8h-1.8zM270.8 140.1h1.8v1.8h-1.8zM269.1 140.2h1.8v1.8h-1.8zM257.0 140.2h1.8v1.8h-1.8zM254.6 139.8h1.8v1.8h-1.8zM274.3 140.0h1.8v1.8h-1.8zM262.0 140.0h1.8v1.8h-1.8zM263.4 139.3h1.8v1.8h-1.8zM267.2 139.2h1.8v1.8h-1.8zM261.7 139.2h1.8v1.8h-1.8zM255.7 139.4h1.8v1.8h-1.8zM272.6 138.9h1.8v1.8h-1.8zM256.2 138.7h1.8v1.8h-1.8zM263.5 138.9h1.8v1.8h-1.8zM272.6 138.8h1.8v1.8h-1.8zM251.9 138.7h1.8v1.8h-1.8zM262.2 139.0h1.8v1.8h-1.8zM264.1 138.6h1.8v1.8h-1.8zM274.4 138.3h1.8v1.8h-1.8zM260.4 138.3h1.8v1.8h-1.8zM270.1 138.3h1.8v1.8h-1.8zM257.1 138.6h1.8v1.8h-1.8zM271.5 138.2h1.8v1.8h-1.8zM259.7 138.5h1.8v1.8h-1.8zM253.3 138.1h1.8v1.8h-1.8zM263.2 137.9h1.8v1.8h-1.8zM274.8 137.8h1.8v1.8h-1.8zM268.8 138.0h1.8v1.8h-1.8zM259.6 137.9h1.8v1.8h-1.8zM259.7 137.8h1.8v1.8h-1.8zM259.0 137.3h1.8v1.8h-1.8zM266.8 137.3h1.8v1.8h-1.8zM273.2 137.6h1.8v1.8h-1.8zM254.5 137.0h1.8v1.8h-1.8zM266.6 136.9h1.8v1.8h-1.8zM258.5 136.9h1.8v1.8h-1.8zM257.1 136.4h1.8v1.8h-1.8zM271.9 136.8h1.8v1.8h-1.8zM259.5 136.6h1.8v1.8h-1.8zM253.1 136.7h1.8v1.8h-1.8zM269.5 136.5h1.8v1.8h-1.8zM254.7 135.9h1.8v1.8h-1.8zM254.3 136.1h1.8v1.8h-1.8zM268.0 135.9h1.8v1.8h-1.8zM269.8 135.7h1.8v1.8h-1.8zM260.5 135.7h1.8v1.8h-1.8zM263.7 135.9h1.8v1.8h-1.8zM259.2 135.6h1.8v1.8h-1.8zM268.2 135.7h1.8v1.8h-1.8zM269.0 135.7h1.8v1.8h-1.8zM268.0 135.2h1.8v1.8h-1.8zM273.1 135.5h1.8v1.8h-1.8zM269.6 135.2h1.8v1.8h-1.8zM271.5 135.2h1.8v1.8h-1.8zM251.8 135.1h1.8v1.8h-1.8zM260.9 134.7h1.8v1.8h-1.8zM262.7 135.0h1.8v1.8h-1.8zM257.6 134.2h1.8v1.8h-1.8zM256.7 134.5h1.8v1.8h-1.8zM260.2 134.3h1.8v1.8h-1.8zM256.5 134.1h1.8v1.8h-1.8zM254.9 134.0h1.8v1.8h-1.8zM261.2 134.0h1.8v1.8h-1.8zM265.1 133.2h1.8v1.8h-1.8zM269.9 133.2h1.8v1.8h-1.8zM264.3 133.6h1.8v1.8h-1.8zM259.1 132.7h1.8v1.8h-1.8zM259.8 133.0h1.8v1.8h-1.8zM257.9 132.9h1.8v1.8h-1.8zM265.3 132.4h1.8v1.8h-1.8zM265.5 132.6h1.8v1.8h-1.8zM257.8 132.6h1.8v1.8h-1.8zM252.3 132.6h1.8v1.8h-1.8zM252.7 131.9h1.8v1.8h-1.8zM268.0 132.0h1.8v1.8h-1.8zM271.5 131.9h1.8v1.8h-1.8zM270.9 132.2h1.8v1.8h-1.8zM274.9 132.0h1.8v1.8h-1.8zM265.4 132.0h1.8v1.8h-1.8zM265.2 131.5h1.8v1.8h-1.8zM252.5 131.5h1.8v1.8h-1.8zM260.6 131.6h1.8v1.8h-1.8zM255.9 131.5h1.8v1.8h-1.8zM267.3 131.4h1.8v1.8h-1.8zM264.8 131.2h1.8v1.8h-1.8zM264.1 131.0h1.8v1.8h-1.8zM253.0 130.9h1.8v1.8h-1.8zM252.5 131.1h1.8v1.8h-1.8zM256.7 131.3h1.8v1.8h-1.8zM262.8 131.2h1.8v1.8h-1.8zM273.5 130.6h1.8v1.8h-1.8zM259.9 130.9h1.8v1.8h-1.8zM262.2 130.4h1.8v1.8h-1.8zM261.4 130.4h1.8v1.8h-1.8zM269.4 130.1h1.8v1.8h-1.8zM268.2 129.9h1.8v1.8h-1.8zM255.6 129.8h1.8v1.8h-1.8zM272.5 129.5h1.8v1.8h-1.8zM270.1 129.1h1.8v1.8h-1.8zM253.6 129.1h1.8v1.8h-1.8zM269.8 129.5h1.8v1.8h-1.8zM261.9 129.4h1.8v1.8h-1.8zM251.8 128.9h1.8v1.8h-1.8zM258.4 128.8h1.8v1.8h-1.8zM252.5 128.3h1.8v1.8h-1.8zM264.7 128.5h1.8v1.8h-1.8zM263.5 128.2h1.8v1.8h-1.8zM265.7 128.5h1.8v1.8h-1.8zM270.4 128.4h1.8v1.8h-1.8zM269.9 127.2h1.8v1.8h-1.8zM253.7 126.6h1.8v1.8h-1.8zM269.3 126.5h1.8v1.8h-1.8zM271.9 126.1h1.8v1.8h-1.8zM253.2 125.7h1.8v1.8h-1.8zM255.5 124.5h1.8v1.8h-1.8zM263.3 124.6h1.8v1.8h-1.8zM255.8 124.7h1.8v1.8h-1.8zM262.5 124.1h1.8v1.8h-1.8zM262.4 124.0h1.8v1.8h-1.8zM266.3 123.8h1.8v1.8h-1.8zM259.9 123.6h1.8v1.8h-1.8zM274.0 122.8h1.8v1.8h-1.8zM262.8 120.6h1.8v1.8h-1.8zM270.5 120.8h1.8v1.8h-1.8zM255.8 120.6h1.8v1.8h-1.8zM274.3 119.8h1.8v1.8h-1.8zM274.4 118.8h1.8v1.8h-1.8zM262.7 118.5h1.8v1.8h-1.8zM260.5 118.4h1.8v1.8h-1.8zM254.5 118.2h1.8v1.8h-1.8zM263.8 116.1h1.8v1.8h-1.8zM262.7 115.5h1.8v1.8h-1.8zM273.6 115.0h1.8v1.8h-1.8zM259.3 115.0h1.8v1.8h-1.8zM273.8 115.0h1.8v1.8h-1.8zM269.8 114.8h1.8v1.8h-1.8zM256.5 114.8h1.8v1.8h-1.8zM267.5 113.0h1.8v1.8h-1.8zM271.7 113.0h1.8v1.8h-1.8zM262.6 110.1h1.8v1.8h-1.8zM272.2 109.5h1.8v1.8h-1.8zM270.5 107.3h1.8v1.8h-1.8zM270.4 107.4h1.8v1.8h-1.8zM311.6 143.9h1.8v1.8h-1.8zM305.8 143.9h1.8v1.8h-1.8zM310.1 143.4h1.8v1.8h-1.8zM313.7 143.4h1.8v1.8h-1.8zM299.0 143.5h1.8v1.8h-1.8zM305.5 143.6h1.8v1.8h-1.8zM310.5 143.3h1.8v1.8h-1.8zM298.6 143.0h1.8v1.8h-1.8zM302.6 143.1h1.8v1.8h-1.8zM312.3 143.0h1.8v1.8h-1.8zM318.3 142.8h1.8v1.8h-1.8zM310.2 142.7h1.8v1.8h-1.8zM303.8 142.5h1.8v1.8h-1.8zM300.3 142.5h1.8v1.8h-1.8zM308.8 142.7h1.8v1.8h-1.8zM309.4 142.6h1.8v1.8h-1.8zM297.9 142.4h1.8v1.8h-1.8zM313.4 142.4h1.8v1.8h-1.8zM306.8 142.0h1.8v1.8h-1.8zM308.6 142.2h1.8v1.8h-1.8zM317.0 142.3h1.8v1.8h-1.8zM310.8 142.2h1.8v1.8h-1.8zM318.2 141.9h1.8v1.8h-1.8zM313.4 141.9h1.8v1.8h-1.8zM311.6 141.6h1.8v1.8h-1.8zM317.7 141.5h1.8v1.8h-1.8zM298.6 141.8h1.8v1.8h-1.8zM298.1 141.5h1.8v1.8h-1.8zM305.0 141.4h1.8v1.8h-1.8zM302.0 141.4h1.8v1.8h-1.8zM314.3 141.5h1.8v1.8h-1.8zM311.0 141.4h1.8v1.8h-1.8zM298.1 141.0h1.8v1.8h-1.8zM315.5 141.2h1.8v1.8h-1.8zM309.2 141.1h1.8v1.8h-1.8zM318.9 141.1h1.8v1.8h-1.8zM313.6 141.0h1.8v1.8h-1.8zM299.4 141.1h1.8v1.8h-1.8zM318.3 141.0h1.8v1.8h-1.8zM318.1 141.3h1.8v1.8h-1.8zM309.3 140.9h1.8v1.8h-1.8zM300.2 140.7h1.8v1.8h-1.8zM307.6 140.9h1.8v1.8h-1.8zM304.9 140.8h1.8v1.8h-1.8zM303.6 140.7h1.8v1.8h-1.8zM297.9 140.9h1.8v1.8h-1.8zM302.5 140.6h1.8v1.8h-1.8zM318.5 140.6h1.8v1.8h-1.8zM298.9 140.6h1.8v1.8h-1.8zM309.4 140.4h1.8v1.8h-1.8zM318.8 140.2h1.8v1.8h-1.8zM315.6 140.5h1.8v1.8h-1.8zM313.3 140.1h1.8v1.8h-1.8zM307.6 140.4h1.8v1.8h-1.8zM308.2 140.2h1.8v1.8h-1.8zM312.8 139.9h1.8v1.8h-1.8zM309.1 139.9h1.8v1.8h-1.8zM298.9 139.9h1.8v1.8h-1.8zM319.6 139.8h1.8v1.8h-1.8zM318.8 139.8h1.8v1.8h-1.8zM317.6 139.8h1.8v1.8h-1.8zM299.6 139.3h1.8v1.8h-1.8zM305.4 139.2h1.8v1.8h-1.8zM301.6 139.1h1.8v1.8h-1.8zM301.4 139.4h1.8v1.8h-1.8zM302.7 139.1h1.8v1.8h-1.8zM314.8 139.1h1.8v1.8h-1.8zM308.7 138.7h1.8v1.8h-1.8zM304.3 139.1h1.8v1.8h-1.8zM300.8 138.3h1.8v1.8h-1.8zM311.7 138.5h1.8v1.8h-1.8zM313.1 138.6h1.8v1.8h-1.8zM317.2 138.4h1.8v1.8h-1.8zM311.6 137.7h1.8v1.8h-1.8zM311.0 137.8h1.8v1.8h-1.8zM305.2 138.2h1.8v1.8h-1.8zM298.2 138.2h1.8v1.8h-1.8zM302.1 138.1h1.8v1.8h-1.8zM304.4 137.9h1.8v1.8h-1.8zM314.2 137.8h1.8v1.8h-1.8zM297.4 137.3h1.8v1.8h-1.8zM300.5 137.3h1.8v1.8h-1.8zM306.2 137.7h1.8v1.8h-1.8zM316.0 137.4h1.8v1.8h-1.8zM319.8 137.5h1.8v1.8h-1.8zM309.1 136.9h1.8v1.8h-1.8zM305.5 137.3h1.8v1.8h-1.8zM306.0 137.0h1.8v1.8h-1.8zM316.1 136.9h1.8v1.8h-1.8zM312.8 136.9h1.8v1.8h-1.8zM315.6 136.9h1.8v1.8h-1.8zM310.8 136.8h1.8v1.8h-1.8zM317.4 137.3h1.8v1.8h-1.8zM299.9 136.8h1.8v1.8h-1.8zM309.4 136.6h1.8v1.8h-1.8zM303.7 136.7h1.8v1.8h-1.8zM299.1 136.7h1.8v1.8h-1.8zM314.9 136.3h1.8v1.8h-1.8zM319.3 136.1h1.8v1.8h-1.8zM309.5 136.1h1.8v1.8h-1.8zM301.4 136.2h1.8v1.8h-1.8zM299.9 135.9h1.8v1.8h-1.8zM308.5 136.3h1.8v1.8h-1.8zM311.3 135.9h1.8v1.8h-1.8zM305.5 135.5h1.8v1.8h-1.8zM317.7 135.5h1.8v1.8h-1.8zM301.5 135.5h1.8v1.8h-1.8zM300.3 135.5h1.8v1.8h-1.8zM314.2 135.5h1.8v1.8h-1.8zM319.5 135.7h1.8v1.8h-1.8zM307.5 135.4h1.8v1.8h-1.8zM307.4 135.0h1.8v1.8h-1.8zM318.1 135.0h1.8v1.8h-1.8zM313.6 135.1h1.8v1.8h-1.8zM306.8 135.0h1.8v1.8h-1.8zM306.4 135.0h1.8v1.8h-1.8zM313.1 134.9h1.8v1.8h-1.8zM308.5 134.5h1.8v1.8h-1.8zM318.9 134.1h1.8v1.8h-1.8zM298.8 134.5h1.8v1.8h-1.8zM306.1 134.3h1.8v1.8h-1.8zM308.0 134.4h1.8v1.8h-1.8zM311.3 134.4h1.8v1.8h-1.8zM306.4 134.5h1.8v1.8h-1.8zM305.2 133.8h1.8v1.8h-1.8zM317.3 134.0h1.8v1.8h-1.8zM306.3 133.6h1.8v1.8h-1.8zM299.8 133.4h1.8v1.8h-1.8zM310.1 133.4h1.8v1.8h-1.8zM314.5 133.2h1.8v1.8h-1.8zM306.2 133.5h1.8v1.8h-1.8zM313.4 132.9h1.8v1.8h-1.8zM301.3 133.1h1.8v1.8h-1.8zM303.1 133.1h1.8v1.8h-1.8zM300.2 132.8h1.8v1.8h-1.8zM318.8 132.7h1.8v1.8h-1.8zM309.9 132.9h1.8v1.8h-1.8zM314.7 132.4h1.8v1.8h-1.8zM309.5 131.9h1.8v1.8h-1.8zM315.8 131.8h1.8v1.8h-1.8zM308.9 132.0h1.8v1.8h-1.8zM297.7 132.0h1.8v1.8h-1.8zM300.3 131.6h1.8v1.8h-1.8zM314.9 131.7h1.8v1.8h-1.8zM314.7 131.5h1.8v1.8h-1.8zM308.9 131.0h1.8v1.8h-1.8zM308.8 131.1h1.8v1.8h-1.8zM318.0 131.0h1.8v1.8h-1.8zM312.5 130.6h1.8v1.8h-1.8zM310.8 130.8h1.8v1.8h-1.8zM314.6 130.5h1.8v1.8h-1.8zM306.7 130.7h1.8v1.8h-1.8zM303.5 130.2h1.8v1.8h-1.8zM312.3 130.3h1.8v1.8h-1.8zM304.1 130.0h1.8v1.8h-1.8zM312.1 130.3h1.8v1.8h-1.8zM318.5 129.6h1.8v1.8h-1.8zM317.8 129.1h1.8v1.8h-1.8zM302.0 129.4h1.8v1.8h-1.8zM312.7 128.9h1.8v1.8h-1.8zM309.6 127.8h1.8v1.8h-1.8zM311.6 127.8h1.8v1.8h-1.8zM314.9 128.0h1.8v1.8h-1.8zM312.0 127.5h1.8v1.8h-1.8zM311.6 127.5h1.8v1.8h-1.8zM312.4 127.1h1.8v1.8h-1.8zM315.1 127.1h1.8v1.8h-1.8zM298.7 127.2h1.8v1.8h-1.8zM304.2 126.6h1.8v1.8h-1.8zM316.9 126.3h1.8v1.8h-1.8zM305.8 125.4h1.8v1.8h-1.8zM308.9 125.4h1.8v1.8h-1.8zM316.2 125.4h1.8v1.8h-1.8zM312.2 125.8h1.8v1.8h-1.8zM305.5 125.3h1.8v1.8h-1.8zM300.3 125.1h1.8v1.8h-1.8zM311.7 124.8h1.8v1.8h-1.8zM308.3 124.5h1.8v1.8h-1.8zM314.7 123.9h1.8v1.8h-1.8zM308.3 123.5h1.8v1.8h-1.8zM303.4 123.4h1.8v1.8h-1.8zM317.5 123.3h1.8v1.8h-1.8zM304.3 122.7h1.8v1.8h-1.8zM314.3 122.9h1.8v1.8h-1.8zM297.4 122.6h1.8v1.8h-1.8zM302.4 121.8h1.8v1.8h-1.8zM311.2 121.5h1.8v1.8h-1.8zM318.6 121.6h1.8v1.8h-1.8zM302.5 121.4h1.8v1.8h-1.8zM315.6 121.4h1.8v1.8h-1.8zM310.9 121.0h1.8v1.8h-1.8zM304.1 120.6h1.8v1.8h-1.8zM319.5 120.5h1.8v1.8h-1.8zM318.3 120.2h1.8v1.8h-1.8zM300.0 120.0h1.8v1.8h-1.8zM316.1 119.4h1.8v1.8h-1.8zM311.5 118.7h1.8v1.8h-1.8zM309.4 118.1h1.8v1.8h-1.8zM306.0 117.6h1.8v1.8h-1.8zM318.5 117.1h1.8v1.8h-1.8zM312.2 116.3h1.8v1.8h-1.8zM304.0 115.4h1.8v1.8h-1.8zM316.8 115.1h1.8v1.8h-1.8zM298.2 113.3h1.8v1.8h-1.8zM306.6 112.6h1.8v1.8h-1.8zM298.2 99.5h1.8v1.8h-1.8zM359.7 143.4h1.8v1.8h-1.8zM342.6 143.3h1.8v1.8h-1.8zM359.2 143.1h1.8v1.8h-1.8zM347.7 143.0h1.8v1.8h-1.8zM352.3 143.1h1.8v1.8h-1.8zM356.6 143.3h1.8v1.8h-1.8zM359.8 142.7h1.8v1.8h-1.8zM353.0 142.6h1.8v1.8h-1.8zM354.7 142.6h1.8v1.8h-1.8zM343.0 143.0h1.8v1.8h-1.8zM360.9 142.7h1.8v1.8h-1.8zM347.4 142.9h1.8v1.8h-1.8zM343.2 142.9h1.8v1.8h-1.8zM361.4 142.9h1.8v1.8h-1.8zM347.2 142.6h1.8v1.8h-1.8zM349.0 142.3h1.8v1.8h-1.8zM349.0 142.2h1.8v1.8h-1.8zM346.6 142.3h1.8v1.8h-1.8zM345.2 142.5h1.8v1.8h-1.8zM359.5 142.3h1.8v1.8h-1.8zM359.1 141.9h1.8v1.8h-1.8zM358.5 142.0h1.8v1.8h-1.8zM355.0 141.9h1.8v1.8h-1.8zM353.5 141.9h1.8v1.8h-1.8zM354.9 141.7h1.8v1.8h-1.8zM357.3 141.9h1.8v1.8h-1.8zM359.3 141.2h1.8v1.8h-1.8zM357.9 141.6h1.8v1.8h-1.8zM363.2 141.6h1.8v1.8h-1.8zM355.5 140.8h1.8v1.8h-1.8zM352.7 140.8h1.8v1.8h-1.8zM352.1 141.1h1.8v1.8h-1.8zM360.9 141.1h1.8v1.8h-1.8zM346.2 141.1h1.8v1.8h-1.8zM349.4 141.0h1.8v1.8h-1.8zM352.6 140.7h1.8v1.8h-1.8zM344.6 140.7h1.8v1.8h-1.8zM360.6 140.3h1.8v1.8h-1.8zM359.0 140.2h1.8v1.8h-1.8zM346.9 140.0h1.8v1.8h-1.8zM358.1 140.2h1.8v1.8h-1.8zM360.0 140.0h1.8v1.8h-1.8zM344.6 140.2h1.8v1.8h-1.8zM350.5 139.9h1.8v1.8h-1.8zM363.5 139.9h1.8v1.8h-1.8zM346.6 139.8h1.8v1.8h-1.8zM345.1 140.1h1.8v1.8h-1.8zM356.6 140.1h1.8v1.8h-1.8zM349.0 140.1h1.8v1.8h-1.8zM361.9 140.0h1.8v1.8h-1.8zM343.6 140.1h1.8v1.8h-1.8zM354.7 140.0h1.8v1.8h-1.8zM343.5 139.7h1.8v1.8h-1.8zM344.5 139.8h1.8v1.8h-1.8zM350.5 139.7h1.8v1.8h-1.8zM363.5 139.6h1.8v1.8h-1.8zM341.7 139.5h1.8v1.8h-1.8zM357.6 139.4h1.8v1.8h-1.8zM347.1 139.7h1.8v1.8h-1.8zM350.3 138.9h1.8v1.8h-1.8zM342.0 139.2h1.8v1.8h-1.8zM358.7 139.3h1.8v1.8h-1.8zM354.8 138.9h1.8v1.8h-1.8zM353.6 139.3h1.8v1.8h-1.8zM356.4 138.8h1.8v1.8h-1.8zM349.3 138.5h1.8v1.8h-1.8zM362.0 138.3h1.8v1.8h-1.8zM356.3 138.1h1.8v1.8h-1.8zM363.7 138.3h1.8v1.8h-1.8zM361.4 138.1h1.8v1.8h-1.8zM356.0 138.3h1.8v1.8h-1.8zM361.3 138.4h1.8v1.8h-1.8zM363.8 138.2h1.8v1.8h-1.8zM345.4 137.6h1.8v1.8h-1.8zM355.8 137.8h1.8v1.8h-1.8zM356.5 137.6h1.8v1.8h-1.8zM352.8 137.7h1.8v1.8h-1.8zM359.3 137.6h1.8v1.8h-1.8zM342.5 137.3h1.8v1.8h-1.8zM344.3 137.5h1.8v1.8h-1.8zM351.5 137.1h1.8v1.8h-1.8zM353.2 137.1h1.8v1.8h-1.8zM353.0 137.3h1.8v1.8h-1.8zM342.1 137.5h1.8v1.8h-1.8zM360.2 136.9h1.8v1.8h-1.8zM360.5 136.7h1.8v1.8h-1.8zM361.9 137.0h1.8v1.8h-1.8zM358.1 136.9h1.8v1.8h-1.8zM360.8 137.0h1.8v1.8h-1.8zM361.2 136.6h1.8v1.8h-1.8zM353.2 136.8h1.8v1.8h-1.8zM355.3 136.6h1.8v1.8h-1.8zM344.3 136.5h1.8v1.8h-1.8zM356.9 136.3h1.8v1.8h-1.8zM346.7 136.3h1.8v1.8h-1.8zM349.6 136.6h1.8v1.8h-1.8zM350.2 135.7h1.8v1.8h-1.8zM350.2 136.1h1.8v1.8h-1.8zM362.8 135.8h1.8v1.8h-1.8zM358.8 135.4h1.8v1.8h-1.8zM359.0 135.6h1.8v1.8h-1.8zM364.0 135.5h1.8v1.8h-1.8zM343.3 135.4h1.8v1.8h-1.8zM343.3 135.4h1.8v1.8h-1.8zM357.7 135.6h1.8v1.8h-1.8zM344.2 135.6h1.8v1.8h-1.8zM355.7 134.8h1.8v1.8h-1.8zM357.9 135.0h1.8v1.8h-1.8zM347.6 134.9h1.8v1.8h-1.8zM360.8 135.1h1.8v1.8h-1.8zM345.2 134.4h1.8v1.8h-1.8zM347.7 134.4h1.8v1.8h-1.8zM348.7 134.4h1.8v1.8h-1.8zM349.7 134.4h1.8v1.8h-1.8zM351.4 134.7h1.8v1.8h-1.8zM361.0 133.9h1.8v1.8h-1.8zM359.4 134.3h1.8v1.8h-1.8zM345.7 133.8h1.8v1.8h-1.8zM363.0 133.7h1.8v1.8h-1.8zM355.2 133.8h1.8v1.8h-1.8zM360.8 133.5h1.8v1.8h-1.8zM342.5 133.8h1.8v1.8h-1.8zM358.3 133.8h1.8v1.8h-1.8zM358.9 132.6h1.8v1.8h-1.8zM345.8 132.2h1.8v1.8h-1.8zM354.3 132.3h1.8v1.8h-1.8zM353.5 132.4h1.8v1.8h-1.8zM354.7 132.4h1.8v1.8h-1.8zM342.9 131.6h1.8v1.8h-1.8zM358.1 131.8h1.8v1.8h-1.8zM352.6 131.6h1.8v1.8h-1.8zM342.5 132.0h1.8v1.8h-1.8zM348.7 131.6h1.8v1.8h-1.8zM357.2 131.7h1.8v1.8h-1.8zM349.3 132.0h1.8v1.8h-1.8zM342.0 132.0h1.8v1.8h-1.8zM345.5 131.8h1.8v1.8h-1.8zM349.8 131.6h1.8v1.8h-1.8zM342.2 131.3h1.8v1.8h-1.8zM350.2 131.1h1.8v1.8h-1.8zM348.7 131.2h1.8v1.8h-1.8zM345.2 131.1h1.8v1.8h-1.8zM350.1 130.8h1.8v1.8h-1.8zM352.0 130.7h1.8v1.8h-1.8zM354.7 130.9h1.8v1.8h-1.8zM354.8 130.6h1.8v1.8h-1.8zM345.3 129.9h1.8v1.8h-1.8zM363.0 129.6h1.8v1.8h-1.8zM348.3 129.6h1.8v1.8h-1.8zM361.0 129.2h1.8v1.8h-1.8zM352.4 128.9h1.8v1.8h-1.8zM343.6 128.8h1.8v1.8h-1.8zM350.5 129.1h1.8v1.8h-1.8zM351.9 128.4h1.8v1.8h-1.8zM346.1 128.4h1.8v1.8h-1.8zM355.5 128.5h1.8v1.8h-1.8zM356.9 128.7h1.8v1.8h-1.8zM349.0 128.3h1.8v1.8h-1.8zM361.5 128.2h1.8v1.8h-1.8zM361.6 127.7h1.8v1.8h-1.8zM344.5 127.8h1.8v1.8h-1.8zM344.9 127.7h1.8v1.8h-1.8zM362.9 127.7h1.8v1.8h-1.8zM351.2 127.9h1.8v1.8h-1.8zM350.0 127.8h1.8v1.8h-1.8zM361.4 127.4h1.8v1.8h-1.8zM349.4 127.1h1.8v1.8h-1.8zM351.6 127.4h1.8v1.8h-1.8zM343.6 126.6h1.8v1.8h-1.8zM355.4 126.8h1.8v1.8h-1.8zM350.4 126.8h1.8v1.8h-1.8zM352.6 126.4h1.8v1.8h-1.8zM343.5 126.4h1.8v1.8h-1.8zM347.2 126.3h1.8v1.8h-1.8zM352.7 126.2h1.8v1.8h-1.8zM352.3 126.0h1.8v1.8h-1.8zM361.6 125.9h1.8v1.8h-1.8zM360.1 125.4h1.8v1.8h-1.8zM344.5 125.6h1.8v1.8h-1.8zM352.9 125.4h1.8v1.8h-1.8zM360.2 124.9h1.8v1.8h-1.8zM360.5 123.9h1.8v1.8h-1.8zM356.2 123.1h1.8v1.8h-1.8zM344.8 123.2h1.8v1.8h-1.8zM352.4 122.3h1.8v1.8h-1.8zM350.2 122.2h1.8v1.8h-1.8zM359.2 122.1h1.8v1.8h-1.8zM358.7 121.1h1.8v1.8h-1.8zM342.7 120.8h1.8v1.8h-1.8zM355.1 120.5h1.8v1.8h-1.8zM343.1 119.6h1.8v1.8h-1.8zM363.3 119.3h1.8v1.8h-1.8zM345.3 119.5h1.8v1.8h-1.8zM350.7 118.3h1.8v1.8h-1.8zM350.2 118.4h1.8v1.8h-1.8zM346.5 118.6h1.8v1.8h-1.8zM360.9 118.1h1.8v1.8h-1.8zM353.0 117.8h1.8v1.8h-1.8zM349.5 117.4h1.8v1.8h-1.8zM346.1 117.0h1.8v1.8h-1.8zM351.0 117.0h1.8v1.8h-1.8zM363.6 115.7h1.8v1.8h-1.8zM346.1 116.0h1.8v1.8h-1.8zM350.9 115.5h1.8v1.8h-1.8zM352.3 115.3h1.8v1.8h-1.8zM348.2 114.2h1.8v1.8h-1.8zM358.3 114.3h1.8v1.8h-1.8zM356.9 113.6h1.8v1.8h-1.8zM361.7 113.7h1.8v1.8h-1.8zM361.4 112.4h1.8v1.8h-1.8zM351.4 112.2h1.8v1.8h-1.8zM349.0 110.4h1.8v1.8h-1.8zM349.3 108.0h1.8v1.8h-1.8zM353.0 104.8h1.8v1.8h-1.8zM391.9 141.1h1.8v1.8h-1.8zM398.1 140.8h1.8v1.8h-1.8zM395.0 140.8h1.8v1.8h-1.8zM391.3 140.3h1.8v1.8h-1.8zM385.7 140.6h1.8v1.8h-1.8zM396.3 140.2h1.8v1.8h-1.8zM389.7 140.1h1.8v1.8h-1.8zM395.4 139.5h1.8v1.8h-1.8zM397.2 139.7h1.8v1.8h-1.8zM388.2 139.6h1.8v1.8h-1.8zM391.6 139.4h1.8v1.8h-1.8zM386.6 139.7h1.8v1.8h-1.8zM393.0 138.9h1.8v1.8h-1.8zM385.6 139.0h1.8v1.8h-1.8zM396.5 139.1h1.8v1.8h-1.8zM396.6 139.0h1.8v1.8h-1.8zM396.6 138.5h1.8v1.8h-1.8zM389.0 138.8h1.8v1.8h-1.8zM397.5 138.7h1.8v1.8h-1.8zM393.3 138.7h1.8v1.8h-1.8zM398.1 138.6h1.8v1.8h-1.8zM395.6 138.5h1.8v1.8h-1.8zM386.3 137.8h1.8v1.8h-1.8zM396.6 137.9h1.8v1.8h-1.8zM398.0 137.9h1.8v1.8h-1.8zM397.7 137.3h1.8v1.8h-1.8zM389.2 137.3h1.8v1.8h-1.8zM387.2 137.2h1.8v1.8h-1.8zM393.0 136.8h1.8v1.8h-1.8zM387.5 136.7h1.8v1.8h-1.8zM391.8 136.7h1.8v1.8h-1.8zM388.1 136.9h1.8v1.8h-1.8zM386.7 136.6h1.8v1.8h-1.8zM395.4 136.9h1.8v1.8h-1.8zM386.1 136.9h1.8v1.8h-1.8zM385.8 136.5h1.8v1.8h-1.8zM385.6 136.5h1.8v1.8h-1.8zM396.5 136.4h1.8v1.8h-1.8zM396.9 136.6h1.8v1.8h-1.8zM398.9 135.8h1.8v1.8h-1.8zM396.0 135.8h1.8v1.8h-1.8zM386.7 135.7h1.8v1.8h-1.8zM390.9 135.2h1.8v1.8h-1.8zM394.2 135.4h1.8v1.8h-1.8zM397.3 135.4h1.8v1.8h-1.8zM386.9 135.5h1.8v1.8h-1.8zM398.0 135.3h1.8v1.8h-1.8zM386.2 135.2h1.8v1.8h-1.8zM394.6 135.2h1.8v1.8h-1.8zM396.9 135.2h1.8v1.8h-1.8zM395.8 135.1h1.8v1.8h-1.8zM387.5 135.2h1.8v1.8h-1.8zM399.5 135.1h1.8v1.8h-1.8zM397.3 134.7h1.8v1.8h-1.8zM395.7 134.6h1.8v1.8h-1.8zM394.6 133.9h1.8v1.8h-1.8zM395.9 134.2h1.8v1.8h-1.8zM385.8 133.6h1.8v1.8h-1.8zM392.2 133.8h1.8v1.8h-1.8zM392.4 133.7h1.8v1.8h-1.8zM397.2 133.6h1.8v1.8h-1.8zM393.8 133.0h1.8v1.8h-1.8zM392.9 133.2h1.8v1.8h-1.8zM394.7 133.1h1.8v1.8h-1.8zM388.0 132.9h1.8v1.8h-1.8zM398.6 132.4h1.8v1.8h-1.8zM389.9 132.1h1.8v1.8h-1.8zM398.6 132.1h1.8v1.8h-1.8zM395.3 132.3h1.8v1.8h-1.8zM391.3 132.0h1.8v1.8h-1.8zM390.5 131.8h1.8v1.8h-1.8zM389.5 132.0h1.8v1.8h-1.8zM391.6 131.7h1.8v1.8h-1.8zM390.8 131.7h1.8v1.8h-1.8zM391.0 131.8h1.8v1.8h-1.8zM389.7 132.0h1.8v1.8h-1.8zM389.6 131.5h1.8v1.8h-1.8zM392.1 131.3h1.8v1.8h-1.8zM397.9 131.1h1.8v1.8h-1.8zM396.0 131.3h1.8v1.8h-1.8zM389.5 131.3h1.8v1.8h-1.8zM391.3 131.0h1.8v1.8h-1.8zM388.5 130.8h1.8v1.8h-1.8zM385.9 130.2h1.8v1.8h-1.8zM389.0 129.9h1.8v1.8h-1.8zM388.5 129.8h1.8v1.8h-1.8zM399.5 130.1h1.8v1.8h-1.8zM399.2 129.4h1.8v1.8h-1.8zM392.2 129.5h1.8v1.8h-1.8zM397.8 129.7h1.8v1.8h-1.8zM391.1 129.7h1.8v1.8h-1.8zM388.9 129.0h1.8v1.8h-1.8zM387.8 129.3h1.8v1.8h-1.8zM398.0 129.3h1.8v1.8h-1.8zM391.0 128.4h1.8v1.8h-1.8zM393.8 128.8h1.8v1.8h-1.8zM393.5 128.7h1.8v1.8h-1.8zM385.6 128.2h1.8v1.8h-1.8zM395.6 128.1h1.8v1.8h-1.8zM392.1 127.9h1.8v1.8h-1.8zM398.8 127.2h1.8v1.8h-1.8zM398.1 126.6h1.8v1.8h-1.8zM391.0 126.6h1.8v1.8h-1.8zM388.6 126.3h1.8v1.8h-1.8zM395.6 126.0h1.8v1.8h-1.8zM395.7 125.3h1.8v1.8h-1.8zM395.3 125.4h1.8v1.8h-1.8zM399.8 125.2h1.8v1.8h-1.8zM388.8 123.8h1.8v1.8h-1.8zM396.2 124.0h1.8v1.8h-1.8zM398.2 122.6h1.8v1.8h-1.8zM388.8 122.1h1.8v1.8h-1.8zM396.1 122.0h1.8v1.8h-1.8zM399.4 122.0h1.8v1.8h-1.8zM389.3 121.0h1.8v1.8h-1.8zM396.0 120.8h1.8v1.8h-1.8zM387.0 120.7h1.8v1.8h-1.8zM394.1 120.4h1.8v1.8h-1.8zM398.4 120.0h1.8v1.8h-1.8zM387.9 119.2h1.8v1.8h-1.8zM385.7 118.4h1.8v1.8h-1.8zM395.3 118.5h1.8v1.8h-1.8zM397.2 118.5h1.8v1.8h-1.8zM394.2 117.8h1.8v1.8h-1.8zM396.8 116.4h1.8v1.8h-1.8zM390.1 116.0h1.8v1.8h-1.8zM389.6 116.4h1.8v1.8h-1.8zM394.6 115.2h1.8v1.8h-1.8zM397.2 115.1h1.8v1.8h-1.8zM391.2 114.8h1.8v1.8h-1.8zM397.5 113.0h1.8v1.8h-1.8zM397.7 111.7h1.8v1.8h-1.8zM399.7 111.3h1.8v1.8h-1.8zM396.7 109.9h1.8v1.8h-1.8zM399.1 109.4h1.8v1.8h-1.8zM394.1 108.6h1.8v1.8h-1.8zM385.6 108.3h1.8v1.8h-1.8zM399.6 105.0h1.8v1.8h-1.8zM420.3 141.6h1.8v1.8h-1.8zM420.3 141.5h1.8v1.8h-1.8zM426.2 141.5h1.8v1.8h-1.8zM419.2 141.2h1.8v1.8h-1.8zM418.2 140.8h1.8v1.8h-1.8zM427.0 140.6h1.8v1.8h-1.8zM425.3 140.2h1.8v1.8h-1.8zM426.6 140.2h1.8v1.8h-1.8zM417.5 140.2h1.8v1.8h-1.8zM429.2 139.4h1.8v1.8h-1.8zM430.1 139.2h1.8v1.8h-1.8zM419.6 138.9h1.8v1.8h-1.8zM427.3 139.0h1.8v1.8h-1.8zM429.7 139.0h1.8v1.8h-1.8zM428.4 138.3h1.8v1.8h-1.8zM428.2 138.5h1.8v1.8h-1.8zM420.9 138.4h1.8v1.8h-1.8zM429.9 138.3h1.8v1.8h-1.8zM420.0 138.3h1.8v1.8h-1.8zM429.0 138.3h1.8v1.8h-1.8zM419.2 137.8h1.8v1.8h-1.8zM429.4 138.1h1.8v1.8h-1.8zM427.9 137.9h1.8v1.8h-1.8zM426.1 137.3h1.8v1.8h-1.8zM420.9 137.6h1.8v1.8h-1.8zM419.2 136.9h1.8v1.8h-1.8zM417.6 136.5h1.8v1.8h-1.8zM428.6 136.5h1.8v1.8h-1.8zM418.5 136.3h1.8v1.8h-1.8zM426.5 136.1h1.8v1.8h-1.8zM427.0 135.7h1.8v1.8h-1.8zM417.5 135.4h1.8v1.8h-1.8zM426.2 135.4h1.8v1.8h-1.8zM419.4 135.2h1.8v1.8h-1.8zM417.7 134.9h1.8v1.8h-1.8zM426.6 134.7h1.8v1.8h-1.8zM429.6 134.9h1.8v1.8h-1.8zM430.3 134.4h1.8v1.8h-1.8zM428.9 134.4h1.8v1.8h-1.8zM429.2 134.2h1.8v1.8h-1.8zM426.0 133.9h1.8v1.8h-1.8zM428.7 133.3h1.8v1.8h-1.8zM427.9 133.5h1.8v1.8h-1.8zM430.3 133.4h1.8v1.8h-1.8zM428.0 132.8h1.8v1.8h-1.8zM429.1 132.6h1.8v1.8h-1.8zM419.7 132.2h1.8v1.8h-1.8zM419.6 131.4h1.8v1.8h-1.8zM427.6 131.4h1.8v1.8h-1.8zM425.8 131.2h1.8v1.8h-1.8zM427.6 131.0h1.8v1.8h-1.8zM427.9 131.0h1.8v1.8h-1.8zM420.1 130.7h1.8v1.8h-1.8zM424.9 130.0h1.8v1.8h-1.8zM419.8 130.3h1.8v1.8h-1.8zM427.2 129.6h1.8v1.8h-1.8zM420.6 129.7h1.8v1.8h-1.8zM417.9 129.2h1.8v1.8h-1.8zM417.7 129.4h1.8v1.8h-1.8zM426.2 129.4h1.8v1.8h-1.8zM426.0 129.2h1.8v1.8h-1.8zM419.2 128.8h1.8v1.8h-1.8zM424.9 128.9h1.8v1.8h-1.8zM430.0 128.9h1.8v1.8h-1.8zM419.4 128.8h1.8v1.8h-1.8zM419.9 128.8h1.8v1.8h-1.8zM426.3 128.3h1.8v1.8h-1.8zM425.2 127.3h1.8v1.8h-1.8zM426.9 127.1h1.8v1.8h-1.8zM417.1 127.2h1.8v1.8h-1.8zM417.5 127.0h1.8v1.8h-1.8zM419.3 126.7h1.8v1.8h-1.8zM428.1 126.4h1.8v1.8h-1.8zM417.5 126.6h1.8v1.8h-1.8zM420.5 126.5h1.8v1.8h-1.8zM425.4 126.0h1.8v1.8h-1.8zM428.6 125.8h1.8v1.8h-1.8zM427.4 125.8h1.8v1.8h-1.8zM417.5 125.3h1.8v1.8h-1.8zM430.0 125.2h1.8v1.8h-1.8zM418.5 124.5h1.8v1.8h-1.8zM425.7 124.0h1.8v1.8h-1.8zM427.6 123.9h1.8v1.8h-1.8zM420.7 123.3h1.8v1.8h-1.8zM425.1 122.5h1.8v1.8h-1.8zM417.6 122.1h1.8v1.8h-1.8zM418.8 121.2h1.8v1.8h-1.8zM417.0 120.4h1.8v1.8h-1.8zM420.4 120.1h1.8v1.8h-1.8zM419.8 119.8h1.8v1.8h-1.8zM426.9 119.2h1.8v1.8h-1.8zM427.6 118.9h1.8v1.8h-1.8zM429.5 118.2h1.8v1.8h-1.8zM430.3 118.0h1.8v1.8h-1.8zM417.6 114.7h1.8v1.8h-1.8zM418.3 114.7h1.8v1.8h-1.8zM426.7 113.1h1.8v1.8h-1.8zM419.0 113.0h1.8v1.8h-1.8zM426.2 110.0h1.8v1.8h-1.8zM420.2 106.7h1.8v1.8h-1.8zM429.2 103.0h1.8v1.8h-1.8zM453.9 142.0h1.8v1.8h-1.8zM450.2 142.1h1.8v1.8h-1.8zM450.2 142.0h1.8v1.8h-1.8zM449.2 141.9h1.8v1.8h-1.8zM450.6 142.1h1.8v1.8h-1.8zM454.6 141.6h1.8v1.8h-1.8zM449.6 141.2h1.8v1.8h-1.8zM455.4 141.1h1.8v1.8h-1.8zM448.4 140.9h1.8v1.8h-1.8zM445.2 140.8h1.8v1.8h-1.8zM444.3 140.9h1.8v1.8h-1.8zM455.7 140.1h1.8v1.8h-1.8zM452.0 140.2h1.8v1.8h-1.8zM452.6 140.4h1.8v1.8h-1.8zM453.7 139.8h1.8v1.8h-1.8zM454.3 139.6h1.8v1.8h-1.8zM455.1 139.8h1.8v1.8h-1.8zM452.9 139.2h1.8v1.8h-1.8zM446.2 139.4h1.8v1.8h-1.8zM450.4 139.0h1.8v1.8h-1.8zM454.2 139.0h1.8v1.8h-1.8zM445.0 138.9h1.8v1.8h-1.8zM452.9 138.8h1.8v1.8h-1.8zM449.2 138.3h1.8v1.8h-1.8zM445.8 138.5h1.8v1.8h-1.8zM448.9 137.9h1.8v1.8h-1.8zM444.0 137.8h1.8v1.8h-1.8zM451.3 137.7h1.8v1.8h-1.8zM455.2 137.2h1.8v1.8h-1.8zM451.1 137.2h1.8v1.8h-1.8zM450.8 136.7h1.8v1.8h-1.8zM450.8 136.4h1.8v1.8h-1.8zM445.6 136.7h1.8v1.8h-1.8zM455.4 136.4h1.8v1.8h-1.8zM453.8 135.5h1.8v1.8h-1.8zM450.0 135.1h1.8v1.8h-1.8zM444.7 134.8h1.8v1.8h-1.8zM450.9 134.3h1.8v1.8h-1.8zM452.1 134.1h1.8v1.8h-1.8zM448.6 133.3h1.8v1.8h-1.8zM444.2 132.8h1.8v1.8h-1.8zM452.5 133.0h1.8v1.8h-1.8zM446.9 132.7h1.8v1.8h-1.8zM446.4 133.1h1.8v1.8h-1.8zM455.1 132.8h1.8v1.8h-1.8zM450.5 132.5h1.8v1.8h-1.8zM447.8 132.4h1.8v1.8h-1.8zM454.5 132.5h1.8v1.8h-1.8zM447.9 132.6h1.8v1.8h-1.8zM453.5 132.2h1.8v1.8h-1.8zM444.9 132.1h1.8v1.8h-1.8zM450.3 131.8h1.8v1.8h-1.8zM444.7 131.6h1.8v1.8h-1.8zM447.7 131.6h1.8v1.8h-1.8zM443.9 131.4h1.8v1.8h-1.8zM449.6 131.7h1.8v1.8h-1.8zM451.5 131.5h1.8v1.8h-1.8zM446.2 131.2h1.8v1.8h-1.8zM446.8 131.1h1.8v1.8h-1.8zM451.4 131.1h1.8v1.8h-1.8zM448.6 129.2h1.8v1.8h-1.8zM455.7 129.2h1.8v1.8h-1.8zM452.1 128.3h1.8v1.8h-1.8zM449.6 126.6h1.8v1.8h-1.8zM444.2 126.7h1.8v1.8h-1.8zM455.1 126.2h1.8v1.8h-1.8zM453.4 126.1h1.8v1.8h-1.8zM447.0 125.7h1.8v1.8h-1.8zM444.0 124.8h1.8v1.8h-1.8zM446.3 124.2h1.8v1.8h-1.8zM451.3 124.5h1.8v1.8h-1.8zM450.6 123.3h1.8v1.8h-1.8zM454.2 123.0h1.8v1.8h-1.8zM443.8 122.8h1.8v1.8h-1.8zM452.8 122.6h1.8v1.8h-1.8zM449.7 121.8h1.8v1.8h-1.8zM445.9 121.0h1.8v1.8h-1.8zM443.9 120.7h1.8v1.8h-1.8zM445.5 120.3h1.8v1.8h-1.8zM445.5 119.7h1.8v1.8h-1.8zM452.7 119.2h1.8v1.8h-1.8zM449.8 118.5h1.8v1.8h-1.8zM444.7 117.3h1.8v1.8h-1.8zM444.8 116.4h1.8v1.8h-1.8zM446.9 116.0h1.8v1.8h-1.8zM455.1 114.0h1.8v1.8h-1.8zM455.2 113.1h1.8v1.8h-1.8zM445.4 113.5h1.8v1.8h-1.8zM450.5 113.1h1.8v1.8h-1.8zM453.7 111.9h1.8v1.8h-1.8zM447.9 110.7h1.8v1.8h-1.8zM454.8 109.3h1.8v1.8h-1.8zM450.2 108.9h1.8v1.8h-1.8zM451.3 108.6h1.8v1.8h-1.8zM449.9 104.6h1.8v1.8h-1.8zM443.9 101.1h1.8v1.8h-1.8zM468.0 140.9h1.8v1.8h-1.8zM467.8 140.9h1.8v1.8h-1.8zM468.9 140.7h1.8v1.8h-1.8zM475.0 140.8h1.8v1.8h-1.8zM468.7 140.3h1.8v1.8h-1.8zM468.8 140.3h1.8v1.8h-1.8zM471.1 140.5h1.8v1.8h-1.8zM467.3 140.3h1.8v1.8h-1.8zM467.8 139.9h1.8v1.8h-1.8zM470.0 140.0h1.8v1.8h-1.8zM468.5 139.6h1.8v1.8h-1.8zM474.5 139.7h1.8v1.8h-1.8zM470.8 139.7h1.8v1.8h-1.8zM470.8 139.5h1.8v1.8h-1.8zM467.9 139.5h1.8v1.8h-1.8zM467.6 139.6h1.8v1.8h-1.8zM473.5 139.5h1.8v1.8h-1.8zM471.3 139.3h1.8v1.8h-1.8zM474.2 139.0h1.8v1.8h-1.8zM473.8 139.1h1.8v1.8h-1.8zM467.9 138.5h1.8v1.8h-1.8zM472.7 138.7h1.8v1.8h-1.8zM475.1 138.5h1.8v1.8h-1.8zM466.4 138.7h1.8v1.8h-1.8zM473.6 138.5h1.8v1.8h-1.8zM473.7 138.8h1.8v1.8h-1.8zM470.4 138.1h1.8v1.8h-1.8zM473.0 138.3h1.8v1.8h-1.8zM471.2 138.0h1.8v1.8h-1.8zM467.1 137.9h1.8v1.8h-1.8zM474.6 137.3h1.8v1.8h-1.8zM476.1 137.2h1.8v1.8h-1.8zM471.2 137.1h1.8v1.8h-1.8zM466.3 136.9h1.8v1.8h-1.8zM466.8 137.0h1.8v1.8h-1.8zM472.0 136.3h1.8v1.8h-1.8zM467.4 135.7h1.8v1.8h-1.8zM467.7 135.8h1.8v1.8h-1.8zM475.0 135.4h1.8v1.8h-1.8zM467.5 134.8h1.8v1.8h-1.8zM470.1 134.8h1.8v1.8h-1.8zM475.2 135.0h1.8v1.8h-1.8zM469.4 134.3h1.8v1.8h-1.8zM473.2 134.4h1.8v1.8h-1.8zM466.0 134.0h1.8v1.8h-1.8zM470.9 133.6h1.8v1.8h-1.8zM475.9 133.3h1.8v1.8h-1.8zM472.0 133.2h1.8v1.8h-1.8zM474.1 133.1h1.8v1.8h-1.8zM472.8 132.5h1.8v1.8h-1.8zM475.6 132.5h1.8v1.8h-1.8zM470.1 132.4h1.8v1.8h-1.8zM473.2 131.9h1.8v1.8h-1.8zM468.3 131.9h1.8v1.8h-1.8zM467.1 131.4h1.8v1.8h-1.8zM466.3 131.3h1.8v1.8h-1.8zM472.5 131.4h1.8v1.8h-1.8zM476.6 130.3h1.8v1.8h-1.8zM471.9 130.5h1.8v1.8h-1.8zM472.8 129.8h1.8v1.8h-1.8zM474.6 129.9h1.8v1.8h-1.8zM471.0 129.8h1.8v1.8h-1.8zM471.3 130.1h1.8v1.8h-1.8zM470.8 129.8h1.8v1.8h-1.8zM466.9 130.2h1.8v1.8h-1.8zM466.7 130.1h1.8v1.8h-1.8zM466.2 129.6h1.8v1.8h-1.8zM466.5 128.9h1.8v1.8h-1.8zM466.5 129.0h1.8v1.8h-1.8zM468.2 129.0h1.8v1.8h-1.8zM467.7 128.5h1.8v1.8h-1.8zM473.4 128.6h1.8v1.8h-1.8zM476.3 128.3h1.8v1.8h-1.8zM474.0 127.5h1.8v1.8h-1.8zM468.7 127.8h1.8v1.8h-1.8zM475.6 127.2h1.8v1.8h-1.8zM472.5 127.2h1.8v1.8h-1.8zM474.0 127.3h1.8v1.8h-1.8zM470.0 127.4h1.8v1.8h-1.8zM472.8 126.5h1.8v1.8h-1.8zM473.5 126.6h1.8v1.8h-1.8zM476.1 126.8h1.8v1.8h-1.8zM468.0 125.9h1.8v1.8h-1.8zM474.4 125.9h1.8v1.8h-1.8zM474.7 125.3h1.8v1.8h-1.8zM474.3 125.0h1.8v1.8h-1.8zM469.7 123.3h1.8v1.8h-1.8zM471.7 123.3h1.8v1.8h-1.8zM474.1 122.4h1.8v1.8h-1.8zM474.0 122.1h1.8v1.8h-1.8zM468.4 121.6h1.8v1.8h-1.8zM470.5 121.2h1.8v1.8h-1.8zM472.3 121.3h1.8v1.8h-1.8zM473.8 120.3h1.8v1.8h-1.8zM471.8 120.1h1.8v1.8h-1.8zM474.1 120.0h1.8v1.8h-1.8zM470.1 113.6h1.8v1.8h-1.8zM475.8 113.0h1.8v1.8h-1.8zM476.7 110.6h1.8v1.8h-1.8zM468.5 108.9h1.8v1.8h-1.8zM473.4 108.8h1.8v1.8h-1.8zM475.5 102.8h1.8v1.8h-1.8zM488.2 141.2h1.8v1.8h-1.8zM491.8 141.0h1.8v1.8h-1.8zM490.6 140.7h1.8v1.8h-1.8zM487.1 140.7h1.8v1.8h-1.8zM489.8 140.4h1.8v1.8h-1.8zM490.7 139.9h1.8v1.8h-1.8zM490.6 140.0h1.8v1.8h-1.8zM491.9 139.0h1.8v1.8h-1.8zM490.8 138.7h1.8v1.8h-1.8zM490.3 138.7h1.8v1.8h-1.8zM491.6 138.3h1.8v1.8h-1.8zM488.9 137.7h1.8v1.8h-1.8zM488.3 137.9h1.8v1.8h-1.8zM491.8 137.7h1.8v1.8h-1.8zM489.6 137.1h1.8v1.8h-1.8zM487.5 136.2h1.8v1.8h-1.8zM487.3 135.4h1.8v1.8h-1.8zM491.2 134.2h1.8v1.8h-1.8zM491.0 134.1h1.8v1.8h-1.8zM489.7 133.8h1.8v1.8h-1.8zM488.1 132.3h1.8v1.8h-1.8zM488.9 131.6h1.8v1.8h-1.8zM487.6 131.5h1.8v1.8h-1.8zM491.7 130.7h1.8v1.8h-1.8zM490.8 131.0h1.8v1.8h-1.8zM491.9 130.0h1.8v1.8h-1.8zM487.3 129.5h1.8v1.8h-1.8zM487.7 129.3h1.8v1.8h-1.8zM489.5 128.3h1.8v1.8h-1.8zM486.8 127.6h1.8v1.8h-1.8zM491.0 126.8h1.8v1.8h-1.8zM491.1 125.3h1.8v1.8h-1.8zM490.6 124.9h1.8v1.8h-1.8zM491.5 124.3h1.8v1.8h-1.8zM488.6 123.4h1.8v1.8h-1.8zM492.0 122.9h1.8v1.8h-1.8zM487.9 121.6h1.8v1.8h-1.8zM491.9 119.5h1.8v1.8h-1.8zM488.8 117.7h1.8v1.8h-1.8zM489.6 116.5h1.8v1.8h-1.8zM490.3 110.6h1.8v1.8h-1.8zM202.9 131.7h1.8v1.8h-1.8zM202.9 110.7h1.8v1.8h-1.8zM203.0 109.3h1.8v1.8h-1.8zM201.9 134.8h1.8v1.8h-1.8zM202.6 120.7h1.8v1.8h-1.8zM202.8 101.5h1.8v1.8h-1.8zM202.3 133.5h1.8v1.8h-1.8zM203.0 122.1h1.8v1.8h-1.8zM202.6 122.8h1.8v1.8h-1.8zM203.3 128.1h1.8v1.8h-1.8zM203.2 118.4h1.8v1.8h-1.8zM202.5 128.0h1.8v1.8h-1.8zM202.8 103.1h1.8v1.8h-1.8zM202.5 99.1h1.8v1.8h-1.8zM202.5 134.2h1.8v1.8h-1.8zM203.0 135.8h1.8v1.8h-1.8zM203.0 117.0h1.8v1.8h-1.8zM203.1 133.6h1.8v1.8h-1.8zM202.6 131.4h1.8v1.8h-1.8zM202.8 113.5h1.8v1.8h-1.8zM203.0 106.6h1.8v1.8h-1.8zM202.9 136.3h1.8v1.8h-1.8zM202.4 129.6h1.8v1.8h-1.8zM202.5 122.5h1.8v1.8h-1.8zM202.9 122.2h1.8v1.8h-1.8zM203.2 129.5h1.8v1.8h-1.8zM202.6 102.3h1.8v1.8h-1.8zM202.6 115.2h1.8v1.8h-1.8z"/>
<path fill="#8888b8" d="M127.4 78.9h2.2v2.2h-2.2zM123.5 88.2h2.2v2.2h-2.2zM136.9 56.1h2.2v2.2h-2.2zM41.6 90.3h2.2v2.2h-2.2zM29.4 97.4h2.2v2.2h-2.2zM32.9 99.3h2.2v2.2h-2.2zM40.9 99.3h2.2v2.2h-2.2zM42.1 99.3h2.2v2.2h-2.2zM172.4 81.3h2.2v2.2h-2.2zM179.7 92.6h2.2v2.2h-2.2zM190.9 83.6h2.2v2.2h-2.2zM191.5 94.7h2.2v2.2h-2.2zM180.4 101.6h2.2v2.2h-2.2zM173.5 104.1h2.2v2.2h-2.2zM182.3 104.1h2.2v2.2h-2.2zM228.9 88.2h2.2v2.2h-2.2zM232.4 95.1h2.2v2.2h-2.2zM246.2 81.3h2.2v2.2h-2.2zM230.7 101.9h2.2v2.2h-2.2zM233.5 101.9h2.2v2.2h-2.2zM277.7 79.0h2.2v2.2h-2.2zM289.9 95.9h2.2v2.2h-2.2zM295.1 97.2h2.2v2.2h-2.2zM280.1 104.1h2.2v2.2h-2.2zM320.4 69.5h2.2v2.2h-2.2zM320.9 83.6h2.2v2.2h-2.2zM332.4 78.5h2.2v2.2h-2.2zM333.9 76.7h2.2v2.2h-2.2zM331.9 83.6h2.2v2.2h-2.2zM326.9 90.3h2.2v2.2h-2.2zM330.9 99.3h2.2v2.2h-2.2zM340.7 90.3h2.2v2.2h-2.2zM381.5 94.9h2.2v2.2h-2.2zM432.7 92.6h2.2v2.2h-2.2zM432.7 101.9h2.2v2.2h-2.2zM513.9 83.5h2.2v2.2h-2.2zM513.9 87.8h2.2v2.2h-2.2zM497.4 104.3h2.2v2.2h-2.2z"/>
<path fill="#14143c" d="M96.2 58.3h2.4v2.4h-2.4zM77.7 76.8h2.4v2.4h-2.4zM68.5 83.5h2.4v2.4h-2.4zM69.6 85.8h2.4v2.4h-2.4zM69.0 95.0h2.4v2.4h-2.4zM79.6 92.5h2.4v2.4h-2.4zM96.2 92.5h2.4v2.4h-2.4zM203.4 46.8h2.4v2.4h-2.4zM203.4 51.4h2.4v2.4h-2.4zM202.5 78.4h2.4v2.4h-2.4zM202.5 85.3h2.4v2.4h-2.4zM202.5 90.0h2.4v2.4h-2.4zM202.5 92.3h2.4v2.4h-2.4zM202.5 95.8h2.4v2.4h-2.4zM202.5 98.0h2.4v2.4h-2.4zM202.5 102.6h2.4v2.4h-2.4zM202.5 104.8h2.4v2.4h-2.4zM202.5 107.3h2.4v2.4h-2.4zM202.5 109.8h2.4v2.4h-2.4zM140.6 101.8h2.4v2.4h-2.4zM149.6 104.0h2.4v2.4h-2.4zM157.3 101.8h2.4v2.4h-2.4zM223.0 90.2h2.4v2.4h-2.4zM270.7 92.5h2.4v2.4h-2.4zM269.1 97.1h2.4v2.4h-2.4zM300.7 92.5h2.4v2.4h-2.4zM305.3 97.1h2.4v2.4h-2.4zM303.0 101.8h2.4v2.4h-2.4zM305.3 106.3h2.4v2.4h-2.4zM319.2 99.2h2.4v2.4h-2.4zM342.3 85.6h2.4v2.4h-2.4zM344.6 85.6h2.4v2.4h-2.4zM356.3 78.9h2.4v2.4h-2.4zM352.2 104.0h2.4v2.4h-2.4zM358.4 104.0h2.4v2.4h-2.4zM362.6 101.8h2.4v2.4h-2.4zM386.0 99.4h2.4v2.4h-2.4zM390.0 99.4h2.4v2.4h-2.4zM396.4 90.2h2.4v2.4h-2.4zM419.3 92.5h2.4v2.4h-2.4zM420.2 97.1h2.4v2.4h-2.4zM416.0 97.1h2.4v2.4h-2.4zM416.0 104.0h2.4v2.4h-2.4zM444.2 99.6h2.4v2.4h-2.4zM448.5 97.0h2.4v2.4h-2.4zM444.2 103.8h2.4v2.4h-2.4zM470.6 92.3h2.4v2.4h-2.4zM470.6 97.0h2.4v2.4h-2.4zM475.7 95.0h2.4v2.4h-2.4zM475.7 101.4h2.4v2.4h-2.4zM468.8 101.4h2.4v2.4h-2.4zM470.6 104.2h2.4v2.4h-2.4zM487.3 106.0h2.4v2.4h-2.4zM488.8 106.0h2.4v2.4h-2.4z"/>
<rect x="96.3" y="24.3" width="2" height="2" fill="#9a3030"/>
<path d="M27.5 9.5V169.5H518.5V9.5Z" fill="none" stroke="#333" stroke-width="1"/>
<line x1="23.5" y1="169.5" x2="27.5" y2="169.5" stroke="#333" stroke-width="1"/>
<text x="22.3" y="171.7" text-anchor="end" class="yt">0</text>
<line x1="23.5" y1="146.6" x2="27.5" y2="146.6" stroke="#333" stroke-width="1"/>
<text x="22.3" y="148.8" text-anchor="end" class="yt">1</text>
<line x1="23.5" y1="123.8" x2="27.5" y2="123.8" stroke="#333" stroke-width="1"/>
<text x="22.3" y="126.0" text-anchor="end" class="yt">2</text>
<line x1="23.5" y1="100.9" x2="27.5" y2="100.9" stroke="#333" stroke-width="1"/>
<text x="22.3" y="103.1" text-anchor="end" class="yt">3</text>
<line x1="23.5" y1="78.1" x2="27.5" y2="78.1" stroke="#333" stroke-width="1"/>
<text x="22.3" y="80.3" text-anchor="end" class="yt">4</text>
<line x1="23.5" y1="55.2" x2="27.5" y2="55.2" stroke="#333" stroke-width="1"/>
<text x="22.3" y="57.4" text-anchor="end" class="yt">5</text>
<line x1="23.5" y1="32.3" x2="27.5" y2="32.3" stroke="#333" stroke-width="1"/>
<text x="22.3" y="34.5" text-anchor="end" class="yt">6</text>
<line x1="23.5" y1="9.5" x2="27.5" y2="9.5" stroke="#333" stroke-width="1"/>
<text x="22.3" y="11.7" text-anchor="end" class="yt">7</text>
<line x1="47.0" y1="169.5" x2="47.0" y2="172" stroke="#666" stroke-width="0.8"/>
<text x="47.0" y="180.3" text-anchor="middle" class="xt">1</text>
<line x1="86.5" y1="169.5" x2="86.5" y2="172" stroke="#666" stroke-width="0.8"/>
<text x="86.5" y="180.3" text-anchor="middle" class="xt">2</text>
<line x1="122.5" y1="169.5" x2="122.5" y2="172" stroke="#666" stroke-width="0.8"/>
<text x="122.5" y="180.3" text-anchor="middle" class="xt">3</text>
<line x1="154.3" y1="169.5" x2="154.3" y2="172" stroke="#666" stroke-width="0.8"/>
<text x="154.3" y="180.3" text-anchor="middle" class="xt">4</text>
<line x1="184.5" y1="169.5" x2="184.5" y2="172" stroke="#666" stroke-width="0.8"/>
<text x="184.5" y="180.3" text-anchor="middle" class="xt">5</text>
<line x1="212.5" y1="169.5" x2="212.5" y2="172" stroke="#666" stroke-width="0.8"/>
<text x="212.5" y="180.3" text-anchor="middle" class="xt">6</text>
<line x1="239.3" y1="169.5" x2="239.3" y2="172" stroke="#666" stroke-width="0.8"/>
<text x="239.3" y="180.3" text-anchor="middle" class="xt">7</text>
<line x1="264.3" y1="169.5" x2="264.3" y2="172" stroke="#666" stroke-width="0.8"/>
<text x="264.3" y="180.3" text-anchor="middle" class="xt">8</text>
<line x1="287.0" y1="169.5" x2="287.0" y2="172" stroke="#666" stroke-width="0.8"/>
<text x="287.0" y="180.3" text-anchor="middle" class="xt">9</text>
<line x1="310.0" y1="169.5" x2="310.0" y2="172" stroke="#666" stroke-width="0.8"/>
<text x="310.0" y="180.3" text-anchor="middle" class="xt">10</text>
<line x1="332.5" y1="169.5" x2="332.5" y2="172" stroke="#666" stroke-width="0.8"/>
<text x="332.5" y="180.3" text-anchor="middle" class="xt">11</text>
<line x1="354.5" y1="169.5" x2="354.5" y2="172" stroke="#666" stroke-width="0.8"/>
<text x="354.5" y="180.3" text-anchor="middle" class="xt">12</text>
<line x1="374.2" y1="169.5" x2="374.2" y2="172" stroke="#666" stroke-width="0.8"/>
<text x="374.2" y="180.3" text-anchor="middle" class="xt">13</text>
<line x1="392.3" y1="169.5" x2="392.3" y2="172" stroke="#666" stroke-width="0.8"/>
<text x="392.3" y="180.3" text-anchor="middle" class="xt">14</text>
<line x1="409.2" y1="169.5" x2="409.2" y2="172" stroke="#666" stroke-width="0.8"/>
<text x="409.2" y="180.3" text-anchor="middle" class="xt">15</text>
<line x1="425.4" y1="169.5" x2="425.4" y2="172" stroke="#666" stroke-width="0.8"/>
<text x="425.4" y="180.3" text-anchor="middle" class="xt">16</text>
<line x1="438.7" y1="169.5" x2="438.7" y2="172" stroke="#666" stroke-width="0.8"/>
<text x="438.7" y="180.3" text-anchor="middle" class="xt">17</text>
<line x1="451.6" y1="169.5" x2="451.6" y2="172" stroke="#666" stroke-width="0.8"/>
<text x="451.7" y="180.3" text-anchor="middle" class="xt">18</text>
<line x1="462.8" y1="169.5" x2="462.8" y2="172" stroke="#666" stroke-width="0.8"/>
<text x="463.3" y="180.3" text-anchor="middle" class="xt">19</text>
<line x1="472.6" y1="169.5" x2="472.6" y2="172" stroke="#666" stroke-width="0.8"/>
<text x="471.0" y="180.3" text-anchor="middle" class="xt">20</text>
<line x1="480.8" y1="169.5" x2="480.8" y2="172" stroke="#666" stroke-width="0.8"/>
<text x="478.6" y="180.3" text-anchor="middle" class="xt">21</text>
<line x1="489.5" y1="169.5" x2="489.5" y2="172" stroke="#666" stroke-width="0.8"/>
<text x="487.8" y="180.3" text-anchor="middle" class="xt">22</text>
<line x1="505.8" y1="169.5" x2="505.8" y2="172" stroke="#666" stroke-width="0.8"/>
<text x="506.2" y="180.3" text-anchor="middle" class="xt">X</text>
<text x="211" y="191.4" class="xl" textLength="124" lengthAdjust="spacingAndGlyphs">Chromosomal Coordinates</text>
<text x="0" y="0" class="yl" transform="translate(11 109) rotate(-90)">-log<tspan font-size="7" dy="2">10</tspan><tspan dy="-2">(p)</tspan></text>
<text x="0.5" y="12" class="lab">A.</text>
<line x1="140" y1="19.6" x2="107.5" y2="24" stroke="#20204a" stroke-width="1.4"/>
<path d="M101.0 24.8 L110.2 20.4 L109.6 23.9 L112.0 27.4 Z" fill="#20204a"/>
<text x="143.6" y="22.5" class="ann" textLength="151.5" lengthAdjust="spacingAndGlyphs">rs7586970 (TFPI 221Asn&gt;Ser)</text>
<rect x="425" y="13.8" width="81.2" height="15.9" fill="#f0f0f0" stroke="#333" stroke-width="1"/>
<text x="427.3" y="24.8" class="pv" textLength="75.7" lengthAdjust="spacingAndGlyphs">p-value = 5.1E−7</text>
<text x="98.5" y="218" class="lab">B.</text>
<line x1="133.2" y1="496.5" x2="139.5" y2="496.5" stroke="#555" stroke-width="1"/>
<text x="130.3" y="496.5" text-anchor="middle" class="bt" transform="rotate(-90 130.3 496.5)">50</text>
<line x1="133.2" y1="407.5" x2="139.5" y2="407.5" stroke="#555" stroke-width="1"/>
<text x="130.3" y="407.5" text-anchor="middle" class="bt" transform="rotate(-90 130.3 407.5)">100</text>
<line x1="133.2" y1="318.5" x2="139.5" y2="318.5" stroke="#555" stroke-width="1"/>
<text x="130.3" y="318.5" text-anchor="middle" class="bt" transform="rotate(-90 130.3 318.5)">150</text>
<line x1="133.2" y1="229.5" x2="139.5" y2="229.5" stroke="#555" stroke-width="1"/>
<text x="130.3" y="229.5" text-anchor="middle" class="bt" transform="rotate(-90 130.3 229.5)">200</text>
<text x="0" y="0" class="byl" textLength="129" lengthAdjust="spacingAndGlyphs" transform="translate(110.6 462.3) rotate(-90)">TFPI Antigen (ng/mL)</text>
<line x1="185.8" y1="336.3" x2="185.8" y2="425.4" stroke="#333" stroke-width="1" stroke-dasharray="3,3"/>
<line x1="185.8" y1="489.2" x2="185.8" y2="549.7" stroke="#333" stroke-width="1" stroke-dasharray="3,3"/>
<line x1="172.3" y1="336.3" x2="199.3" y2="336.3" stroke="#333" stroke-width="1"/>
<line x1="172.3" y1="549.7" x2="199.3" y2="549.7" stroke="#333" stroke-width="1"/>
<rect x="159.2" y="425.4" width="53.2" height="63.8" fill="#d3d3d3" stroke="#333" stroke-width="1"/>
<line x1="159.7" y1="464.3" x2="211.9" y2="464.3" stroke="#dd1c1c" stroke-width="2.6"/>
<circle cx="185.8" cy="236.3" r="2.9" fill="none" stroke="#3b853b" stroke-width="1.15"/>
<circle cx="185.8" cy="242.7" r="2.9" fill="none" stroke="#3b853b" stroke-width="1.15"/>
<circle cx="185.8" cy="245.3" r="2.9" fill="none" stroke="#3b853b" stroke-width="1.15"/>
<circle cx="185.8" cy="248.2" r="2.9" fill="none" stroke="#3b853b" stroke-width="1.15"/>
<circle cx="185.8" cy="250.6" r="2.9" fill="none" stroke="#3b853b" stroke-width="1.15"/>
<circle cx="185.8" cy="253.2" r="2.9" fill="none" stroke="#3b853b" stroke-width="1.15"/>
<circle cx="185.8" cy="271.8" r="2.9" fill="none" stroke="#3b853b" stroke-width="1.15"/>
<circle cx="185.8" cy="277.9" r="2.9" fill="none" stroke="#3b853b" stroke-width="1.15"/>
<circle cx="185.8" cy="286.0" r="2.9" fill="none" stroke="#3b853b" stroke-width="1.15"/>
<circle cx="185.8" cy="294.0" r="2.9" fill="none" stroke="#3b853b" stroke-width="1.15"/>
<circle cx="185.8" cy="302.1" r="2.9" fill="none" stroke="#3b853b" stroke-width="1.15"/>
<circle cx="185.8" cy="306.4" r="2.9" fill="none" stroke="#3b853b" stroke-width="1.15"/>
<circle cx="185.8" cy="327.4" r="2.9" fill="none" stroke="#3b853b" stroke-width="1.15"/>
<line x1="185.8" y1="562.5" x2="185.8" y2="568" stroke="#333" stroke-width="1"/>
<text x="185.8" y="580.8" text-anchor="middle" class="bx">TT</text>
<line x1="257.5" y1="319.6" x2="257.5" y2="409.2" stroke="#333" stroke-width="1" stroke-dasharray="3,3"/>
<line x1="257.5" y1="470.2" x2="257.5" y2="538.0" stroke="#333" stroke-width="1" stroke-dasharray="3,3"/>
<line x1="244.0" y1="319.6" x2="271.0" y2="319.6" stroke="#333" stroke-width="1"/>
<line x1="244.0" y1="538.0" x2="271.0" y2="538.0" stroke="#333" stroke-width="1"/>
<rect x="230.9" y="409.2" width="53.2" height="61.0" fill="#d3d3d3" stroke="#333" stroke-width="1"/>
<line x1="231.4" y1="442.2" x2="283.6" y2="442.2" stroke="#dd1c1c" stroke-width="2.6"/>
<circle cx="257.5" cy="222.9" r="2.9" fill="none" stroke="#3b853b" stroke-width="1.15"/>
<circle cx="257.5" cy="238.5" r="2.9" fill="none" stroke="#3b853b" stroke-width="1.15"/>
<circle cx="257.5" cy="254.6" r="2.9" fill="none" stroke="#3b853b" stroke-width="1.15"/>
<circle cx="257.5" cy="260.0" r="2.9" fill="none" stroke="#3b853b" stroke-width="1.15"/>
<circle cx="257.5" cy="269.0" r="2.9" fill="none" stroke="#3b853b" stroke-width="1.15"/>
<circle cx="257.5" cy="275.7" r="2.9" fill="none" stroke="#3b853b" stroke-width="1.15"/>
<circle cx="257.5" cy="294.5" r="2.9" fill="none" stroke="#3b853b" stroke-width="1.15"/>
<circle cx="257.5" cy="297.0" r="2.9" fill="none" stroke="#3b853b" stroke-width="1.15"/>
<circle cx="257.5" cy="301.4" r="2.9" fill="none" stroke="#3b853b" stroke-width="1.15"/>
<circle cx="257.5" cy="308.0" r="2.9" fill="none" stroke="#3b853b" stroke-width="1.15"/>
<circle cx="257.5" cy="311.5" r="2.9" fill="none" stroke="#3b853b" stroke-width="1.15"/>
<circle cx="257.5" cy="314.8" r="2.9" fill="none" stroke="#3b853b" stroke-width="1.15"/>
<line x1="257.5" y1="562.5" x2="257.5" y2="568" stroke="#333" stroke-width="1"/>
<text x="257.5" y="580.8" text-anchor="middle" class="bx">TC</text>
<line x1="329.0" y1="251.5" x2="329.0" y2="376.0" stroke="#333" stroke-width="1" stroke-dasharray="3,3"/>
<line x1="329.0" y1="460.6" x2="329.0" y2="507.5" stroke="#333" stroke-width="1" stroke-dasharray="3,3"/>
<line x1="315.5" y1="251.5" x2="342.5" y2="251.5" stroke="#333" stroke-width="1"/>
<line x1="315.5" y1="507.5" x2="342.5" y2="507.5" stroke="#333" stroke-width="1"/>
<rect x="302.4" y="376.0" width="53.2" height="84.6" fill="#d3d3d3" stroke="#333" stroke-width="1"/>
<line x1="302.9" y1="429.5" x2="355.1" y2="429.5" stroke="#dd1c1c" stroke-width="2.6"/>
<line x1="329.0" y1="562.5" x2="329.0" y2="568" stroke="#333" stroke-width="1"/>
<text x="329.0" y="580.8" text-anchor="middle" class="bx">CC</text>
<path d="M139.5 210.5V562.5H376.5V210.5Z" fill="none" stroke="#555" stroke-width="1.2"/>
<text x="181" y="599.5" class="bxl" textLength="153.5" lengthAdjust="spacingAndGlyphs"><tspan font-style="italic">TFPI 221 N&gt;S</tspan> (rs7586970)</text>
</svg>
</body></html>
